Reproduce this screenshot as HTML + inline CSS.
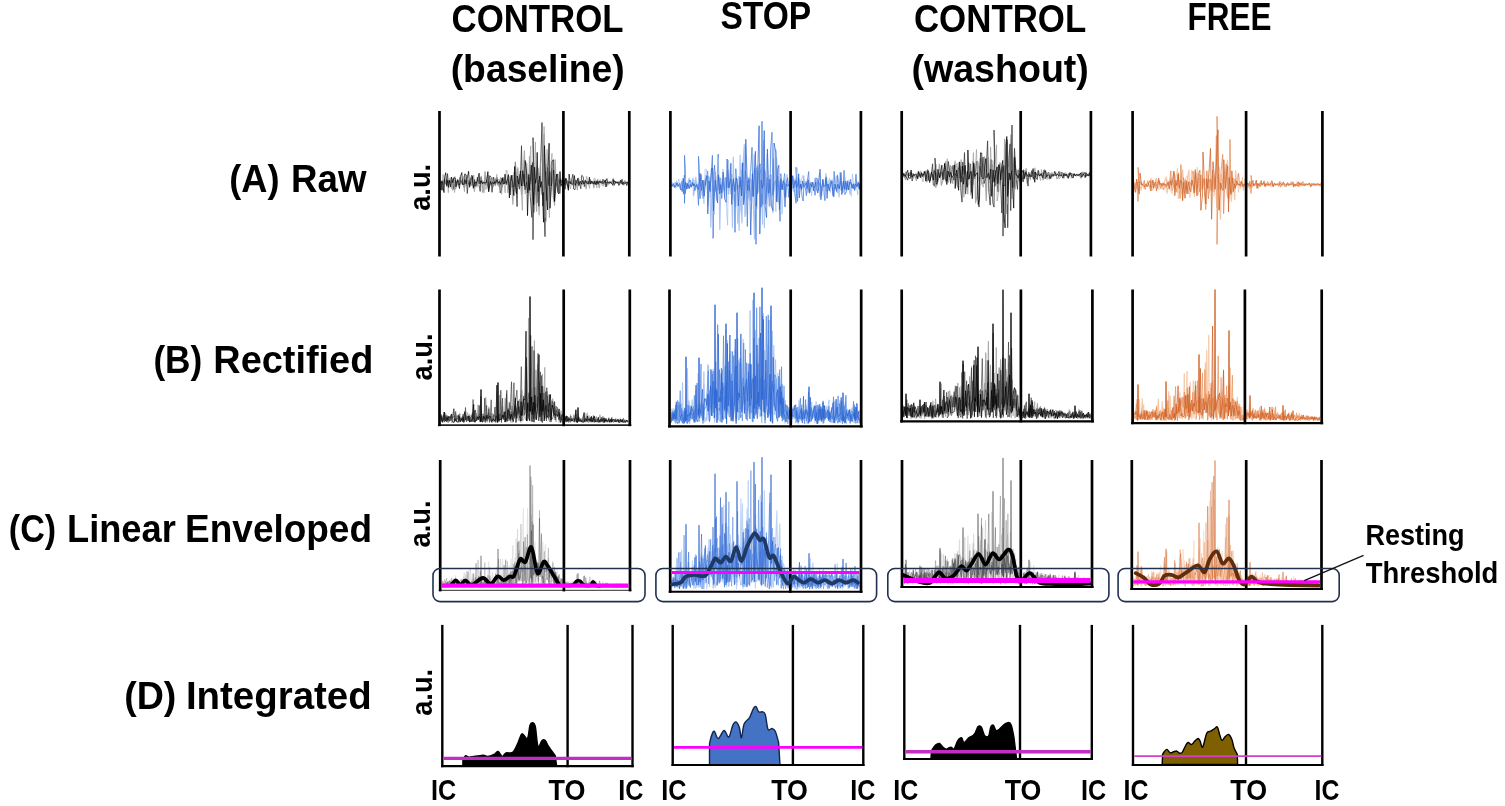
<!DOCTYPE html>
<html><head><meta charset="utf-8"><title>EMG processing figure</title>
<style>html,body{margin:0;padding:0;background:#fff;width:1505px;height:806px;overflow:hidden}svg{display:block}</style>
</head><body>
<svg width="1505" height="806" viewBox="0 0 1505 806">
<rect width="1505" height="806" fill="#fff"/>
<polyline points="440,180.5 440.8,185.4 442.3,180.6 443.2,184.2 444.5,179 445.8,182.7 447.2,180 448.7,184.4 450.2,178 451.4,182.7 452.7,190.1 453.3,179.4 454.9,176.7 455.6,188.8 457.4,182.4 458.9,182.9 459.7,177.7 461,183 462.3,179.6 463.2,185.1 464.3,188.3 465.1,173.8 466,185.8 467,180.3 468.4,184.4 469.7,180.9 471.2,185.3 472.4,181.2 473.6,175.4 474.4,191.3 475.4,182.2 477,186.9 478.4,179.3 479.6,182.7 480.6,182.1 481.7,181.7 482.4,186.6 483.9,192.6 485,171.5 486.6,182.8 488.1,181.7 489.6,186.5 490.9,179.2 492.5,177.9 493.4,186.4 494.2,181.8 495.4,185.6 496.9,180.6 498.4,186.1 499.7,180.6 500.7,177.6 501.6,193.9 502.4,178.6 503.9,184.1 505.5,180.9 507.1,183.7 508.6,180 509.6,191.8 510.4,177.8 511.9,188.2 512.9,204.3 514,172.3 515.2,187.1 516.6,176.5 517.8,167.8 518.8,186.5 520.3,174.5 521.7,194.3 523,180.7 524.4,150.9 525.2,193.6 526.7,163.1 527.6,189.9 528.8,187.7 529.5,156.6 531,183.7 532,173 533,184.7 534.3,170.9 535.2,184.7 536.6,211.3 537.4,166.5 538.3,187.8 539.1,214.7 540,173.1 541.6,194.4 542.8,177 544.1,134.3 545,219.7 546.1,221.1 547.1,149.7 547.9,183.8 548.9,181 550.4,197 552,168.6 553.4,189.6 554.6,205.1 555.2,159.9 556.1,186.2 557.4,184.8 558.4,179.2 559.9,183 561.3,180.9 562.8,183.2 564.1,184.7 565,180.4 565.8,185.4 566.9,180 568,183.8 569.2,182.5 570.2,182.7 571.6,181.4 572.6,180.7 573.7,186.1 575.1,181.7 576.5,184.9 577.4,189.7 578.3,178.1 580.1,183.2 581,181.4 582.4,184.7 583.9,181.8 584.9,183.2 586.1,189 586.9,181.4 588.5,184.5 589.7,182.2 590.8,182.9 591.7,182.5 592.9,181.9 593.9,187.8 594.7,180.5 596.3,183.4 597.3,180.3 598.3,183.5 599.4,187.6 600.1,179.8 601.5,182.6 603,181.1 604,185.1 605.4,180.6 606.6,182.1 607.5,184.6 609.3,183.6 610.1,181.3 611,181.6 611.9,183.3 613.2,182.5 614.6,184.1 615.8,182.2 616.8,183.2 618.2,182.2 619.3,183.2 620.4,182.4 621.9,181.2 622.9,183 623.8,185.1 624.6,180.9 625.7,181.3 626.7,184.8 628.5,181.7" fill="none" stroke="#9a9a9a" stroke-width="1.2" stroke-opacity="0.85" stroke-linejoin="round"/>
<polyline points="440,183.1 441.2,181.6 442.8,190.3 444.2,179.5 445.2,182.9 446.5,185 447.5,173.6 448.3,182.8 449.7,181.2 451,182.7 452.5,180.3 453.9,189.3 455.3,180.3 456.8,183 458.3,180.4 459.3,185.2 460.9,180.7 462.3,184.4 463.7,183.8 464.6,174.2 466.3,175 467.3,193.5 468.3,182.4 469.3,184.3 470.9,177.7 471.9,175.1 472.8,184.7 473.9,186.9 474.6,179.5 475.7,186.3 476.5,184.4 477.4,177.1 479,184.5 480.2,191.4 480.9,177.3 482.6,182.9 484.1,181.9 485.6,184.8 486.8,179.7 487.7,186.1 488.6,190.4 489.6,175.8 491,176.7 492,192.3 493.6,177.1 495.1,184.4 495.9,178.7 496.9,177.2 497.6,184.1 498.5,182.3 499.5,181.1 500.2,192.9 501.8,187 502.9,177.3 504.5,184.1 505.8,182.5 506.8,184.7 507.8,179.3 509.2,183.6 510.2,195 511.2,175.3 512.3,186.9 513.7,186.6 514.6,180.7 515.4,161.9 516.3,192.3 517.1,206.6 517.8,179.8 519.5,189.2 520.5,177.5 521.5,145.7 522.3,185.8 523.9,174.1 525,189.7 526.4,182.1 527.8,192.9 528.8,177.2 530.3,196.4 531.8,217.4 532.5,162.5 533,239.6 533.8,170.5 533,137.6 533.8,212.6 534.6,183.9 535.4,179 536.9,202.7 537.9,180.3 538.8,206.3 540,180.6 542,122.6 542.8,206 543.6,192.4 545,236.6 545.8,171.3 546.6,200.6 547.5,167.6 548.9,185.7 550.1,171.6 551.1,186 552.4,181.4 553.7,170.1 554.6,201 556.4,182.1 557.8,173.9 558.9,192.2 560,193.3 560.7,179.6 561.8,182.6 562.8,179.3 564.3,180.9 565.1,189.2 566.1,178.4 567.4,182.7 568.4,188.9 569.2,181.3 570.7,184 571.5,180.4 572.9,174.3 573.6,189 575,189.8 575.8,179.9 577.5,183.6 578.4,181.6 579.9,184.5 580.8,188.7 581.7,175.3 583.2,176.7 584.3,186.7 585.6,180.4 587.2,182.7 588,181.2 589.2,183.8 590.1,179.6 591.5,183.3 592.8,181.5 594.2,184.2 595.3,181.6 596.5,184.8 597.4,181.3 599,183 600,181.5 601.3,183.4 602.2,183.2 602.9,179.2 604.6,182.9 605.5,182.3 606.9,178.5 608,183.4 609.5,181.7 610.8,182.8 612.2,182 613.2,178.7 614,185.5 615.7,181.1 617.2,183.1 618.5,182.2 619.6,182.7 621,182.6 622.1,179.2 622.8,185 624,182.5 625.6,182.1 626.7,185.5 628.3,181.9" fill="none" stroke="#3a3a3a" stroke-width="1.0" stroke-opacity="0.8" stroke-linejoin="round"/>
<polyline points="440,182.6 440.9,183.5 442,185.5 443,174.4 444.8,183 445.7,183.7 446.5,178.7 447.5,183.3 448.3,192.7 449.2,180.9 450.1,183.7 451.4,188.8 452.4,179.6 453.8,179.3 454.5,192.5 455.9,180.7 457.1,185.3 458,182 458.9,184.3 459.8,178.2 460.9,184.6 462.5,180 463.6,176.3 464.4,191.7 465.2,180.1 466.8,183.2 468.2,180 469.6,186 471,181 472.2,186 473.5,181.8 474.7,183.8 476.1,182.5 477.3,183 478.3,181.9 479.4,182.9 480.3,176.8 481.5,176 482.3,192.6 484,182.4 485.2,176.9 485.9,189.6 487.1,179.5 488.2,175 489.1,188.6 490.8,178.5 492,184.2 492.9,182.5 494.3,183 495.7,183.8 496.8,174.3 497.8,185.2 498.9,179.1 500.2,181.6 500.9,191.3 502.6,181.2 504.1,184.5 505.2,192.8 506.1,170.3 507.1,170.5 507.7,192.8 509,181.1 510,176.1 510.8,186.1 511.9,181.3 513.4,191.9 514.7,191.1 515.5,162.1 516.5,179.2 517.5,187.2 519.3,174.5 520.8,184.5 522.4,210.4 523,175.2 524.7,185.6 526,174.6 526.9,173.8 527.9,187.4 529.2,175.1 530.7,145.9 531.5,192.6 533.1,192 534.1,178.9 535.4,142 536.3,203.7 538.1,168.2 539.1,186 540.4,161.4 541.6,188.4 542.9,181.3 544.1,126.5 545.1,217.9 546.8,164.6 547.9,186.5 549.4,217.6 550.4,168.4 552,153.3 553.1,198.6 554,199.2 554.9,174.3 556.5,183.2 557.6,179.4 558.7,185.3 559.7,181.9 561.2,186.9 562,178.3 563.5,175.8 564.1,188.7 565.7,179.2 567.2,183.8 568.2,182.6 569.1,184.5 570.5,188.8 571.3,181.2 572.1,185.3 573.4,181.3 574.6,184.4 575.4,182.2 576.7,185.4 577.8,185.3 578.5,181.2 580,185.1 581.1,181.6 581.9,183.5 582.8,180.9 584.2,180 584.8,183.3 585.9,183.1 586.6,176.2 588.4,183.3 589.5,188.4 590.2,180.2 591.8,182.8 593.3,184.4 594.1,178.3 595.1,178.4 595.9,184.1 596.9,188 597.7,178.9 598.9,183.2 599.7,181 600.7,181.8 601.8,184.8 603,186.3 603.9,180.2 605.4,180.4 606,186.5 607.7,185.9 608.5,181.6 610,182.9 611.3,182.5 612.1,183.1 613.2,186.1 614.1,181.3 615.6,182.9 616.5,182.1 617.4,182.9 618.5,181.9 619.9,181.4 620.6,182.9 621.9,182.9 622.5,181.9 623.3,181.3 624,183.2 624.9,182.4 626.2,183.2 627.4,181.7 628.6,181.1" fill="none" stroke="#9a9a9a" stroke-width="1.0" stroke-opacity="0.65" stroke-linejoin="round"/>
<polyline points="440,185.9 441.2,190.2 442,180.9 442.9,185.8 444,192.6 444.7,176.8 445.7,172.7 446.8,186.3 447.7,180.2 448.6,187.5 449.4,180.3 450.6,186.9 451.5,177 452.9,182.7 453.8,177.8 455.2,178.1 456,186.8 457.4,179.5 458.3,183.5 459.5,188.5 460.4,176.7 461.8,172.6 462.5,184.2 464.2,184.4 464.8,179.5 466.2,183.9 467.5,176.8 468.6,171.3 469.6,187.3 471.3,179.7 472.5,176.5 473.3,188.3 474.9,181.8 476,183.5 477.6,180.2 479.1,173.2 479.9,183.8 481.2,180.7 482.5,184.1 483.5,182.5 484.9,183 486.5,182.4 487.9,171.6 488.7,191.9 490.3,181.4 491.2,184.5 492.6,182.2 493.7,184 494.7,181.9 495.6,183.2 497,179.5 498.2,183.1 499.8,181.5 500.7,184.4 502.2,178 503.2,183.9 504.1,183.6 505,174.2 506,183.3 507.3,179.6 508.4,174.6 509.4,197.9 510.4,181.7 512,175.2 513.1,188.9 513.9,195.6 514.7,166.5 515.6,187.6 516.5,193.7 517.3,175.9 518.9,184.2 520.4,170.9 521.5,186.1 522.8,170.7 524.4,186.2 525.2,160.5 526.8,175.8 527.5,215.6 528.8,174.4 529.8,190.3 531.3,165.1 532.8,193.2 533.6,204.7 534.6,167.2 535.6,183.3 536.4,179.3 537.2,152.4 538.2,191.5 539.7,176.2 540.6,187.2 541.6,181.7 542.7,197.8 543.5,222.2 544.5,145.7 546.1,185.8 547.6,210 548.2,166.7 549.1,143.3 550,208.3 551.3,186.6 552,161.2 553.6,159.8 554.3,201.7 555.6,182.3 556.7,174 557.7,192.1 558.9,194 560,171.5 560.9,185.8 562.1,183.6 563.1,173.8 564.1,182.6 564.9,184.7 565.6,178.4 566.4,181.4 567.4,185 568.4,190.3 569.1,174.1 570.4,183.3 571.3,182.5 572.1,184.5 573.4,183.2 574.4,175.6 575.3,185.3 576.7,182.3 577.9,178.2 578.9,185.6 580.2,181.3 581.6,184.1 582.6,180.4 583.5,183.6 584.4,183.5 585.3,180.5 587,183.7 588.6,183.5 589.4,177.2 590.5,184.1 591.5,180.9 592.7,183.4 593.7,183.7 594.5,181.1 595.8,184.6 597,180.8 598,184.2 599.1,181.1 600.2,182.6 601.1,181.3 602.6,183.7 604.1,182.4 605.3,179.9 605.9,186.9 607.1,182 608.2,182.7 609.6,183 610.4,182 611.9,184.2 613,184.4 613.8,180.1 615.6,183 616.7,182.4 617.9,182 618.8,185.4 619.6,184.8 620.5,180.2 622,184 623.2,182.3 624.5,183.8 626.1,182.6 627.1,182.7 628.3,182.4" fill="none" stroke="#000000" stroke-width="0.9" stroke-opacity="0.8" stroke-linejoin="round"/>
<line x1="439.5" y1="111" x2="439.5" y2="256.5" stroke="#000" stroke-width="2.7"/>
<line x1="563.4" y1="111" x2="563.4" y2="256.5" stroke="#000" stroke-width="2.7"/>
<line x1="629.3" y1="111" x2="629.3" y2="256.5" stroke="#000" stroke-width="2.7"/>
<polyline points="670.9,184.9 672.2,185.6 673.7,184.6 674.6,186.3 675.8,188.1 676.6,180.8 677.8,186.9 679,185 680,186.1 681.3,182.8 682.8,180.6 683.8,192.8 684.9,184.2 686.5,186 687.6,187.4 688.3,180.6 689.2,178.1 690.1,187.1 691.5,184 692.9,178.1 693.5,195.9 695.2,186.3 695.8,177.3 696.8,186.8 698.1,184 699.3,190.8 700.5,183.9 702,195.1 703,181.7 704.2,191.8 705.7,175.6 707.1,176.5 708,205.7 708.8,176.3 709.9,179.8 710.8,227.2 712.2,184.7 713.1,191 714.3,190.5 715.3,172.3 716.5,200.2 717.6,178.6 719,177.2 719.8,229.6 720.9,182.4 722,189.2 722.9,169.4 724.2,189 725,177.5 726.6,194.3 727.6,172.1 728.7,194 730,178.3 731.5,190.1 732.5,227.3 733.3,157.2 734.2,199.3 735.6,206.7 736.4,178.2 738,196.3 739.2,230.4 740.1,155.2 741.1,208.3 742,222.9 742.7,168.9 744.3,144.3 744.9,216.6 745.8,213.3 746.6,175.6 748,198.8 748.9,180.6 750.5,200.3 751.6,179.6 753,193.9 754.5,239.1 755.6,170.7 756.9,208.6 757.7,171.5 758.9,188.9 760.3,169.6 761.3,189.8 762.7,224.3 763.4,142.5 764.6,185.5 765.5,172 766.4,197.6 767.6,184.3 769,196 770,175 771.4,175.4 772.2,196.4 773.1,184.2 774.1,190.8 775,184.6 776,149.9 776.8,200.8 778.5,188.1 779.1,181.5 779.9,192.2 781,184.8 782.6,186.6 783.4,189.1 784.3,179.6 785.2,194.1 786.3,196.9 787.1,174.5 788.3,185.7 789.5,182 790.9,186.2 792,185.1 793.4,191.2 794.6,181.7 795.4,179.1 796.2,199.7 797.6,181.8 798.8,188.7 800.4,181.3 801.5,188 802.7,187.5 803.8,176.1 804.9,186.2 806.3,181.3 807.9,192.7 809.5,183.3 810.4,190.9 811.4,184.7 812.5,187 814,187.4 814.7,178.6 816.3,186.4 817.3,178.6 818.9,182.7 819.9,196.8 821.6,187.8 822.7,184 823.9,186.1 824.9,186.9 825.8,173.6 827.1,181.7 828.2,186.8 829.6,182.2 830.4,186 831.4,180.4 832.7,182.4 833.8,189.2 835.4,188.5 836.1,177.1 837.4,175.1 838,186.8 839.1,196.9 840,172.3 841.6,181.7 842.6,192.8 843.9,185.3 845.4,188.7 846.3,181.6 847.4,187.5 848.9,180.1 850.3,193.6 851.6,182.8 852.9,188.4 854,184.7 855.1,189.8 856.7,181.7 858.2,186.2 859.4,184.2 860.4,187.6" fill="none" stroke="#9dbcee" stroke-width="1.2" stroke-opacity="0.85" stroke-linejoin="round"/>
<polyline points="670.9,186.7 672.4,185.1 673.7,186.7 674.6,187.4 675.7,182.8 676.8,183.8 677.6,186.3 678.5,185.1 679.5,187.1 680.8,190 681.7,181.6 682.6,185.9 683.5,194.2 684.4,175 684.5,203.3 685.3,173.1 684.5,155.3 685.3,193.6 686.1,186.1 686.9,183.1 687.8,187.9 688.7,182.3 690.3,180 691,186.4 692.6,184.6 693.8,183.9 694.9,190.7 696.6,184.3 697.6,190.7 698.5,205.3 699.3,173.9 698.5,156.3 699.3,191.5 700.1,198.8 701.1,174.4 702,186.8 703.2,198.5 703.9,180.3 705,185.8 706.2,181.6 707.6,171 708.7,188.4 710,189.3 710.8,180.8 712.4,155.4 713.3,235.8 713,238.3 713.8,174.2 714.6,165 715.9,191.4 717,183.7 718.2,154.1 719.1,189.4 720.2,177.8 721.7,198.5 723,182.6 724.4,191.7 725.8,177.6 727,187.6 728.1,169.7 729.3,187.7 730.8,179 731.8,190.5 733.2,180.6 734.3,186.3 735,232.3 735.8,168.7 736.6,181.9 737.4,189.9 738.4,185 739.6,188.2 740.9,179.7 741.7,195.4 742.9,162.6 744.1,201 745.4,170.8 746.5,179.5 747.3,226.5 748.3,180.3 749.3,190.6 750.9,167 752,147.4 752.9,196 754.6,168.1 756,244.3 756.8,167.6 757.6,193.7 758.9,166.8 760.2,163.8 761.2,207.1 762,121.3 762.8,204.7 763.6,177.7 764.6,169.9 765.6,203.8 767.2,177.5 768.5,194.2 769.9,205.8 770.6,149.4 772,132.3 772.8,195.1 773.6,187.1 774.5,181.8 775.7,180.6 776.6,201.5 777.6,176 779.1,193.3 780,221.3 780.8,173.7 781.6,182.1 782.6,190 783.7,181 784.6,173.6 785.2,197.4 786.2,182.4 787.6,177.8 788.7,197.4 790.2,180.1 791.4,188.8 792.3,182.7 793.8,178.6 794.6,192.7 796,203.3 796.8,181.4 796,167.3 796.8,190.2 797.6,201.4 798.6,177.9 799.8,187.9 801.1,184.2 802,196.3 803.2,201 803.9,183 805.4,188 806.4,195.7 807.4,180.6 808.7,171.6 809.5,193.3 811.1,186.8 811.8,182.1 813.1,183.8 813.8,187.3 815.1,195.3 815.9,177.7 817.2,179.6 818.1,191.2 819.7,182.5 820.7,185.4 822,191.1 822.7,180.4 824,189.1 824.9,200.6 825.8,179.5 827,185.7 828.1,184.3 829.5,189.4 830.8,180.4 832.4,187.6 833.4,196.4 834.1,171.3 835.1,185.8 836.6,188.7 837.5,175.4 839.3,188.6 840.5,181.6 841.9,190.5 843.3,184.8 844.1,170.3 844.9,194.5 846.6,191.3 847.4,180.7 849,190.1 850.6,179.4 851.8,187.6 852.7,184.3 853.6,188.6 855.1,184.7 856,174.2 856.9,187.2 858.4,181.8 859.6,189.6" fill="none" stroke="#4a82e0" stroke-width="1.0" stroke-opacity="0.8" stroke-linejoin="round"/>
<polyline points="670.9,184.6 672.1,182.4 673,186 673.9,184.7 675,182.1 675.8,185.7 677.4,185.1 678.9,178.9 679.6,187 681.3,189.1 682.3,178.4 683.5,178.7 684.1,187.5 685.3,178.1 686.2,185.6 687.6,189.1 688.4,182.9 689.7,188.4 690.9,182.1 692,185.9 693.2,182.4 694.1,179.7 695,186.9 696.5,184.5 697.5,185.5 698.7,180.1 700.1,189.5 701.6,184.9 702.5,192.1 704,203.8 705.1,169.2 706.6,169.4 707.7,194.2 709.3,177.9 710.4,197.6 711.4,171.3 712.9,188.5 714.3,214.8 715.1,181.7 716.5,185.7 717.5,191.1 718.2,157.9 719,189.5 720,193 720.8,178.1 722.5,191.3 723.4,179.1 724.6,196.8 725.7,179.1 726.8,212 727.6,225.2 728.5,160.1 729.7,180.1 730.5,194.2 731.6,174 733.2,179.2 734.2,194.3 735.4,174.4 736.3,190.4 737.8,223.7 738.8,176 740.2,196.6 741.2,212.4 741.9,169.8 743.4,186.2 744.5,201.6 745.6,146.1 746.8,190.6 748,183 749.3,185.4 750.3,169.9 751.9,196.1 753.1,190 754.1,154.4 755,202.1 756.1,191.7 757.1,165.1 758.8,192.2 760.1,173 761.3,193.7 762.7,179.7 763.7,140 764.4,228.2 765.7,179.2 767.2,153.8 768.2,204 769.6,207.1 770.6,179.9 771.9,197.7 773,212.9 773.6,158.7 774.9,185.9 775.9,211.7 776.6,157.2 777.5,168.7 778.3,202.9 780.1,183.4 781,175.9 782,214.2 783.7,184.8 784.9,175.3 785.7,188.5 787,182.8 788,187.4 789.1,184.7 790.1,183.3 791.1,190.7 792.2,189.3 793,176.2 794.6,189.9 795.7,179.6 797.1,167.6 798.2,193.6 799.9,179.7 800.8,186.5 801.6,178.5 802.9,175.3 804,186.9 805.7,181.1 806.9,187.3 808.3,182.3 809.2,188.9 810.1,181.5 811.5,195.8 813,184.6 814.2,186.5 815.6,189.5 816.4,183.3 817.9,187 819.1,184.6 820,173.1 821,190.1 821.9,196.2 822.9,180.5 824,195.5 825.3,183.5 826.5,182.9 827.1,191.8 828.3,182.6 829.6,178 830.5,192.5 832,182.8 833.2,178.6 834.1,188 835.7,181.7 836.6,180.3 837.3,193.2 838.9,180.4 839.9,181.3 840.7,190.4 841.5,183 842.8,187 844,192.4 845,177.1 846.6,189.9 847.5,185.2 849.1,183.7 849.7,194 851.5,196.3 852.4,173.9 853.8,185.8 855.3,183.8 856.7,188 857.7,194.7 858.6,182.7 859.6,188.8" fill="none" stroke="#9dbcee" stroke-width="1.0" stroke-opacity="0.65" stroke-linejoin="round"/>
<polyline points="670.9,184.8 672.3,186.2 673.3,183.5 674.5,186.6 676,185.9 677.1,182.9 678.2,185.5 679.7,183.4 680.7,188 682.2,191.5 683.3,178.5 684.4,187.8 685.5,182.2 686.7,189.2 687.7,183.6 689.1,188.7 690.2,184.4 691.3,187.2 692.5,182.4 693.3,186 694.2,183.6 695.2,186.8 696.7,184.6 698.1,189.4 699.1,186.9 700,173.3 701.4,190.2 702.8,180.1 704.2,196.3 705.6,180.2 707.1,175.6 707.8,213.9 709.1,181 710.1,191.7 711.5,168.5 712.7,168 713.5,210.9 715.2,180.2 716.1,189.2 717.5,203 718.3,174.9 719.8,194 720.7,184.5 721.8,192.7 723.2,172.2 724.7,199 726.1,202.3 727.1,159 728.7,187.8 730.1,180.9 730.9,163.2 731.7,204.4 733.3,178.8 734.9,191.6 736.1,177.9 737.2,179 738.3,205.9 740,176.8 741.5,196 742.3,163.3 743.6,204.6 745,191.2 745.8,139.2 747.5,190.5 748.5,177.8 749.7,179.2 750.7,235 752.4,173.6 753.2,196.8 754.1,178.8 755.4,151.3 756.2,206.1 757.6,175.4 759.1,125.8 759.8,234 761.2,180.2 762.5,188.3 763.3,183.6 764.2,130.6 765.1,206.3 766.6,217.6 767.4,149.1 768.9,193.2 770,179.2 771.5,206.8 773,210.7 774,143 775.8,152.1 776.8,201.9 777.7,169.1 778.8,165.3 779.4,209.6 780.8,178.8 781.9,189.5 783.1,180.8 784,182.6 785,206.9 786,183.7 787.5,186.2 789,184.2 790.6,185.4 791.8,185.2 792.7,175.6 793.5,188.2 795.3,180.7 796.5,187.3 797.8,184.9 798.7,173.8 799.3,197.9 800.6,184 801.7,189.4 802.6,181 804,187.1 805.3,185.2 806.4,182.5 807.1,188.6 808.2,179.8 809.3,192.4 810.3,183.3 811.8,186.6 812.8,182.1 813.6,190.9 814.9,184.7 815.8,182.2 816.4,188.9 817.8,193 818.6,181.1 820.1,169.2 820.9,199.8 822,187.6 822.9,179.1 823.9,186.8 825.3,185.2 826.1,177.3 827.1,198.4 827.9,184.1 829.2,191.1 830.6,184.5 832.1,181.4 832.8,195.1 833.9,196.7 834.9,184 836.5,191.5 837.8,184.2 839.2,188.6 840.1,184.9 841,172.5 841.8,194.6 843.3,181.4 844.4,189.2 845.3,181.2 846.3,190.1 847.2,182.7 848.2,190 849.8,182 851.3,184 852.1,188.2 853.6,183.8 854.5,190.4 855.6,183.9 857,186.6 858.4,183 859.2,189 860,183.2" fill="none" stroke="#2b62d0" stroke-width="0.9" stroke-opacity="0.8" stroke-linejoin="round"/>
<line x1="670.4" y1="111" x2="670.4" y2="256.5" stroke="#000" stroke-width="2.7"/>
<line x1="790.6" y1="111" x2="790.6" y2="256.5" stroke="#000" stroke-width="2.7"/>
<line x1="860.9" y1="111" x2="860.9" y2="256.5" stroke="#000" stroke-width="2.7"/>
<polyline points="902.2,176.3 903.2,174 904.8,177.5 905.7,179.8 906.6,173.5 908.3,175.7 909.3,173.3 910.8,172.1 911.8,175.8 913.1,178.4 914,174.3 915.3,177.2 916.4,180.6 917.1,173.6 918,175.6 919,176.8 919.8,174.1 921.1,176.8 922.4,174.3 923.7,177 924.8,172.9 926.3,170.7 927,176 928.4,180.1 929.1,173.4 930.3,178.7 931.1,174 932.4,175.5 933.7,179.8 934.7,170.2 936.1,164.6 936.7,185.8 938.4,179.6 939.3,164 940.3,170.5 941.3,185.3 942.9,180.6 943.6,169.7 944.7,176.7 945.7,181.7 946.4,168 947.2,159 948.1,182.4 949.3,177.8 950.4,165.7 951.6,178.2 952.7,183.4 953.7,171.8 955.1,161 956,185.5 957.2,174.6 958.2,162.9 958.9,177.6 960.2,178.4 961.1,159.9 962.4,168.6 963.1,184.8 963.9,197 964.7,166.5 966.3,179.6 967.8,193.8 968.6,162.7 970.1,172.2 970.9,195 971.8,174.4 972.8,184.7 974,163.2 974.9,170.5 975.6,202.8 976.9,196.7 977.8,172.2 979,181 980.2,158.6 981.1,159.1 982,183.9 983.4,183.1 984.4,157.1 985.2,177.5 986.3,200.6 987.1,169.2 988.4,158.2 989.3,182.7 990.8,163.2 992.3,177 993.2,180.6 994.2,160.9 995.9,184.9 997.1,167.7 998,179.4 998.8,172.4 1000.1,184.2 1001,163.2 1002.2,176.1 1003.6,221.9 1004.6,139.2 1005.4,176 1006.7,213.6 1007.4,142.7 1008.4,193.6 1009.5,165.8 1010.9,134.8 1011.8,198.5 1012.7,172.9 1014.2,156.9 1015.3,189 1017,170 1018.2,173.1 1019.3,180.9 1020.9,172.5 1022.3,173.1 1023.3,181.7 1025,173.9 1026.2,168.5 1027.2,183.2 1028.2,174.3 1029.1,176.6 1030.4,179.6 1031,172.8 1032.4,176.2 1034,179.4 1034.8,168.1 1035.8,176 1036.8,177.4 1037.8,171.9 1038.8,171.4 1039.6,175.6 1041.3,174 1042.2,172.9 1042.9,179.8 1044.5,178.4 1045.5,171.6 1047,173.3 1047.7,176.9 1049.4,179.1 1050.3,173.9 1052,172.7 1053,176.6 1054.7,174.8 1056.1,173 1056.8,178.7 1058.2,177.8 1059,173.6 1060.8,172.2 1061.5,175.4 1063.2,174.9 1064.4,175.5 1065.5,174.5 1066.6,175.6 1067.9,174.5 1069.5,175.2 1070.8,174.6 1071.7,175.3 1072.8,176.1 1073.6,174.7 1074.7,174.4 1075.5,175.4 1076.9,174.3 1078,175.2 1078.9,174.7 1080.1,175.3 1081,178.2 1082,174.8 1083,172.2 1084,175.4 1085.2,177.1 1086,172.4 1087,175.2 1088.3,174.6 1089.9,175.5" fill="none" stroke="#9a9a9a" stroke-width="1.2" stroke-opacity="0.85" stroke-linejoin="round"/>
<polyline points="902.2,174.1 903.7,176.3 904.8,174.9 906.2,176.8 907.7,180.2 908.6,173 909.4,175.9 910.6,173.1 911.5,173.2 912.2,181 913.1,173.5 914,175.3 915.3,174.2 916.7,174.2 917.5,178.1 918.5,172.6 920,176.1 921.2,172.4 922.7,176.9 923.6,172.7 925,172.3 925.8,176.2 926.9,181.2 927.7,169.6 928.9,172.8 929.6,182.7 931.3,174.8 932.6,163.8 933.3,185 934.5,186.1 935.4,167.8 935,158.1 935.8,180.1 936.6,172.5 937.4,181.5 939,172.9 939.9,177.1 941.3,171.9 942.6,176.6 943.6,172.9 944.6,163.7 945.6,180.2 947.3,180.7 948.3,161.5 949.5,170.1 950.6,183.4 951.7,172.6 953.1,165.3 953.7,180.1 954.9,173.4 956.2,175.5 957.4,176.2 958.2,169.1 959.9,166.5 960.9,191.1 962,202.1 962.8,162.1 963.6,173.7 964.5,152.6 965.6,194.1 967.3,171.1 968.3,179.8 969.7,173.6 970.6,164 971.4,192.5 973.2,161.4 974.7,178.8 976.1,165.3 977,161 978,196.9 979,207.1 979.8,166.4 980.6,170.1 981.6,177 983.1,157.1 984.1,183.5 985.6,178.7 986.3,167 987.6,140.9 988.6,188.6 990.2,205.1 990.9,159.8 991.8,160 992.8,202.9 994,207.1 994.8,155.6 994,130.1 994.8,186.5 995.6,170.4 996.8,180.2 998.1,191.9 998.8,165.2 1000.4,175.9 1001.8,213 1002.9,166.8 1003,236.1 1003.8,165.4 1004.6,185.9 1006,173.7 1007,139.5 1007.7,227.7 1008.9,158.6 1010.1,143.8 1010.7,210.6 1012,125.1 1012.8,187.8 1013.6,180.4 1014.5,148.3 1016.1,177.5 1017.5,189.4 1018.3,170 1019.4,174.1 1020,181.6 1021.2,171.1 1022.3,176.9 1023.1,181.7 1023.7,169.7 1024.9,176.6 1026.2,171.1 1028,186.1 1028.8,172.3 1029.6,176.7 1030.8,176.9 1031.7,170.6 1033.1,178.3 1033.9,179.2 1034.9,172 1035.7,177.5 1037.3,179.7 1038.2,170.2 1039.2,176 1040.7,175 1042.3,176.2 1043.7,174.3 1044.7,171 1045.6,178.7 1047.4,174 1048.8,172.2 1049.6,178.2 1050.7,174.5 1051.8,175.3 1053.4,174.5 1054.2,174.7 1054.9,175.4 1056.6,175.5 1057.6,174.7 1059,171.4 1059.7,175.4 1061.1,175.6 1061.9,172.2 1063.3,174.3 1064.3,176.3 1065.6,174.2 1066.7,174.1 1067.4,177.4 1068.2,178.5 1069,173.2 1069.9,175.1 1071.2,173.4 1072.6,174 1073.2,175.5 1074.3,173.6 1075.5,175.5 1076.8,174.7 1077.8,175.6 1079.3,175.6 1080,173.9 1081.3,172.5 1082.1,175.8 1082.9,174.1 1084.3,175.1 1085.4,177.4 1086.3,173.1 1087.5,175.3 1088.3,173.7 1089.5,176.2" fill="none" stroke="#3a3a3a" stroke-width="1.0" stroke-opacity="0.8" stroke-linejoin="round"/>
<polyline points="902.2,173.8 903.1,176 904.8,178.1 905.6,171.6 907,175.5 908,174.9 909.3,172.9 909.9,175.8 911.2,174.5 912,173.7 912.7,179.2 914.2,174.9 915.3,176.6 916.8,177.3 917.9,171.6 918.9,175.9 919.8,174.9 920.8,170.7 921.8,178 923,181.8 924,171.1 925.6,175.1 926.9,182.2 927.7,170.9 929.4,175.3 930.7,173.8 932.1,175.9 933,181.2 933.7,173.6 934.8,176.6 935.8,188 936.4,169 938,178.3 939.6,169.3 940.9,176.4 942,171.7 943.6,178.5 944.6,178.8 945.4,161.4 946.8,176.6 948,172.4 949.2,177.8 950.5,177.2 951.6,166.3 953.3,175.5 954.4,179.2 955.1,169.9 956.5,163.7 957.4,187.6 958.7,180.4 959.7,165.8 961.2,166.7 961.9,178.1 963.5,170.9 965,178.3 966,172.2 967.2,183.2 968.7,184.7 969.8,163.2 971.2,181.3 972.6,166.3 973.4,152.6 974.2,178.5 975.2,171.4 976.5,149.5 977.5,191.1 978.7,162.5 979.7,176.6 980.7,173.2 981.9,184.3 983.3,187.2 984.1,156.7 985.5,175.3 987.1,173.7 988.1,157.5 988.8,186.4 989.7,191.5 990.6,146.9 991.8,177.9 992.7,164.6 994.1,177.4 995.1,167 996.5,144.8 997.1,200.9 998.8,192.2 999.8,162.1 1001.5,172.4 1002.1,183.1 1003.1,172.2 1004.3,184.9 1005.5,174 1006.4,169.9 1007.4,204.2 1008.4,167.1 1009.5,179.5 1010.7,170.9 1012.2,171.6 1013.3,178.2 1014.7,187.3 1015.5,163.2 1016.5,180.3 1017.9,174.3 1019.2,168.4 1019.9,183.2 1021.2,181.9 1022.2,170.2 1023.7,176.6 1025,178.5 1026,171.2 1026.9,175.1 1028.4,178.1 1029.4,173.2 1030.6,176.7 1031.7,174.3 1032.5,173.5 1033.3,176.9 1034.6,174.3 1035.9,176.4 1036.7,176.6 1037.6,173.6 1039.1,175.9 1040.6,180.6 1041.4,169.4 1042.5,174.6 1043.1,175.6 1044,177.5 1045,173.7 1046.2,175.2 1047.2,179.4 1047.9,172.3 1049.3,173.5 1050.3,175.5 1051.2,174.7 1052.3,176.9 1053.5,174.8 1055,174.2 1056,175.7 1056.8,175.1 1058.2,173 1059,178.8 1060.3,177.6 1061.1,172.4 1062.6,175.6 1064.2,178.4 1065.2,172.2 1066.4,174.3 1067.3,176.8 1068.8,174.8 1070.4,172.4 1071.4,178.3 1072.6,175.5 1073.6,173.2 1075.1,175.2 1076.2,176.5 1077.3,174.6 1078.8,173.9 1079.8,176.8 1081.5,176.5 1082.6,172 1083.6,172.4 1084.6,178 1085.5,174.6 1086.8,175.5 1088.4,174.1 1089.7,173.6" fill="none" stroke="#9a9a9a" stroke-width="1.0" stroke-opacity="0.65" stroke-linejoin="round"/>
<polyline points="902.2,175.3 903.2,175.7 903.8,173.2 905.3,176.6 906.3,173.3 907.7,170.3 908.7,177.9 910.3,178.4 911.1,170 912,177.3 913.2,174.9 914.7,175.3 915.5,174.8 916.4,175.5 917.7,178.9 918.6,171.3 919.5,174.4 920.5,177.7 921.6,172.9 922.7,175.6 923.6,175.1 924.8,171.4 925.8,181.2 926.6,174.5 928.1,171 928.8,180.2 930.3,180.7 931.4,172.1 932.5,175.3 933.3,180.2 934.1,170.6 935.4,172.2 936.1,183.6 937.1,184.2 937.9,169.3 939.6,178 940.4,174.7 941.8,165.1 942.8,179.8 943.6,179 944.7,163.4 946.1,171.8 946.8,184.5 948,171 949.4,177 950.5,172.3 952,177.7 953.5,175.1 954.6,164.9 955.2,188.5 956.6,170 957.6,178.4 958.6,190.3 959.6,161.9 961.1,182.2 962.4,166 963.5,184.2 965.1,165.3 966.2,180.4 967.3,187.2 967.9,150 969,179 970.5,171.9 971.3,171.4 972.3,198.6 973.7,163.2 974.7,176.5 976,174.1 977.4,172.8 978.2,204.5 979.5,199.5 980.5,152.8 981.7,153 982.3,178.7 984,177.9 984.7,166.3 985.8,158.5 986.9,177.8 988.3,173.3 989.5,179.3 990.8,169.2 991.7,196.3 993.1,169.9 994,182.2 995.6,173.8 997,166.8 997.8,183.7 999,164.4 1000.2,171.5 1000.8,179.8 1001.6,168.9 1002.8,160.4 1003.9,212.5 1005.1,227.9 1005.9,145.1 1006.8,136.5 1007.7,196.4 1009.1,173 1010.2,179.8 1011.7,170.7 1012.9,191.1 1013.7,208.1 1014.7,157.4 1016.1,175.3 1016.9,174.7 1018.1,178.2 1019.3,174.3 1020.9,176.7 1022.1,171 1023.4,171.4 1024.1,178.8 1025.8,172.3 1027.2,175.6 1028.8,176.5 1029.5,174.2 1031.1,176.9 1032.1,174.9 1033.1,168.6 1034,177.8 1034.8,182.3 1035.5,172.1 1037.1,175.4 1038.6,174.4 1039.8,175.8 1041.2,173.5 1042.2,176.3 1043,178.2 1044,169.9 1045.5,170.6 1046.6,176.8 1048.2,174.8 1049.8,176 1050.8,178.7 1051.9,174.6 1052.9,175.7 1053.7,175.4 1054.7,171.3 1056.2,175.4 1057.7,174.3 1059.1,176.3 1060.5,174.9 1061.5,175.1 1063,178.2 1063.9,173.3 1065.2,175.8 1066.2,174.2 1067.5,176.6 1068.8,177.5 1069.9,172.7 1071.3,174.8 1072.2,177.5 1073.2,177.9 1074.1,174 1075,175.9 1076.4,174.6 1077.4,175.1 1079,175 1080.6,173.2 1081.3,177 1082.2,176.8 1083.2,174.7 1084.9,172.4 1085.7,176.8 1087.4,174.6 1088.2,175.9 1089.1,175.4 1089.7,172.2" fill="none" stroke="#000000" stroke-width="0.9" stroke-opacity="0.8" stroke-linejoin="round"/>
<line x1="901.7" y1="111" x2="901.7" y2="256.5" stroke="#000" stroke-width="2.7"/>
<line x1="1020.7" y1="111" x2="1020.7" y2="256.5" stroke="#000" stroke-width="2.7"/>
<line x1="1090.9" y1="111" x2="1090.9" y2="256.5" stroke="#000" stroke-width="2.7"/>
<polyline points="1133.1,182.9 1134.1,191.1 1135,183 1136.4,189 1137.8,181.7 1138.8,181 1139.9,185.9 1141.3,190.2 1142.1,183.8 1143.1,185.1 1144,188.5 1144.8,183.9 1145.8,184.5 1146.8,186.3 1147.8,180.5 1149.1,186.1 1150,189.2 1150.9,178.2 1152.1,183.9 1152.9,190.2 1154.7,185.7 1155.8,178.9 1156.8,181.5 1157.4,188.1 1159,181.1 1159.9,185 1161.2,183.9 1162.5,186.2 1163.5,185.1 1164.5,181.1 1166.3,177.1 1167,193.1 1168.7,184.2 1169.7,187 1171.2,178 1172.5,184.7 1173.6,181.2 1174.5,190 1175.7,183.1 1176.6,185.6 1177.7,192.4 1178.6,172.7 1180,192.1 1181.3,183.8 1182.7,169.8 1183.7,189.7 1184.9,179.6 1186.4,191.1 1187.4,179.6 1188.9,170 1189.9,197.5 1190.8,182.8 1192.3,185.1 1193.3,177.1 1194.4,196.7 1195.2,173.1 1196.5,187.5 1197.6,184.3 1198.7,187.5 1199.8,175.2 1200.9,190.5 1202.3,180.7 1203.7,184.8 1204.7,178.6 1206,184.4 1207.2,187.4 1207.9,170.7 1209.3,192.8 1210.7,179 1212.2,189.8 1213.1,175.2 1214.2,191.7 1215.3,172.5 1216.8,207.4 1217.8,177.9 1219.1,197.6 1220.5,219.2 1221.3,174.7 1223.1,185.8 1223.9,174 1224.8,185.2 1226.3,177.3 1227.5,160.4 1228.6,201.6 1229.7,176.7 1231.3,201.2 1232.9,178.4 1233.9,186.6 1234.8,199.7 1235.6,170.6 1236.5,184.9 1237.4,182.4 1238.3,185.2 1239.3,183.3 1240.6,188 1241.5,184.2 1242.5,177.7 1243.2,190.3 1245,183.6 1246.1,186.6 1247.5,183 1248.6,184.5 1249.5,188.7 1250.1,181.6 1251.5,186.2 1252.8,184.3 1254,186 1255.6,183.8 1257,183.5 1258.1,188 1259.1,183.8 1260.4,185.8 1261.3,183.7 1262.6,184.9 1263.7,183.5 1265.1,184.9 1266.3,183.9 1267.6,185.5 1268.5,183.1 1270.1,184.7 1271.2,184.1 1272.2,183.4 1272.8,185.8 1274.3,184.3 1275.6,185.1 1276.5,184.2 1277.7,183.8 1278.8,186.5 1279.9,183.2 1281.1,183.1 1281.9,186.1 1283.1,183.6 1284.4,186.3 1285.3,184.3 1286.8,184.5 1288.2,183.8 1289.2,185.2 1290,184.1 1291.4,181.7 1292.1,185.3 1293,184.9 1293.8,183.5 1295,185.9 1296.3,185.1 1297.1,181.8 1298.6,184.6 1300.1,185.8 1300.8,182.7 1302.1,183 1303,186 1304.2,183.2 1305.3,185.2 1306.9,184.2 1307.8,184.4 1308.8,183.4 1309.8,185 1310.9,187 1311.5,183.3 1312.5,184.7 1313.8,183.8 1315,185.7 1315.9,183.9 1316.9,184.7 1317.7,184.3 1319.2,184.7 1320,186.3 1320.7,182.7" fill="none" stroke="#f3bd98" stroke-width="1.2" stroke-opacity="0.85" stroke-linejoin="round"/>
<polyline points="1133.1,184.8 1134.1,183.2 1135,186.5 1136.3,182 1137.4,184.5 1138,201.4 1138.8,174.5 1138,167.4 1138.8,191 1139.6,184.3 1140.9,181.5 1141.9,185.2 1143,184.3 1144.4,180.4 1145.1,189.4 1146.6,183.9 1147.9,182 1148.9,185.9 1150.3,186.4 1151,183.3 1152.7,179.9 1153.3,184.9 1155,184.2 1156.3,185.7 1157.6,182.9 1158.9,180.9 1159.8,185.3 1160.8,188.5 1161.4,183.2 1162.2,187.5 1163.7,189.7 1164.5,183.5 1165.9,187.4 1167.2,183.1 1168.1,184.7 1169.6,183.4 1170.8,170.9 1171.9,190.9 1173.4,186.9 1174.1,173.2 1175.1,176 1176,192.2 1177.2,187.9 1178.2,173.4 1179.2,189.3 1180.1,198.5 1180.9,164.6 1182.5,197.3 1183.5,177.6 1184.9,187.4 1185.9,189.1 1186.7,182.5 1188.3,193.9 1189.6,181.8 1191.1,185.1 1192.6,171.4 1193.5,171.6 1194.4,189.7 1195.9,172.8 1197.3,186.8 1198.2,177.8 1199.5,192 1201.1,174.8 1202.4,188.5 1203.4,178.8 1204.2,189.4 1205.7,209.6 1206.6,171.1 1208.4,198.9 1209.8,179.1 1211.4,191.1 1212.6,170 1214.2,191.9 1215.4,182 1216.4,135.5 1217.2,215.3 1217,244.4 1217.8,166 1217,116.4 1217.8,209.3 1218.6,174.3 1220.1,189.7 1221.2,170.5 1222.7,154.3 1223.6,213.7 1224.9,180 1226.2,163.8 1227.2,195.4 1228.7,199 1229.6,179.1 1230,139.4 1230.8,190.5 1231.6,192.8 1232.7,178 1233.8,184.5 1235.2,178.7 1236.4,185.7 1237.3,183.5 1238.6,173.3 1239.6,185.6 1241,181.3 1242.4,186.4 1243.9,183.8 1245.1,185.2 1246.5,184 1247.8,183.3 1248.9,186.7 1249.7,181.2 1251,193.4 1251.8,180.4 1251,175.4 1251.8,188.1 1252.6,182.6 1253.5,185.3 1255.2,184.4 1256.3,185.3 1257.4,183.6 1259,184.8 1260.3,186.9 1261,182.9 1261.8,185 1263.2,184.3 1264.1,180.6 1265.1,186.4 1266.8,184.8 1267.8,181.6 1268.7,185.8 1270.3,185.3 1271.2,183.4 1272,184.8 1273.3,186.8 1274.3,183.2 1275.2,185.4 1276.4,183.9 1277.3,185.1 1278.6,183.9 1279.5,181.5 1280.5,187.2 1281.9,184.3 1282.9,184.7 1284.4,183.7 1285.5,184.6 1286.8,184.8 1287.6,182.4 1289.1,184.6 1290.5,183.7 1291.7,184.5 1292.6,184.4 1293.9,184.9 1294.9,184 1295.7,186.3 1296.9,183.7 1297.8,182.9 1298.8,186.9 1300,183.6 1300.9,185.1 1301.8,183.2 1302.9,181.5 1304,185.4 1305.2,185.7 1306.1,183.7 1307.5,185.1 1308.9,184 1310.4,185.1 1311.5,183.8 1312.5,185.4 1314,183.4 1315.2,185.2 1316.8,184.3 1318,183.1 1318.7,184.7 1319.8,185 1320.4,183.5" fill="none" stroke="#e68c55" stroke-width="1.0" stroke-opacity="0.8" stroke-linejoin="round"/>
<polyline points="1133.1,185.1 1134,180.5 1135.6,188.1 1136.6,182.4 1138,183 1138.8,192.8 1139.9,182.8 1141,184.8 1142.1,183.9 1143.5,184.9 1145,184.2 1146.4,186 1147.5,184.3 1148.9,186.1 1150.4,183.9 1151.8,185.7 1152.8,183.5 1153.9,182 1154.7,186.2 1155.6,187.3 1156.5,178.4 1157.9,185.1 1159,189.8 1159.9,181.6 1161.4,183 1162.2,189.5 1163.5,183.2 1164.8,188.6 1166.1,186.7 1166.8,179 1167.7,185.5 1168.6,181.8 1169.9,180.4 1170.9,192.5 1172.3,193.7 1173.3,171.1 1174.7,188.8 1176,177.9 1177.4,168.4 1178.2,199 1180,183.3 1181.3,192.2 1182.6,195.9 1183.4,181.3 1184.3,193.2 1185.8,177.3 1187.1,175.7 1187.8,194.1 1189.1,183.1 1190.3,188.8 1191.6,170.1 1192.6,178.4 1193.4,193.6 1194.3,175.4 1195.6,189.6 1196.4,192.6 1197.1,167.2 1198.3,194.6 1199.2,173.5 1200.5,196.7 1201.8,175.5 1202.7,186.7 1204.2,180.6 1205.1,189.2 1206.1,206.5 1207.1,176 1208.6,187.8 1210,182.2 1211.4,191.1 1212.7,177.4 1214.1,196.3 1215.5,173.4 1216.9,179.6 1217.9,209.9 1219.4,167.1 1221,185.7 1221.9,183.2 1222.9,190.1 1224.1,178.3 1224.9,189.7 1225.8,181.2 1227.2,184.9 1228.1,177.4 1229.2,191.4 1230.4,183.8 1231.3,188.2 1232.3,184.4 1233.2,192.5 1234.2,179.4 1235.4,187.5 1236.3,183.7 1237.4,174.4 1238.4,192.4 1239.8,183.1 1240.6,186.5 1241.7,183.9 1242.7,186 1244.1,185.7 1244.8,178.5 1246.2,181 1246.9,187.6 1248.2,183.2 1249.4,184.4 1250.5,191.5 1251.3,182.9 1252.6,185.6 1254.1,183.5 1255.2,184.5 1256.1,183.8 1257.5,184.8 1258.7,188.4 1259.4,182.9 1260.4,183.7 1261,185.1 1262.5,184.2 1263.3,185.3 1264.5,183.2 1265.9,182.9 1266.8,186.3 1268,183.5 1269.2,182.5 1270.1,186.2 1271.6,186.6 1272.3,181.6 1273.1,183.3 1273.8,185.7 1275.5,183.4 1277,184.6 1278.1,184.3 1279,185 1279.9,185.5 1280.5,181.1 1282.2,185.1 1283,184 1284.4,185.3 1286,183.6 1287.1,184 1287.7,185.9 1289.2,183.8 1290.7,184.6 1291.5,184.1 1292.7,184.7 1293.6,184.1 1295,184.5 1296,184.2 1296.9,184.9 1298.5,184 1299.4,184.6 1300.8,184.4 1302.4,185.1 1303.9,183.2 1304.7,184.8 1305.6,183.4 1306.9,185.1 1308.3,185.3 1309.3,183.3 1310.7,184.8 1311.6,185.1 1312.4,183.9 1313.5,186 1314.5,183.6 1316,184.7 1316.8,186 1317.7,183.5 1319.4,184.7 1320.5,186.5 1321.2,182.7" fill="none" stroke="#f3bd98" stroke-width="1.0" stroke-opacity="0.65" stroke-linejoin="round"/>
<polyline points="1133.1,183.6 1133.9,185.3 1135.6,192.4 1136.7,179 1137.7,185.1 1139.3,194.2 1140,173 1141.6,184.9 1143.1,184.4 1144.5,186.7 1145.8,184.4 1147.4,186.8 1148.7,182.9 1150.2,180.4 1150.9,191 1152.2,183.3 1153,180.6 1153.6,187.9 1154.5,183.4 1155.6,182 1156.4,190.9 1157.9,185.1 1158.6,178.1 1159.9,184.5 1160.7,183.4 1161.9,186.1 1163,182.8 1163.9,185.1 1165.4,184.2 1166.7,186.2 1168.2,181.7 1169.3,189.1 1170.3,180.6 1171.5,185.5 1172.7,180 1174,171.2 1174.8,195.6 1175.9,180.3 1176.8,185.6 1178.2,174.3 1179.3,188.4 1180.4,180.2 1181.7,181.9 1182.7,200.7 1183.6,181.9 1185,198.3 1186.1,180.5 1186.9,193.8 1188.4,181.7 1189.8,190 1190.9,191.7 1192,180 1193.2,185.5 1194.3,192.8 1195.2,169.6 1197,196 1198.3,173.6 1199.9,170.3 1200.9,210.3 1202.4,195.9 1203,152.1 1204.6,186.2 1205.8,203.9 1206.7,178.6 1207.9,188.5 1208.9,174.6 1210.5,148.5 1211.6,219.3 1213,161.7 1214.5,179 1215.1,189.3 1216.6,158.7 1218,129.8 1219.1,210.3 1220.7,183 1222.1,189.4 1223.2,190.5 1223.8,159.7 1225.4,188.6 1226.3,176.4 1227.7,165.8 1228.5,211.9 1229.3,177.9 1230.9,194.5 1231.9,170.8 1233.3,191.6 1234.4,183.8 1235.2,188.5 1236.6,181.1 1237.9,184.8 1239.1,184 1240.2,186.1 1241.5,181.7 1243,186.7 1244,184 1245.5,184.9 1247,183.2 1247.8,184.4 1248.9,183.7 1250.5,186.5 1251.7,182.3 1253,180.4 1253.6,186 1255.2,184 1256.3,180 1257,188.4 1258,183.6 1258.9,185.6 1259.7,184.2 1261.3,180.5 1261.9,184.9 1263.2,182.7 1264.1,182.8 1265,186.6 1265.9,183.6 1267.1,184.6 1268.3,184.2 1269.4,185 1270.6,183.4 1271.9,180.8 1273,186.3 1274.4,183.4 1275.9,184.8 1277.4,184 1278.9,185.4 1280.1,183.2 1281.2,184.6 1282.2,184.4 1283.4,181.8 1284.5,185.2 1286.1,186.7 1286.8,184 1287.8,183.8 1288.7,185.6 1289.9,184 1290.7,184.5 1291.7,183.8 1292.9,181.8 1293.7,187.1 1294.6,184.4 1296.1,184.8 1297.6,186 1298.6,181.9 1300.1,184.8 1301,183.4 1302.1,185.6 1303.3,184.4 1304.9,185 1306.3,184 1307.2,184.6 1308.6,184.2 1309.7,183 1310.7,186.6 1312.4,183.9 1313.2,184.5 1314,184 1314.9,184.7 1316.3,184 1317.6,185.1 1319,184 1320.3,185.3 1321.5,183.9" fill="none" stroke="#cc5e24" stroke-width="0.9" stroke-opacity="0.8" stroke-linejoin="round"/>
<line x1="1132.6" y1="111" x2="1132.6" y2="256.5" stroke="#000" stroke-width="2.7"/>
<line x1="1246.1" y1="111" x2="1246.1" y2="256.5" stroke="#000" stroke-width="2.7"/>
<line x1="1322.4" y1="111" x2="1322.4" y2="256.5" stroke="#000" stroke-width="2.7"/>
<polyline points="441,418.3 441.7,416.7 442.4,421.4 443,418.2 443.5,419.6 444.4,417.1 445.1,420 445.7,413.2 446.4,421.7 447.5,415.5 448.1,420.3 449.3,417.6 450.6,420.7 451.9,418.2 452.7,417 453.8,408.9 454.5,419.9 455,416.4 456.4,416.9 457.4,415.7 458.4,415.4 459.2,419.6 459.8,413.4 460.5,420.2 461.3,417.1 461.9,419.7 462.6,416.3 463.5,422.5 464.3,418.5 465.2,416.9 465.9,415.4 466.9,418.3 467.7,416.3 468.9,420.8 470.3,421.2 471.4,420.4 472.1,418.8 473.2,415.7 474.6,416.2 475.8,419 476.8,413.8 477.5,419.1 478.1,415.7 479.3,414.1 479.9,420.7 480.5,421.3 481,389.6 481.6,420 482.4,417.9 483.6,420 485,414.7 485.8,397.6 486.6,421.5 487.5,421.7 488.8,407 489.4,422.5 490.1,420.5 491.3,419.9 492.6,413.8 493.1,419.8 493.7,416.1 494.8,421.2 496.1,422.1 497,404.8 497.9,419 497.5,421 498,382.6 498.6,420.1 499.4,395.3 500,420.7 500.7,401.3 501.3,419.2 502.5,406.2 503.3,419.1 503.9,415.2 504.7,419.4 505.5,420.8 506.9,416.7 507.8,420.8 508.7,411.2 509.9,415.4 510.7,422.1 511.5,408.9 512.2,422.5 513.1,413.4 514.1,409.3 514.8,406.2 515.5,415.2 516.7,408.3 517.6,415.8 518.3,420.5 519.4,399.5 520.4,407.9 521,422.1 521.8,390.2 522.5,415.1 523.2,415.3 524.3,415.3 525.1,394.1 525.9,411.3 527.2,420.2 528.5,400.3 529.5,415.8 530,296.6 530.6,413.5 531.4,388.7 532.2,419 533.5,402.1 534.4,340.9 535.2,412.9 536.5,399.8 537.5,364.1 538.4,415.2 539.3,382.2 540.2,410.5 540.9,407.9 541.7,422 542.4,374.4 543.1,410 544.1,386.9 545,415 545.9,399.4 547.1,403.4 547.9,406.7 548.4,420.1 549.3,395.3 550.2,418.3 551,410.6 551.5,415.1 552.5,400.1 553.3,415.9 554.1,415.9 555.2,406.3 556,416.1 556.9,407.4 557.6,414.9 558.4,412.7 559.2,422.1 560.3,414.6 561.4,419.8 562.7,418.7 564.1,418.3 565.2,417.3 566.1,416.3 567,420.2 568,418.8 568.6,422.5 569.6,419.3 570.4,422.3 571.3,419.4 572.1,420.8 573.2,417.7 574,416.2 574.6,421.4 575.5,418.1 576.6,410.4 577.2,421.5 577.5,421.9 578,407.6 578.6,420.5 579.4,417.4 580.2,421.4 581.1,419.2 582.4,419.1 583.3,421.5 584.3,416.1 585.2,421.3 586,418.5 587.2,413.1 587.9,420.9 589,415.5 589.7,421.8 590.2,421.9 591.1,420 592.2,418.1 593,420.9 593.6,421.6 594.7,419.4 595.4,421.6 596.3,416.6 597,420.7 597.6,418.8 598.6,419.2 600,414.9 600.8,421.1 601.6,421 602.5,422 603.2,419.4 604.1,419.7 604.9,420.9 605.7,419.2 606.7,420.8 608.1,422 608.9,417.7 609.6,422.6 610.9,421.2 611.6,418.9 612.5,421 613.5,420 614.4,421.6 615,420.5 615.9,418.4 616.8,421.3 617.5,419.4 618.3,421.9 619.1,420.2 620.2,418.8 621,422.2 622.2,421.8 623.5,421.9 624.3,422.1 625.7,422.1 626.6,421.3 627.9,420.7" fill="none" stroke="#9a9a9a" stroke-width="1.1" stroke-opacity="0.85" stroke-linejoin="round"/>
<polyline points="441,415.5 441.8,420 442.7,417.3 443.6,421.1 444.6,418.8 445.9,418 446.6,421.4 447.5,421.4 448.4,418.1 448.9,421.6 449.6,420.6 451,414.8 451.6,422.5 452.8,422.2 453.6,418.7 454.6,419.7 455.9,414.2 456.7,421.8 457.6,417.7 458.5,416.1 459.4,419.6 460.5,417.3 461.3,417.7 462.7,417.1 463.9,421.5 464.9,412.5 465.5,419.7 466.4,416.8 467.7,412.6 468.6,420.5 469.4,414.3 470.2,422 470.7,415.3 472.1,417.2 473.3,411.9 473.9,419.4 474.9,421.5 476.3,413.4 476.8,420.8 478,404.7 478.7,418.9 479.7,413.8 480.3,422 481.5,410.1 482.3,422.2 483.5,420.3 484.6,420.8 485.7,418.4 486.5,419.4 487.5,415.2 488.8,414.6 489.7,420.5 490.8,413 491.5,420.2 492.5,419.3 493.6,422 494.5,416.4 495.5,421.7 496.5,417.1 497.3,390.9 497.8,421.2 498.8,419.4 500.2,414 501.5,419.7 502.4,414.1 503.2,418.9 504.2,418.1 505.2,398.1 506,422.3 506.6,416.9 507.9,410.2 508.6,418.7 509.9,411.6 510.6,405.1 511.3,415.7 512,406.1 512.7,419.2 513.8,415.4 515.1,407.2 516,416.2 516.5,411.4 517.6,412.1 518.9,411.4 519.9,412.7 521.1,394.8 521.8,413.2 522.9,420.8 524.2,402.7 524.8,417.3 525.5,419.9 526.7,408.9 527.5,419.2 528.5,318.1 529.1,419.2 529.6,403.2 530.4,410.8 531.1,420.9 532.5,396.7 533.9,415.1 534.6,369.9 535.1,410.5 536,369.9 536.9,413.6 538.2,386.6 538.7,421 539.4,401.3 540.2,397.7 541,394.3 541.6,409 542.7,416.2 543.6,407.8 544.8,367.3 545.3,417.6 545.8,390.9 546.7,411.1 547.3,391.6 548,412.9 548.9,394.4 549.5,421.9 550.1,403.3 550.8,422.2 551.6,401 552.9,398.5 553.5,412.7 554.7,401.7 555.4,418.3 556.1,421.9 557.1,410 557.7,416.4 558.4,412.2 559.1,420 559.7,418.4 561.1,410.5 561.9,418.9 562.6,413.5 563.3,421.2 564.3,415.3 565.2,422.1 565.9,416 566.7,420.9 567.9,420.2 568.9,417.3 569.5,420.4 570.6,414.5 571.3,421.4 572.2,417.9 572.9,421.4 573.8,414.6 574.7,422.1 575.4,421.5 576.5,419.4 577.2,418.9 578.1,415.8 578.8,421.6 579.4,420.5 580.5,418 581.2,420.2 581.8,418.8 583.1,422.5 583.9,418.9 584.8,422.4 585.6,418.7 587,421.1 588.3,421.1 589.3,419.3 590.3,419.8 591.6,421.2 592.7,419.3 593.5,415 594.2,422.2 594.8,420.2 595.6,417.3 596.3,422.4 597.1,419.4 598.2,419.7 599.1,420.7 600,421.1 601,422 601.8,420 603,418 603.5,422.5 604.1,420.2 605,421.9 605.7,418.2 606.4,421.4 606.9,419.4 607.6,422.3 608.5,420.2 609.6,421.5 610.7,421.2 611.4,419.3 611.9,422.4 612.5,421.2 613.5,422.2 614.8,421.3 616,420.7 617.3,420 618.2,422.5 619,420.3 620.4,421.1 621.2,421.2 622.3,421.1 623.2,422.3 624.1,420.6 624.8,421 625.6,422.3 626.6,420.7 627.5,421.8 628.3,421.6" fill="none" stroke="#9a9a9a" stroke-width="1.0" stroke-opacity="0.7" stroke-linejoin="round"/>
<polyline points="441,416.8 442.3,420.8 443.1,417.8 444.3,412.1 444.9,421.3 445.9,414.9 446.5,422 447.7,416.2 448.9,420.9 450.1,419.9 451.3,416.4 452.5,418.2 453.9,408.8 454.5,421.3 455.7,411.5 456.4,420.7 457.1,417.4 458.4,415.3 459.1,422.3 460.1,418.5 460.9,418.6 462.1,420.7 463.1,413.9 463.7,422.2 465,418.4 466.1,419.9 467.1,416.4 467.9,419.9 468.6,420.8 469.6,416.3 470.5,421.3 471.6,415.9 472.4,413.4 472.9,421.9 473.4,416.8 474.2,422 475.6,410 476.1,421.1 477.3,419.7 478.4,419.4 479.3,405.4 479.9,421.9 481,421.3 482.3,414.7 483.2,413.8 484,419.2 484.7,398.1 485.3,422.6 485.9,420 486.6,405.4 487.4,420.4 487.9,420.4 488.9,408.7 489.6,421.7 490.5,419.7 491.7,420.1 492.8,420.5 494,416.9 495,407 495.6,422.3 496.4,415.8 497.8,421.5 498.8,414.5 499.4,421.4 500,414 500.8,390.3 501.5,422.5 502.5,398.2 503.1,419.1 504.1,412 504.7,422.1 505.7,414.7 506.5,393.6 507.4,420.4 508,408.4 508.5,418.2 509.3,409.2 510.3,409.5 511.5,381.8 512.4,417.8 513.2,412.2 514.1,416.4 515.4,405.3 516.3,415.9 516.9,418 518.2,406.8 519.6,410.8 520.8,414.4 521.7,421 522.5,407.2 523.7,398.7 524.7,409.8 525.6,400.7 526.4,366.6 527.1,421.1 528.1,402.4 529.1,411.1 529.9,396.4 530.9,402.6 532,346.3 532.6,421.8 533.1,418.3 534,350.5 534.5,411.8 535,403.7 535.7,419.5 536.9,411.1 538,396.6 539,403 539.6,414.6 540.3,406.5 541.4,375.6 542.1,415.1 542.7,409.9 543.8,404.6 544.8,419.1 545.9,405.6 546.8,387.7 547.6,411.5 548.9,403 549.4,416.8 550.2,408.8 551.4,419.5 552.6,419 553.7,413.6 554.5,401.6 555.2,420 556.2,406.4 557.5,407.9 558.6,419.5 559.7,412.5 560.2,419.5 560.9,418.7 562.3,419.2 563.2,421.5 564,418.2 565.2,418.6 566,422.2 566.9,421.3 568.1,416.9 568.6,421.1 569.6,418.6 570.9,416.2 571.5,420.8 572.6,419.6 573.8,418.4 574.5,421.7 575,421.4 575.9,414.2 576.5,421.2 577.3,418 578.4,420.4 579.6,418.9 580.2,421.7 581,419.6 581.6,422 582.7,419.9 583.9,412.5 584.8,421.3 585.9,421.2 586.8,422 587.8,418.9 589.1,420.2 589.9,421.1 590.9,417 591.7,422.2 592.3,420.3 593,417.8 593.8,421.2 594.6,421.2 595.5,420.5 596.8,420.9 597.8,422.2 598.7,421.4 599.4,419.6 600.4,422.3 601.4,417.4 602.1,420.8 603.1,419.4 603.6,422.6 604.1,417.7 604.7,421.2 605.3,418.7 605.9,421.1 606.4,418.5 607.1,421.6 608,421.3 608.8,421.3 610.1,420.9 611.3,418.7 611.9,422 613,420.1 613.8,420.3 614.9,421.8 615.7,420.7 616.8,421.5 617.9,419.8 618.9,422.5 619.8,422.4 620.6,420.1 621.8,420.8 622.5,420.9 623.5,420.6 624.5,420 625.4,422.5 626.6,420 627.3,422 628,422.2" fill="none" stroke="#3a3a3a" stroke-width="0.9" stroke-opacity="0.75" stroke-linejoin="round"/>
<polyline points="441,419.2 442,415.5 442.6,421.4 443.5,418.1 444.1,422.2 445,420.2 445.8,416 447.1,419.6 448.2,422.5 449.1,421.3 450,416.8 450.9,420.7 451.5,419.1 452.3,417.7 453.7,416.8 454.7,416.1 455.5,421.1 456.8,419.8 457.9,417.7 459.1,414.3 459.6,420.2 460.3,421.5 461.4,418.3 462.4,421.9 463.2,416.6 464.2,422.2 465.5,407.5 466.4,420.4 467.4,416.6 468.6,415.7 469.4,422.2 470.2,417.7 471.1,418.5 472,421.4 473.1,399.5 473.6,419.2 474.5,410.4 475.2,422.3 476,418.7 477,416.4 477.7,416.8 478.5,418.9 479,417.8 480.1,415.8 480.9,396.5 481.5,420.5 482,420.7 482.9,416 483.4,419.1 484,421.9 485.3,415.3 486,421 486.8,415.2 487.7,416.1 488.5,412.9 489.1,418.7 490.1,419.1 491.2,399.8 491.9,422.5 492.7,418.3 493.8,414.5 495.2,416.2 496.6,417.8 497.2,421.7 498.3,421.9 499.1,415.5 500.3,413.5 500.8,419.5 502.1,417.5 503.1,415.1 503.8,419.7 504.4,415.9 505.2,421.6 505.9,419 506.8,390.2 507.5,421.3 508.1,421.1 509.3,402.3 510.2,419.1 511.1,411.6 512.1,419.5 513.2,412.3 513.9,382.7 514.8,418.4 515.6,401.1 516.9,390.1 517.8,414.4 519,406.6 520,414.7 521.3,366.6 522.1,415.8 522.6,414.2 523.6,396 524.2,414.9 525.3,412.7 526.5,357.6 527.4,410.4 528,400.9 529,392.6 529.6,411.2 530.7,335.4 531.3,421.6 531.9,415.5 532.6,407.9 533.2,418.1 534,418.8 534.7,387.1 535.4,408.8 536.6,406.1 538,353.3 538.8,420.7 539.5,409.2 540.4,371.9 541,409.7 541.8,405.9 542.5,422.6 543.2,412.6 543.9,393.1 544.9,410.3 545.8,392 546.4,421 547.3,395.8 548.6,418.4 549.6,394.5 550.2,414.3 551,421.9 552.2,401.3 553.1,404.5 553.7,415.3 554.2,402.5 555,418.2 556.2,409.8 557.4,416.8 558.6,415.3 559.5,413.7 560.6,418.5 561.6,420.8 562.6,422.5 563.9,420.5 564.8,418.5 565.4,420.4 566.1,417.5 566.8,421.9 567.4,416 568,421.9 569.2,419.5 570.2,421.9 571.4,418.5 572,420.5 573.2,418.5 574.4,420.1 575.7,418.5 576.7,419.6 577.8,417.8 578.3,421.3 578.8,417.3 579.5,421.1 580.4,421.5 581.7,421.8 582.7,420.8 583.5,414.5 584.2,421.9 584.7,412.7 585.2,421.2 585.9,420.7 586.8,419.2 588.1,422.4 589.2,421.7 589.9,418.4 590.8,419.2 591.8,421.2 592.8,422 593.8,415.9 594.3,422.5 595.2,419.3 596.5,419.6 597.2,419.8 598.6,420 599.3,421 600.6,421.1 601.5,418.4 602.2,421.2 602.9,416.5 603.5,421 604.6,422.3 605.6,419.5 606.5,422.1 607.7,420.7 608.9,419.9 609.9,422 610.6,421.9 611.8,417.3 612.6,421 613.6,421.9 614.5,421.7 615.2,418.9 615.9,422 617,421.4 618.3,420.3 619.1,420.7 619.8,422.4 620.3,420.9 620.9,421.4 622.2,421.7 623.3,418.2 624.2,421.4 625.1,420.1 626.1,420.2 627.3,421.2 628.4,421.1" fill="none" stroke="#3a3a3a" stroke-width="0.9" stroke-opacity="0.7" stroke-linejoin="round"/>
<polyline points="441,414.2 441.6,421 442.4,422.4 443.4,417.9 444.3,412 444.8,420.2 445.8,420.5 447.1,417.5 447.8,420.3 448.8,416.1 449.5,417.5 450.4,417.5 451.5,414 452.3,420.3 452.9,422.2 454.2,422.3 455.2,418.7 456,421.2 457,421.6 458.1,422.4 459.1,416.3 460.5,421.8 461.6,418.9 462.6,418.3 463.1,421.4 463.8,416.9 465,411.5 465.7,419.5 466.6,421.5 467.8,419.7 468.7,416.2 469.5,421.6 470.5,421.3 471.5,421.5 472.5,418.8 473.7,404.4 474.3,421.9 475.4,421.3 476.6,419.1 477.6,417 478.3,419.7 479.4,416.2 480.2,417.6 480.5,422 481,389.6 481.6,421.6 482.4,422.1 483.6,416.3 484.5,417.4 485.2,419.7 486,419.1 486.7,415.5 487.9,418.6 489,416.6 490.4,416.5 491.5,421.8 492.5,420.9 493.7,419 494.7,421.2 496,417.2 496.9,385.2 497.4,420 497.5,422.5 498,382.6 498.6,420.4 499.4,419 500.5,419.5 501.5,419.4 502.6,415.2 503.7,417.2 505.1,411.5 505.7,421.8 507,417.4 507.9,410.1 509.1,411.2 510,420.5 511.1,414.2 512.4,418.9 513.4,421.7 514.4,410.2 515.4,397.8 516,422.5 517.1,405.7 518.2,400.9 519,413.7 520.3,421.2 521.1,401.6 521.6,415.5 522.4,411.6 523.6,399.3 524.9,400 526,331.2 526.5,421 527.7,403 528.5,416.3 529.5,420.7 530,296.6 530.6,411.5 531.4,397.1 532.1,414.5 533.3,402.2 534,422.2 534.9,395.3 535.6,411.4 536.6,419.6 537.8,402.3 539,354.7 539.9,417 540.4,393.1 541.1,421.2 542,385.9 542.7,411.3 543.4,399.8 544.2,421 545.2,408 546.1,405.3 546.8,417.7 547.4,417.3 548.8,408.4 549.7,401.2 550.5,394.6 551,420.1 552.2,405 553.5,409.5 554.2,414.5 555.4,415.2 556.5,414.6 557.8,416 559.1,408.9 559.7,418.4 560.7,422.5 561.8,414.9 562.8,415.1 564,415.2 564.7,421.5 565.3,419.9 566.2,415.8 567,420 567.5,421.1 568.5,418.6 569.2,420 570.2,418.6 571.3,420.6 572.3,420.1 573.1,421.1 574,421.3 574.7,420.7 575.8,409.8 576.4,422.4 577.3,420.9 577.5,422.6 578,407.6 578.6,421.1 579.4,420.7 580.7,419.9 581.7,421.8 582.7,422 583.9,422.1 584.7,419.8 585.9,418.5 586.5,420.9 587.4,416 588.2,420.4 589.4,418.7 590.5,421.3 591.4,416.3 592.2,421.7 593.3,419.3 594.3,416.3 595.1,421.7 596.4,421 597.3,421.7 598.3,417.3 599,422.6 600,420.2 600.7,419.3 601.8,421.6 602.6,420.1 604,418.3 604.7,422.3 605.3,420.1 606.5,420.4 607.3,420.9 608.1,420.4 608.8,418.5 609.6,421.7 610.2,421.3 611,419.1 611.5,422.2 612.4,419.8 613.3,419.5 614.2,419.5 615.5,421.6 616.7,420.8 618,419.3 618.5,421.9 619.5,421 620.7,419.3 621.4,421.9 622.2,419.5 622.9,422.3 623.8,421.9 624.8,421.7 625.7,421.3 626.8,420.4 627.9,421.1" fill="none" stroke="#000000" stroke-width="0.9" stroke-opacity="0.8" stroke-linejoin="round"/>
<line x1="438" y1="425.2" x2="631.3" y2="425.2" stroke="#222" stroke-width="1.7"/>
<line x1="439.5" y1="289.5" x2="439.5" y2="426.2" stroke="#000" stroke-width="2.7"/>
<line x1="563.7" y1="289.5" x2="563.7" y2="426.2" stroke="#000" stroke-width="2.7"/>
<line x1="629.8" y1="289.5" x2="629.8" y2="426.2" stroke="#000" stroke-width="2.7"/>
<polyline points="671,417.2 672,415.1 673.1,408.5 674,420.5 674.9,408.9 675.5,423.2 676.2,408.2 676.7,422.5 677.6,405 678.4,419.9 678.9,423.4 679.8,416.3 680.8,420.6 681.9,403.3 682.5,418.9 683.6,423.3 684.5,420.1 685.5,421.7 686,356.8 686.6,420.4 687.4,368.6 688.3,421.7 689.1,400.9 689.7,423.5 690.5,410.8 691,419.5 692.1,399.8 692.7,416 693.8,422.5 695.2,418.5 696.1,390.2 697,416.7 697.6,416.3 698.5,416.7 699,357.8 699.6,421.5 700.4,405.8 701,413 701.6,402.8 702.2,418.8 703.1,421.1 703.9,383.8 704.5,417.9 705.7,418.2 706.8,420.4 707.6,400.3 708.5,366 709,410.4 709.8,400.6 711.2,394.3 712.1,397.5 712.9,386 714.2,401.1 714.5,422.2 715,304.8 715.6,414.9 716.4,422.3 717.4,391.5 718.2,410.9 719.2,400 720.2,414.5 721.4,371.1 722.1,405 723.2,420.1 724.6,416 725.4,391.5 725.5,414.5 726,323.8 726.6,415.8 727.4,364 727.9,412.7 729.2,369.5 729.8,416.1 730.6,378.2 731.4,400.5 732.5,405.5 733.7,413.7 734.7,370.7 735.4,418 736,374.5 736.5,408.4 736.5,418 737,312.8 737.6,403.5 738.4,360.5 739,403 739.8,393.8 740.4,417.1 740.9,363.8 741.5,413.5 742,409.1 743.1,339.2 743.9,404.6 744.9,387.3 745.5,411.3 746.5,364.5 747.4,410.3 747.9,416.6 748.9,378 749.6,402 750.8,411.1 752.1,413.3 752.9,374.1 753.5,421.2 754,292.8 754.6,405.6 755.4,330.4 756.1,412 757.1,417.9 758.1,413.2 759.2,389.3 760.5,398.2 761.4,372.5 762.1,398.2 761.5,421 762,287.8 762.6,404 763.4,313.4 764,415.9 764.6,350.5 765.4,400.3 766.1,372.9 767,392.1 768.3,343.7 769.1,413.8 770.4,316 771,401.9 770.5,411.1 771,305.8 771.6,414.2 772.4,331.2 772.9,423.3 773.8,345.4 774.5,414.5 775.7,383.2 776.4,379.1 777.1,420 777.9,373.3 778.6,413.1 779.6,378.3 780.4,410.6 781.2,386.5 781.7,408.1 782.7,395.5 783.4,410.6 784.2,417.2 785,423.1 786.4,415.9 787.4,406.4 788.2,417.8 789.1,412.6 790.1,410.7 791.2,407.9 792.5,410.9 793.3,414.1 794,416.7 794.8,408.5 796.1,414.4 796.8,418.2 797.5,411.8 798.2,423.8 799,400.3 799.7,418.7 800.8,418.4 802.1,413 802.8,417.5 803.6,411.6 804.6,410 805.6,413.9 806.5,407.2 807.3,423.5 807.9,409.8 808.5,417.3 809,386.8 809.6,422.3 810.4,412.3 811.6,417 813,410.6 813.6,417 814.3,406.8 814.9,422.7 816.1,401.6 816.8,418.5 817.5,409.4 818.5,407.4 819.1,419.1 819.7,411.2 820.7,407.4 821.6,420.4 822.7,412.4 824.1,420.3 825.1,414.7 826.3,406.4 827,417.9 828.2,408.8 829.1,416.5 829.9,412.1 830.7,422.3 831.4,409.1 832,422.8 833.2,421.2 833.9,401 834.5,418.4 835.1,401.2 835.8,420.3 836.6,419 837.4,413.9 838.6,413 839.4,416.6 840.4,422.1 841.2,421.2 842.1,416.8 842.5,419.7 843,392.8 843.6,417.3 844.4,416.3 845.1,420.6 845.7,397.3 846.3,423.7 847.5,410.7 848.3,419.3 849.6,413.4 850.1,422.8 851.1,418.7 852.4,412.8 853,417.1 853.5,409 854.2,422.6 855,408.6 855.7,418.7 856.8,416 857.6,410.6 858.4,415.1 859.7,416" fill="none" stroke="#9dbcee" stroke-width="1.1" stroke-opacity="0.85" stroke-linejoin="round"/>
<polyline points="671,422.8 672.3,415.1 672.9,417.5 673.6,412 674.7,418.2 675.7,410.7 676.6,411.9 677.3,419.4 677.9,417.7 679.2,405.3 680,420.7 680.6,409.7 681.4,420.7 682.6,382.5 683.3,420.5 683.8,421 684.7,409.7 685.5,406.7 686.6,415 687.5,413.2 688.9,415.9 689.9,417.7 690.8,405.4 692.1,410.9 693,416.8 693.5,406.2 694.3,420.3 695.3,401.6 695.9,418.1 696.6,410.3 697.4,417.7 698.2,373.5 698.8,421.2 700.1,402.4 701.5,417.6 702.9,414.7 703.9,371.5 704.7,422.3 706,418.5 706.9,417.7 707.9,364.4 708.5,414.7 709.5,390.7 710.2,407.3 711.4,388 712,404.1 713.1,368.9 713.9,418.3 714.4,370.9 715,412.6 715.8,388.8 717.2,413.6 718.2,393.5 719.2,397.4 720.6,400.8 721.9,383.5 722.7,418.9 723.6,396.5 724.6,413.3 725.6,329 726.1,419.2 727.3,340.2 727.9,414.2 728.8,406.8 729.6,353.9 730.1,411.8 731.1,351.1 731.9,413.4 733,398.1 734,409.1 735.1,349.3 735.6,410.9 736.7,408.8 737.7,388.7 738.6,413.1 739.5,362.5 740.1,405.8 741.3,399.2 742.5,402.9 743.5,376.1 744.3,410.4 745.2,399.1 746.4,415 747.5,420.9 748.4,386.6 749,413 750.1,310.6 750.7,413.5 751.5,364.6 752.1,421.3 752.9,299.9 753.4,399.5 754.2,378.6 755,376.8 755.5,403.1 756.5,360.4 757.2,419.1 757.9,376.6 758.8,406.9 759.4,368.8 760,416.9 760.6,406.3 761.8,423.2 762.9,393.2 763.8,403.3 764.6,409.3 765.8,408.1 766.8,383.5 767.3,414.9 768,374.9 768.7,410.8 769.5,395.7 770.8,317.4 771.7,404.2 772.7,420.8 773.5,373.7 774.7,385.3 775.6,359.6 776.4,397.7 777.4,391.2 778.1,413 779.3,390.8 780,384 780.8,406.1 782,415.9 783.3,411.6 784.4,420.8 785.4,400.4 786.1,421.9 787.4,411.7 788.1,408.8 789.3,417.4 790.4,413.9 791.2,409.6 792.5,410 793.3,406.2 794,418.8 794.9,407.9 795.5,423.2 796.7,413.5 797.8,410.2 798.6,418.6 799.6,412.6 800.2,417.3 801,410.2 801.6,418.4 802.6,415.8 803.4,420.3 804.8,412.8 806,404.7 806.9,423.3 808,420.6 809,400 809.7,416.6 810.6,415.8 811.7,402.1 812.5,419.8 813.3,412.7 814.2,411 814.9,413.6 815.5,419.7 816.2,404.8 816.8,421.5 818,418.9 819.3,421.2 820,403.9 820.8,418 821.9,415 822.7,419.6 823.9,412.5 824.8,411.9 826.2,411.1 826.7,417.7 827.6,408.9 829,399.8 829.5,422 830.6,413.5 831.2,421.6 832.1,416.2 832.7,417.7 833.6,422.5 834.5,407.6 835,419.6 835.7,420.8 837,403.4 837.6,421.9 838.8,416.4 840.1,400.2 840.8,418.2 841.6,411.5 842.8,413.8 844,422.5 845.1,402.2 845.9,420 846.5,419.1 847.3,408.9 848,417.9 848.7,410.1 849.5,417.5 850.3,409.3 850.9,421.2 851.9,407.5 852.8,422.2 853.8,409.4 854.9,422.2 856.2,415.2 857.1,418.2 858.1,411.3 858.7,419.4 859.9,409.5" fill="none" stroke="#9dbcee" stroke-width="1.0" stroke-opacity="0.7" stroke-linejoin="round"/>
<polyline points="671,422.4 671.9,412.5 672.8,411.2 673.5,419.7 674.4,410.4 675.1,422.2 675.6,404.9 676.3,419.9 677,411.4 678.1,410.6 679,402 679.5,417.2 680.3,403.9 681.2,419.7 682.1,422.2 683.1,410.6 684.3,417.5 685.3,420.3 686.4,409.6 687.3,423.1 687.9,404.7 688.6,421.5 689.7,412.7 690.5,418.2 691.4,409.5 692,418.9 692.9,413.5 693.5,420.7 694.5,410.9 695.4,408.7 695.9,421.7 697.1,383.1 697.6,415 698.7,412.2 699.8,412.3 701,364.1 701.5,413.6 702.2,411.8 703.5,413.1 704.7,407.9 705.9,408 707.2,390.2 708.3,370.8 708.9,420.1 709.7,421.1 710.8,369 711.6,409.8 712.3,374 713.2,412.9 714.1,388.5 714.8,403.7 715.7,361.8 716.4,410.1 717.7,324.6 718.5,402.1 719.4,369.6 720.2,421.8 721.4,368 722.3,418.6 723.5,335.7 724.4,408 725.1,385.3 725.8,418.9 726.6,382.2 727.4,411.3 728.3,361.6 729,416.4 730,416.8 731.3,396.2 732.5,418.8 733.7,355.6 734.5,405.4 735.2,396.7 736.6,365.5 737.2,400.1 738.3,419.8 739.3,419.6 740.2,358.1 740.9,409.1 742,387.6 743.3,378 744.6,403.6 745.4,349.4 746.1,419.1 746.8,362.7 747.5,410.9 748.5,406 749.5,398.7 750.2,353.2 750.8,405.9 751.5,395.4 752.2,412.6 752.8,404.6 753.6,406 754.4,418.9 755.2,395.9 756,401 757.2,410 758.2,363.4 758.9,408.8 759.9,306.8 760.4,409.8 761.2,383.7 762.6,315.8 763.4,411.7 764,390 765.2,419.8 766.3,316.2 767.1,406.3 768.2,314.9 768.7,416.4 769.5,386.8 770.3,420.9 771.3,395.8 772.2,384.3 773.5,389.8 774.1,406.3 774.8,374.6 776,377.5 776.5,414.5 777.7,421.5 778.7,376.2 779.4,417 780.2,387.2 780.8,416.1 781.5,366.7 782.3,421.1 783.3,401.2 784.2,413.4 785.2,403.9 786,414.1 787,405.5 787.8,423.6 789.1,410.5 789.8,415.8 790.7,406.5 791.6,423.7 792.1,414.4 793.4,417 794.7,405.1 795.4,418.4 796.3,407.7 797.1,422.7 797.9,406.9 798.5,419.2 799.5,411.7 800.4,398.1 801.1,420.4 801.7,404.8 802.5,417.8 803.1,412.9 803.9,413.4 804.7,423.7 805.6,399.6 806.4,421.1 807.6,414.6 808.5,411.7 809.9,416 810.9,408.7 811.6,407.4 812.1,418.7 812.9,417.8 814.2,405.5 814.9,417.6 816,405.6 816.9,423.7 817.7,405 818.6,417.1 819.3,409.6 820.4,411.5 821,418.8 821.6,408.7 822.4,419.5 823.1,400.8 823.8,422.6 824.6,405.9 825.3,418.1 826.4,416.9 827.5,414.6 828.7,413.8 830,416.4 830.8,418.5 831.7,407.3 832.4,419.3 833.5,396.8 834,420.5 835,423.2 836.1,399 837,419.3 838.1,395.9 838.9,422 839.6,403.5 840.4,419.3 841.6,401 842.4,423.8 842.9,415.8 843.9,418.9 844.7,423.3 845.9,413.1 847.2,415.4 848.1,418.8 848.8,412.4 850.1,412.1 850.9,420.7 852,416.9 852.8,415.2 853.5,401.2 854.1,417 855.1,410.7 855.9,423.5 856.5,403.2 857.4,423 858.6,416.6 859.5,420.7" fill="none" stroke="#4a82e0" stroke-width="0.9" stroke-opacity="0.75" stroke-linejoin="round"/>
<polyline points="671,408.6 671.6,422.4 672.2,412.8 672.7,418.9 673.4,420.6 674.3,411.6 674.9,419 675.9,409 676.7,419.5 677.7,400.4 678.3,420.7 679,420.6 680.2,390.6 681.1,419.8 681.7,408.3 682.4,423.4 683.2,417.6 684.3,423.4 685,411.2 685.6,417.1 686.6,423.1 687.7,423.7 689,405.7 689.7,421.3 690.8,409.5 691.5,406.5 692.3,418.6 693.4,415.3 694.4,395.3 695,418.4 696.2,403.9 697.6,410.9 698.5,416 699.2,404.1 700.3,410.6 701.3,416.2 702.2,404.2 703,423.6 704.1,409.2 704.9,399.4 706,400.2 706.9,406.3 707.5,411.1 708.4,393.2 709.5,421.8 710.4,412.2 711.3,370.4 712.1,416 713.1,371.1 713.8,404.6 714.8,402.1 715.9,388.8 716.8,399.9 718,420.3 719.1,407.9 719.9,410.7 720.6,390.6 721.4,394.7 722.2,369.5 722.9,419.7 724.2,394.2 725.3,365.8 726,412.5 726.5,395.8 727.6,369.7 728.2,401.4 729.5,370.5 730,407.3 730.6,386.9 731.3,373.8 731.9,419.6 732.6,351.5 733.1,421.7 734,387.3 735.4,366.4 736,420.7 736.6,382.4 737.1,401.5 737.6,337.9 738.5,400.1 739.6,393.3 740.2,403.3 740.7,417.8 741.7,414.6 742.4,421.1 743.7,343 744.5,402.3 745.3,398.1 746.1,416.3 747.1,419.9 748.4,371.7 749.1,405.2 750.3,375.8 751.4,382.9 752.7,422.1 753.9,338.1 754.7,414 755.5,415.3 756.7,307.7 757.5,418.4 758,384.3 759.2,337.8 760.1,402.3 760.9,378.6 761.6,399.3 762.5,375.1 763.4,399.1 764.2,379.7 765,423.2 765.7,386.2 766.6,398.5 767.6,381.7 768.9,320.1 769.4,413.3 770.5,394 771.3,399.2 772.3,381 773.5,391.2 774.7,384.3 775.5,406.4 776.5,418.3 777.7,389.2 778.5,404.6 779.7,369.6 780.4,413.2 781.1,414 782.1,384.4 782.9,415 784,385.8 784.9,412.1 785.7,406.4 786.9,404.9 787.6,419 788.8,407.2 790,415.2 790.7,411.9 791.6,422.1 792.2,408.6 793,410.3 794.4,411.6 795.3,418.3 796.3,410.3 796.9,421.2 797.6,412.3 798.3,419.2 799.5,415.6 800.4,417 801,418.9 801.9,410.2 802.5,419.6 803.4,411.3 804.4,412 805.1,418.7 806.1,409.7 806.9,414.7 807.6,413.4 808.5,391.8 809.4,417.3 810.5,415.4 811.5,408.4 812.3,418.4 813.4,410.7 814.6,416.7 815.3,420.5 816.7,410.7 817.4,423.2 818.1,409.3 818.9,420.6 819.8,408.9 821.2,421.7 822.5,408.6 823.1,423.5 823.7,410.1 824.7,412.2 825.6,410.5 826.3,417.6 827.2,413 828.1,419.3 828.8,406.1 829.5,417.3 830.1,422 831.3,415.6 832.6,418.9 833.6,410 834.2,421.9 835.3,415.6 836.2,399.7 836.8,419.8 837.9,423.4 839.1,417.6 839.8,422.4 840.7,412.7 841.3,419.6 842.2,420.4 842.9,413.4 843.6,420.5 844.3,405.6 844.9,417.4 845.9,395.1 846.7,418.5 847.6,414 848.3,420.8 849.3,410.1 850.2,423.4 851.1,411.6 852.1,411.1 853.4,416 854.3,404.6 854.9,420.4 855.9,416 856.6,419.8 857.3,403.8 857.8,419.4 858.6,417.2 859.8,422.3" fill="none" stroke="#4a82e0" stroke-width="0.9" stroke-opacity="0.7" stroke-linejoin="round"/>
<polyline points="671,417.5 672.2,420.5 673.1,412.8 673.8,419 674.5,413.9 675.6,418.7 676.3,401.7 677.2,423.5 678.2,422.6 679.4,422.4 680.8,416.3 682.1,414.2 682.9,414.5 684,423.2 684.9,407.9 685.5,421.2 686,356.8 686.6,420.5 687.4,415.2 688.7,416 689.8,413.5 690.5,414.8 691.2,406.5 692.1,408.6 693,410.9 693.6,414.6 694.8,422.5 696,385.2 696.5,419.2 697.7,421.8 698.5,408.9 698.5,414.4 699,357.8 699.6,418.2 700.4,412.5 701.4,403.7 702.5,389.3 703.1,420.2 703.8,404.1 704.7,398.6 705.8,399.1 706.9,405.6 707.9,394.3 708.6,411.2 709.4,401.6 710.6,385.7 711.6,415.7 712.9,381.8 713.9,381.7 714.5,418 715,304.8 715.6,408 716.4,389.8 717.1,422.7 718.3,334.2 719.1,401.8 719.9,397.4 720.6,401.5 721.3,373.2 721.9,422.5 722.7,382.6 723.7,391.6 724.6,410.4 725.5,405.4 726,323.8 726.6,423.7 727.4,343.5 728.1,406 729.1,399.3 729.9,335 730.5,413.7 731.2,421.1 732.1,380.8 732.9,420.6 734.2,407.7 735.3,339.1 736.1,423.6 736.5,413.2 737,312.8 737.6,411.9 738.4,392.8 739.7,397.4 740.9,333.9 741.8,412.3 742.5,406.1 743.5,386.4 744.4,413.6 745.3,387.7 746.6,379.3 747.7,401.1 749,363.7 749.9,418.9 750.8,364.1 751.6,398.7 752.3,382.7 753.3,377.9 753.5,418 754,292.8 754.6,408.5 755.4,375.8 756.2,413.7 757,344.9 757.8,404.5 758.4,392.1 759.2,406.6 760.5,333 761.2,416.2 761.5,410.1 762,287.8 762.6,399.6 763.4,319.5 764.1,403.4 764.7,413 765.9,360 766.7,406.8 767.9,417.8 768.7,402.3 770,374 770.5,399.8 770.5,421.5 771,305.8 771.6,419.1 772.4,423.2 773.2,357.3 774,398.7 774.5,405.6 775.6,410.5 776.5,393.4 777.9,390.1 778.8,417.7 780.1,386.5 780.6,404.7 781.3,391.7 781.9,417.8 783,398.1 783.8,419.7 784.9,413.6 786,421.9 786.9,411.2 788,416.5 789.4,419.5 790.1,409.4 790.9,423.3 792,417.7 792.8,410.9 793.6,408.8 794.5,409.2 795.7,404.7 796.6,417.2 797.7,419.9 798.7,422.2 800,414 801.3,408.3 801.9,421.3 802.6,423.1 803.5,396.3 804,418.7 804.8,416.1 806.1,409.7 807.4,413 808.2,419.4 808.5,423.3 809,386.8 809.6,421.6 810.4,397.4 811,421.5 812.3,415.7 813.5,410.2 814.9,406.2 815.5,420.5 816.7,412.9 817.5,423.6 818,423.5 819.2,404.5 820,419.7 820.9,406.5 821.7,421.2 823,402.4 823.6,418.2 824.3,405.5 824.9,419.6 825.6,413.2 826.9,413.2 827.9,409.8 828.5,420.7 829.1,411.6 829.9,419.5 831.1,411.1 832,410.7 833.1,402.7 834,423 834.8,418.1 835.9,414.4 837.2,406.9 837.8,416.8 839.1,416 840.2,414.2 841.2,397.4 842,420.6 842.5,416.4 843,392.8 843.6,421.4 844.4,416.8 845.3,422.8 846.1,410.6 846.8,412.2 847.6,416.1 848.5,412.8 849.5,409.5 850.2,420.8 851.2,414.2 852,421.6 852.5,419.1 853.8,413.4 854.4,419.2 855.1,406.7 855.7,420.7 856.4,407.4 857.2,417.4 857.7,416.3 858.7,411.3 859.3,423.4" fill="none" stroke="#2b62d0" stroke-width="0.9" stroke-opacity="0.8" stroke-linejoin="round"/>
<line x1="668" y1="426.4" x2="862.7" y2="426.4" stroke="#000" stroke-width="2.2"/>
<line x1="669.5" y1="289.5" x2="669.5" y2="427.4" stroke="#000" stroke-width="2.7"/>
<line x1="790.7" y1="289.5" x2="790.7" y2="427.4" stroke="#000" stroke-width="2.7"/>
<line x1="861.2" y1="289.5" x2="861.2" y2="427.4" stroke="#000" stroke-width="2.7"/>
<polyline points="903.2,405.3 904,417 904.8,408.5 905.5,413.1 906,393.8 906.6,416.8 907.4,412.2 908.3,412.7 909.2,407 910.3,405.7 911,418.6 912,408.7 912.6,412.7 913.9,402.6 914.6,414.3 915.6,410.5 916.1,418.7 917,411.1 917.7,414.6 918.3,416.3 919.4,410.3 919.5,417.5 920,399.8 920.6,417 921.4,407.2 922.2,415.7 923.5,404.7 924.2,414.2 924.9,402.8 925.5,413.9 926.5,412.5 927.7,415.1 928.8,417.1 930,405.6 931,416.2 931.8,418.7 932.9,401 933.6,417.8 934.7,411.1 935.6,399 936.2,417.2 937.4,404.3 938.7,414.9 939.5,412.2 940,381.8 940.6,412.3 941.4,383.7 942,416.6 943.2,407.1 943.9,413.7 944.8,401.5 945.4,416.2 946.3,401.8 947.1,404.4 948.4,414.6 949.8,390.7 950.4,413.6 951.4,395.3 952.1,412 953.1,395.6 954,406.7 955.3,385.7 956.1,406.3 957.2,414.3 958,396.2 958.5,410.8 959.5,387.5 960,409.4 961.2,386.1 962,416.6 962.5,407.1 963,360.8 963.6,408.4 964.4,397.6 965,410.7 966.1,409.2 967.4,410.5 968.7,404.2 969.7,385.2 970.2,404.9 970.8,392.5 971.7,408.2 972.7,391.6 974,401.3 974.6,408.7 975.4,400.9 976.5,365.6 977.3,411.2 977.5,417 978,346.8 978.6,409.7 979.4,415.5 980.7,415.2 982.1,399.6 983.3,404.6 984.6,383.4 985.4,417.5 986,360.3 986.8,411.5 987.6,403.3 988.4,341.3 989.1,407.3 989.8,395.5 990.5,365.2 991.3,406.7 992.1,409.5 992.5,409.3 993,323.8 993.6,406.2 994.4,390.5 995.7,385 996.5,415.7 997.7,406.5 998.5,402.7 999.8,368.3 1000.5,418.6 1001.1,374.9 1001.8,410.7 1002.5,403.8 1003,289.8 1003.6,404.6 1004.4,383.7 1005,403.6 1006.2,405.7 1007.6,377.4 1008.1,412.2 1008.7,373 1009.5,412.7 1010.5,410.1 1011,312.8 1011.6,411.2 1012.4,391.1 1013.1,415.6 1013.7,391.3 1014.5,388.2 1015.2,408.1 1015.7,406.9 1016.8,395.8 1017.7,403 1018.6,414.6 1019.4,408.1 1020,416.3 1021,409.5 1021.6,415.2 1022.9,416.1 1023.9,409.9 1024.6,415.9 1025.5,403.6 1026.2,414.6 1027.1,410.8 1028.1,417.2 1028.5,415.2 1029,393.8 1029.6,416.3 1030.4,417 1031.4,411 1032.2,413.7 1033.2,406.6 1033.9,416.3 1034.5,408.9 1035.9,415.2 1036.6,413.1 1037.4,403.2 1038.3,417.3 1039.4,411.9 1040.2,408.6 1041,416 1042.2,411.5 1042.8,415.9 1043.3,411.2 1044.4,417.6 1045.7,414.7 1046.4,410.2 1047.5,409.3 1048.3,417.4 1049.5,411.3 1050.3,414.2 1051.1,417.6 1051.6,413.6 1052.2,415.3 1053.3,414.5 1054.3,418.6 1055.6,417 1056.8,410.9 1057.5,411.3 1058.5,413.3 1059.4,417.3 1060.5,413.1 1061.7,416.3 1062.9,413.4 1064.1,413.4 1064.9,413.6 1065.8,416.3 1067.1,417.2 1068.1,417.5 1069.3,409.7 1070,418.5 1070.5,414.5 1071,416 1072,413.2 1072.7,417.9 1073.9,417.4 1074.5,416.6 1075,405.8 1075.6,417.1 1076.4,417.5 1077.4,413.6 1077.9,418.3 1079,409.3 1079.7,418 1080.6,414.4 1081.3,417.2 1082.4,415.9 1083.4,416 1084.3,415.4 1085.1,414.6 1086.2,417.5 1087.3,415.4 1087.9,418.4 1088.8,414.1 1089.6,417.2 1090.3,415.9" fill="none" stroke="#9a9a9a" stroke-width="1.1" stroke-opacity="0.85" stroke-linejoin="round"/>
<polyline points="903.2,409.7 904,411.3 904.6,414 905.2,407.9 906,416 907.1,406.2 907.7,415.2 909,408.4 909.7,415.1 910.9,415.4 911.6,410.8 912.4,409.1 912.9,417 913.5,404.9 914.1,413.2 914.8,406.5 915.8,410.7 917.1,417.3 918.1,407.5 918.8,412.5 920,406.1 921.1,418.5 922.3,408.7 923.3,408.7 923.8,413.7 924.5,418.7 925.4,416.2 926.3,405.9 927.1,412.7 928.2,408.3 928.8,416.8 929.3,411 930.4,412.3 931.4,411.6 932.2,405.4 933,418.5 934.2,410.1 934.9,414.4 935.9,417.3 937.1,408.2 938.5,413.2 939.7,407.9 940.5,404.4 941.5,410.3 942.3,412.5 943.5,411.1 944.3,400.2 945.1,414.3 945.9,411.1 946.8,397.2 947.7,413.9 948.3,391.3 948.8,415.7 949.8,400.7 950.7,412.5 951.3,399.8 952.1,409.2 952.8,410.9 953.9,410.7 955,395.2 955.8,400.7 956.9,405.3 957.8,382.9 958.6,417.5 959.4,397 959.9,415.3 960.9,399.7 961.8,407.2 963.1,362.6 963.6,410 964.7,415.6 966,393 966.8,414.7 967.7,385.3 968.4,415.2 969.6,376.4 970.4,412.8 971.6,366.5 972.4,413.2 973,382.7 973.8,412.1 974.6,387.5 975.1,406.2 975.9,411.8 977.1,400.8 977.8,411.9 978.5,403.8 979.8,403 980.8,394.4 981.5,412.4 982.4,390.1 983.3,407.2 984.4,398.3 985.8,352.6 986.4,418.4 987.4,392.6 988,415 989.2,404.5 990.4,405.3 991.3,387.2 991.9,412.8 992.9,388.5 994,373 994.6,406.2 995.5,401.6 996.3,347.5 996.9,416.4 997.8,396.9 999,367.5 999.7,407.9 1000.5,359.3 1001.4,412.1 1002.6,384.9 1003.2,417.8 1003.8,407.9 1004.7,358.1 1005.2,410.7 1006.1,369.4 1007,409 1007.6,409.5 1008.7,363.2 1009.4,414 1010.4,399.2 1011.1,417.9 1012.4,379.7 1013,409.4 1014.2,397.5 1015.1,418 1016,402.7 1016.7,416.6 1017.6,394.7 1018.3,416.9 1019.4,418 1020.1,410.9 1020.9,415.6 1021.6,414.4 1022.2,416.3 1023.5,412.2 1024.3,416.8 1025.3,411.6 1026.1,417.8 1027.2,413 1028.5,414.1 1029.3,410.3 1030.2,403.6 1030.7,413.6 1031.5,416.1 1032.5,413.5 1033.4,415.7 1034.7,401.5 1035.2,416.3 1036.4,414.6 1037.2,409.2 1038,415 1039.1,413 1040.5,406.1 1041.2,414.4 1042.1,410.5 1043.2,417.7 1044.6,408 1045.1,418.8 1046.2,411.3 1047.1,415.3 1047.8,410.8 1048.6,417.3 1049.4,418.2 1050.1,410.3 1051,417.1 1051.9,412.1 1053,410.1 1053.7,418.1 1054.6,411.2 1056,410.1 1056.7,416.5 1057.8,411 1058.5,416.2 1059.3,409.9 1059.9,418 1061,410.3 1061.9,416.9 1062.6,417.4 1063.3,412.5 1063.9,416.3 1064.9,412.7 1065.7,417.6 1066.8,415.6 1067.7,417.3 1069,412.6 1070.3,417.6 1071.3,415.1 1072,416.9 1073,413 1074.1,417.9 1075.2,412.5 1075.9,416.4 1076.4,414 1077.2,418.5 1077.9,418.5 1079,414.1 1079.7,417.5 1080.3,412.6 1081,418.5 1081.9,411.7 1082.7,418.5 1083.7,413.2 1084.5,417.8 1085.3,418.7 1086.6,417 1088,416.5 1089,416 1089.7,418.2 1090.5,416.7" fill="none" stroke="#9a9a9a" stroke-width="1.0" stroke-opacity="0.7" stroke-linejoin="round"/>
<polyline points="903.2,410.4 903.9,416.9 905.2,406.7 906,413.7 906.8,399.7 907.5,418.2 908.2,403.4 909,415.7 910.2,405.1 911,416.4 911.8,405 912.3,417.1 913,407.8 913.8,417.7 914.4,417.3 915.4,411.1 916.3,414.1 917.4,410.1 918.1,405.8 918.8,413.4 919.6,414.5 920.8,407.5 922.1,413.6 923.1,406.3 923.9,412.8 924.9,416.7 926.2,402 926.9,416.9 928,409.1 928.7,415.9 929.6,413.7 930.5,404.3 931.3,415.9 932.3,415.1 933,412.7 934.1,412.4 934.9,410.1 935.8,409.9 936.4,415 937.6,409.5 938.4,417.3 939.3,415.7 940.4,406.5 941.2,412.2 942.3,410.7 943.1,417.9 944.3,403.5 945.6,407 946.9,413.2 947.8,396.9 948.4,410.7 949.7,402.6 950.8,396.1 951.6,401.1 952.1,407.1 953.2,401.2 954.2,391.7 954.8,407.2 955.9,393.6 957.2,386.4 958,410 959.1,397.8 960,415.3 960.9,417.3 962,395.9 962.7,418.4 963.2,364.3 964,408.5 964.7,371.7 965.4,406.2 966.6,380.8 967.1,418.7 968.3,403.6 968.9,404.8 969.8,396.3 970.7,412.6 971.7,417.5 972.9,380.8 973.7,411 974.4,403.1 975.6,411.9 976.5,365.8 977,405.2 978,411.7 979.2,392.8 980.4,389.5 981.1,406.4 982.1,391.1 983.1,410.3 983.9,399.2 984.7,407.6 985.8,416.6 986.6,397.8 987.8,382.4 988.4,410.7 989.5,407.8 990.6,409.9 991.6,407.6 992.8,396.6 993.3,417.8 993.9,407.3 994.9,385.3 995.6,416.1 996.4,400.2 997.8,406.5 998.7,389.5 999.4,394.1 1000.1,417.1 1001.2,400.9 1002.5,357.5 1003.3,416.4 1004.2,407.1 1005.6,394.3 1006.3,381.4 1007.2,414.1 1007.8,417.1 1008.8,415 1009.5,355.4 1010.3,411.1 1011.2,408.4 1012.2,405.3 1013.2,398.9 1014,407.9 1014.8,390.5 1015.8,390.3 1016.6,409.5 1017.8,395.4 1018.6,415.3 1019.4,411.6 1020,415.7 1021.1,409.2 1022,418.5 1022.9,416.8 1023.9,408.9 1024.7,415.8 1025.3,408.4 1025.8,415.1 1027,412.5 1028.2,413.1 1029,408.1 1029.8,415.9 1030.6,405.3 1031.3,414.8 1032.5,402 1033.3,414.1 1034.1,409.3 1035.4,415.6 1036.7,417.3 1038,409.7 1038.8,413.6 1039.9,407.6 1040.7,415.7 1041.6,409.6 1042.4,417.4 1043.2,414 1044.5,407.6 1045.1,414.4 1045.7,410 1046.4,415.4 1047,411.2 1048.3,413.5 1049,414.7 1049.6,414.5 1050.6,412 1051.5,412.8 1052.1,416.1 1053.3,415.4 1054.3,411 1055.5,415 1056.7,414.4 1057.5,418.3 1058.3,413.2 1059.1,417.6 1060,411.9 1060.6,416.1 1061.9,411.9 1062.7,417.9 1063.7,413 1065.1,418.1 1065.9,417.8 1066.9,415.9 1067.8,414.4 1068.6,417.9 1069.7,417.8 1070.9,416.6 1072.2,414.6 1073.2,417.5 1074.5,415.3 1075.5,416 1076.3,411.7 1076.9,417.3 1077.9,415.5 1079.1,411.2 1079.9,416.7 1080.5,412.2 1081,416.5 1081.9,413.9 1082.8,417.4 1083.3,418.6 1084.5,415.5 1085.3,417.4 1086.4,416.3 1087.4,412.7 1088.1,417.4 1089,415.3 1090.1,413.7 1090.7,417.4" fill="none" stroke="#3a3a3a" stroke-width="0.9" stroke-opacity="0.75" stroke-linejoin="round"/>
<polyline points="903.2,408.1 904.6,407.1 905.4,410.7 906.7,414 907.8,407.8 909.2,408.9 910.1,409.4 910.7,416.3 911.4,404.1 912,415.3 912.8,407.1 913.6,409.2 914.3,417.1 915.3,413.1 916.7,417.5 918,413.8 919.4,411.8 920.2,414 921.6,411.5 922.4,407.5 923.7,403.8 924.4,412 925.1,407 925.9,405.2 927.1,407.9 927.8,407.5 928.8,409.5 930,405.7 930.6,411.9 931.1,416.5 932.2,406.3 932.8,417.5 933.5,414.6 934.7,404.9 936.1,409.7 936.7,413.6 937.6,404.9 938.2,411.9 939.1,407.6 940.3,407.2 941.6,409.8 942.6,399.7 943.1,414.4 944.2,396.1 944.9,413.3 945.8,406.4 946.6,392.4 947.3,418 948.5,415.9 949.3,398.6 950.3,406.5 951,415.4 951.8,415.2 953.1,397.1 953.8,407.2 954.9,392.9 956.1,386.1 957,406.2 958.2,418.1 959.4,408.9 960.6,399.9 961.1,411.6 961.9,372.4 962.8,412.2 963.5,393.5 964,412 965.1,403.9 966.1,401.6 966.7,411.2 967.3,406.2 968.1,394.1 969,390.9 969.6,407.9 970.1,411.1 971.5,367.8 972.2,415.4 973.2,390.5 974.2,360.2 975,410.3 975.5,355.8 976.4,405.6 977.1,383 977.6,409 978.7,394.1 979.3,413.5 979.9,410.7 981,399.1 982.3,358.5 983.1,405.7 984.2,404.3 985.3,389.8 986.6,392.6 987.3,409.1 988.4,392.3 989.3,414.9 990.2,413.2 991.2,382.4 992,411.9 993.2,333.1 994.1,410.1 995,402.4 995.9,388.8 996.4,418 997.1,392.9 997.9,408 999.2,380.7 1000.1,408.4 1000.7,370.1 1001.2,404.5 1002.4,397.7 1003.5,409.8 1004.2,397.3 1005.3,358.8 1006.2,403.8 1006.8,383 1007.6,405.4 1008.5,342.1 1009.2,417 1010.4,412.2 1011.6,348 1012.5,411.1 1013.4,401.2 1014,405.8 1014.9,399.1 1016.2,410.4 1017.4,411.5 1018.8,406.6 1020.1,417.1 1021.3,412.4 1021.8,416.2 1022.9,411.1 1023.7,417.7 1024.4,405.4 1025.2,418.7 1026.3,401.7 1027.1,414.6 1028.3,412.1 1028.8,416.7 1030,413.9 1031.2,397.7 1031.8,413.9 1032.3,417.9 1033.3,412.1 1034.1,411.6 1035.4,409.9 1036.1,415.5 1036.9,408.5 1037.5,415.5 1038.7,408.8 1039.5,413.4 1040.3,408.4 1041.1,416.5 1042,412.4 1042.9,416.9 1043.9,411.1 1045,408.8 1045.6,416.5 1046.5,411.6 1047.8,413.8 1048.5,417.8 1049,413.7 1050.2,410.4 1051.4,416.1 1052.5,415.8 1053.7,415.4 1054.6,412.7 1055.6,415.3 1056.7,411.5 1057.5,411.8 1058.5,416.6 1059.9,411.2 1061.2,411.2 1061.9,416.7 1062.9,417.5 1063.9,415.2 1065.1,413.2 1066.3,418.1 1067.4,412.8 1068.1,416 1068.9,412.7 1070,411.4 1070.8,417.7 1071.8,413.6 1072.8,414.5 1073.7,418.3 1074.5,415.5 1075.3,416.9 1076.3,411.8 1076.9,416.1 1078.1,414.7 1079.1,415.1 1080,410.4 1080.6,416.5 1081.9,410.8 1082.8,417 1083.3,418.2 1084.1,417 1085,415.2 1085.8,417.8 1086.4,414 1087.1,416.7 1088.3,415.2 1089.3,414.9 1090.2,414.6 1090.9,417.5" fill="none" stroke="#3a3a3a" stroke-width="0.9" stroke-opacity="0.7" stroke-linejoin="round"/>
<polyline points="903.2,416.8 904.1,406.7 905.5,415.5 906,393.8 906.6,417.9 907.4,407.4 908.4,408.8 909.3,411.6 910.3,407.9 911.1,414.6 912.2,417.5 912.9,406.4 913.7,403.3 914.3,412.5 914.9,406.5 916.1,409.2 916.9,413 918.1,416.4 919.1,413.3 919.5,412.1 920,399.8 920.6,415.7 921.4,406.4 922.7,405.3 923.9,412.4 924.7,402 925.3,416.1 926.4,414.5 927.7,407.6 928.9,416.5 929.7,411.3 930.9,402.3 931.5,413 932.3,417.6 933,405.6 933.8,412 935.1,417.1 935.9,411.5 936.9,412.4 938.1,404.2 938.9,415.7 939.5,412.8 940,381.8 940.6,414.3 941.4,406.2 942.2,414.3 942.7,410.6 943.9,390 944.5,411.1 945.5,403.1 946.7,401.7 947.8,406.5 948.5,411.8 949.4,400.4 950.1,402 950.8,412.3 951.5,413 952.6,412.6 953.7,412.1 954.7,410.6 955.7,396.9 956.4,398.4 957.4,415.8 958.3,411.3 959.1,398.1 960,397.7 960.5,411.5 961.5,409.8 962.5,414.2 963,360.8 963.6,415.7 964.4,414.3 965.6,390.7 966.6,407.6 967.5,393.4 968.5,384 969.4,404.4 970.7,418.3 971.5,404.3 972.9,398.6 973.8,365.1 974.4,416.8 974.9,397.7 975.7,401.5 977.1,357.5 977.8,416.9 977.5,410.6 978,346.8 978.6,405.1 979.4,411.9 980.4,394.1 981.5,417.5 982.8,400 983.8,401.3 984.6,400.3 985.9,405.5 986.6,397.4 987.4,409.5 988.1,360.4 988.9,412.3 989.5,417.1 990.3,415.5 991.6,390.5 992.1,411.8 992.5,410.8 993,323.8 993.6,407.5 994.4,383.5 995,404.6 996,395.5 996.6,409.1 997.7,373.8 998.4,403.7 999.4,411.4 1000.1,412 1001,418 1002.3,409.2 1002.5,414.5 1003,289.8 1003.6,407.5 1004.4,404.4 1005.6,386.5 1006.4,414.7 1007.1,409.8 1008.3,394.6 1009.5,374.9 1010.2,405.8 1010.5,403.3 1011,312.8 1011.6,412.8 1012.4,409.9 1013.2,393.7 1014.5,387.7 1015.7,390.6 1017.1,416.8 1018.2,410.5 1019.2,408.8 1019.9,414.2 1021.2,418.5 1022.2,414.6 1023.5,411.8 1024.3,417.8 1025.2,416.7 1026,413.1 1027,411.7 1028,416.4 1028.5,416.8 1029,393.8 1029.6,417.7 1030.4,405.4 1031.2,417.7 1032,400.3 1032.8,416.4 1033.4,409.7 1034.7,413.9 1035.6,412 1036.5,418.6 1037.7,416.5 1038.8,413.1 1039.7,413.4 1040.7,415.4 1041.7,408.4 1042.3,416.8 1043.4,409.4 1044.6,413 1045.3,418.7 1046.4,416.2 1047.6,411 1048.8,413.2 1049.8,413.8 1050.7,409.6 1051.6,415.6 1052.8,409.6 1053.4,415.4 1054.5,412.9 1055.3,418.2 1056.1,412.8 1057.3,418.8 1058,414.9 1058.8,411.5 1059.4,415.5 1060.6,412.9 1061.4,413.1 1062.1,411.6 1063.1,414.8 1064.4,414.9 1065.2,415.4 1066.4,414.1 1067,417.2 1067.8,418 1069,417.4 1070.3,415.9 1071.3,417.8 1072.3,414.3 1073,411.8 1073.8,418.5 1074.5,415.9 1075,405.8 1075.6,416.1 1076.4,418 1077.5,414.4 1078.5,417.3 1079.2,415.4 1080,417.6 1081.1,418.1 1082.5,415.1 1083.4,413.2 1084,417.3 1084.8,415.1 1085.7,416.1 1086.6,414.5 1087.5,417.2 1088.6,412 1089.5,418 1090.7,418.2" fill="none" stroke="#000000" stroke-width="0.9" stroke-opacity="0.8" stroke-linejoin="round"/>
<line x1="900.2" y1="421.4" x2="1093.9" y2="421.4" stroke="#000" stroke-width="2.2"/>
<line x1="901.7" y1="289.5" x2="901.7" y2="422.4" stroke="#000" stroke-width="2.7"/>
<line x1="1020.9" y1="289.5" x2="1020.9" y2="422.4" stroke="#000" stroke-width="2.7"/>
<line x1="1092.4" y1="289.5" x2="1092.4" y2="422.4" stroke="#000" stroke-width="2.7"/>
<polyline points="1134.1,417.8 1134.9,411.3 1135.6,418.8 1136.7,419 1137.5,413.5 1137.5,416.6 1138,384.6 1138.6,418.6 1139.4,399.5 1140.2,419.8 1141.3,418.2 1142.3,398.5 1143,417.1 1144.2,415.6 1145.4,411.1 1146,416.3 1147.2,410.8 1148.1,416.5 1149.3,414.1 1150.4,420.2 1151.3,412.5 1152.2,412 1152.9,412.8 1153.7,412.4 1154.2,418 1155.4,409.1 1156,416.1 1156.6,412.6 1157.2,418.9 1158.4,399 1159.1,417.9 1160,411.4 1160.8,412.7 1161.4,420.4 1162.2,401.6 1162.8,420.1 1163.6,408 1164.4,416.5 1165.5,415.9 1166,381.6 1166.6,420.6 1167.4,417.8 1168.7,391.6 1169.5,416.5 1170.1,396 1171,415.9 1171.8,411.3 1172.7,417.8 1173.8,416.9 1174.9,413.9 1176.2,411.2 1177.3,420.4 1178,416.9 1178.8,414.3 1179.9,392.4 1180.6,408.9 1181.6,409.7 1182.4,418.5 1183.6,403.2 1184.3,417.9 1184.8,406 1185.5,418.1 1186.1,416.7 1187,387.5 1187.6,415.5 1188.3,400.9 1189.1,415.3 1190.2,382.4 1190.7,409.6 1191.9,419.3 1193.3,398.1 1194.6,391.5 1195.2,408.7 1196,413.8 1196.7,402.4 1197.8,401.7 1198.3,413.2 1198.5,410.7 1199,354.6 1199.6,413.2 1200.4,399.1 1201.6,403 1202.2,411.1 1203.1,419.4 1204,407.9 1205.3,390.8 1205.9,410.8 1206.8,350 1207.5,419.9 1208.1,397.5 1208.7,412.3 1209.9,397.4 1210.9,399.4 1211.6,420 1212.7,380.4 1213.6,419.9 1214.5,409.6 1215,289.6 1215.6,417.3 1216.4,403.5 1217.1,399.1 1218.2,410.4 1219.3,406.1 1220.4,396.1 1221.2,417.3 1222.1,402.5 1222.9,419.7 1223.9,400.2 1224.8,407.2 1225.6,418.3 1226.3,406.3 1227.2,407.1 1227.9,404.8 1228.5,413.8 1229,330.6 1229.6,412 1230.4,368.1 1231.2,419.5 1231.8,416.4 1232.8,398.9 1233.9,404.5 1235.1,419.4 1236,401 1237.3,417.2 1238.7,403.9 1239.8,404.4 1240.6,420.5 1241.8,407 1242.3,420.1 1242.9,415.8 1244.2,416.1 1245.6,416.6 1246.6,413.4 1247.2,417.4 1247.7,409.7 1248.6,417 1249.4,410.6 1250.2,417.3 1249.5,418.5 1250,395.6 1250.6,417.3 1251.4,411.7 1252.3,419.4 1253.3,414.9 1254,418.3 1254.8,414 1255.5,412.8 1256.8,413 1257.3,416.4 1258.2,411.3 1258.9,417.8 1259.5,407.6 1260.1,420 1260.8,411.3 1261.4,420.5 1262,413.6 1262.8,411.8 1263.4,416.6 1264.6,407.7 1265.3,420.3 1266,411.4 1266.8,418.4 1267.6,417.6 1268.4,415.5 1269.3,417.3 1270.1,414.6 1270.9,413.1 1271.8,417.2 1273,415.9 1273.6,418.1 1274.2,419.7 1275.3,409.7 1275.8,419.4 1276.9,417.6 1277.6,412.4 1278.3,417.8 1279.5,419.4 1280.4,414.4 1281.1,419.9 1281.7,415.9 1282.5,419.5 1283,405.6 1283.6,418.8 1284.4,412.9 1285.1,420.4 1285.6,414 1286.2,418.9 1286.9,419.2 1287.9,414.5 1289.1,412.6 1289.9,419.7 1290.8,416 1292.1,420 1292.9,419.4 1293.7,415.6 1294.7,415 1295.5,418.6 1296,419.7 1297.3,416.2 1298,418.1 1299.2,413.1 1299.7,419.3 1300.8,420.3 1301.6,417.3 1302.5,416.9 1303.8,417.1 1304.7,419.3 1305.9,418.4 1306.8,416.4 1307.7,420.2 1308.9,420.1 1310.2,417.3 1311.1,419.5 1312,418.2 1313.2,417.4 1314,420.1 1315.1,420.1 1316,417.6 1316.7,419.8 1317.6,418.2 1318.9,418.6 1319.9,418.2" fill="none" stroke="#f3bd98" stroke-width="1.1" stroke-opacity="0.85" stroke-linejoin="round"/>
<polyline points="1134.1,419.1 1134.8,417.9 1136,419.2 1136.8,416.6 1137.8,417.2 1138.5,412.6 1139.5,419.4 1140.8,415.4 1141.9,408 1142.6,416.6 1143.7,404.5 1144.4,416.7 1145.6,412 1146.8,416.5 1148,411.8 1148.7,416.6 1149.8,417.1 1151,420 1151.8,413.9 1152.6,417.7 1153.7,412.5 1154.5,415.4 1155.8,415.1 1156.6,408.1 1157.3,418.7 1158.4,412.8 1159.8,416.1 1161.1,414.4 1162.4,411.5 1163,418 1163.7,411.6 1165.1,409 1165.9,419 1166.4,407.9 1166.9,416 1167.8,419.4 1168.6,416.9 1169.5,420.2 1170.6,412.3 1171.3,420.4 1172,411.3 1172.7,416.5 1173.5,412.5 1174.8,399.2 1175.7,417.9 1176.5,407.3 1177.4,413.9 1178.2,415 1178.9,409.3 1179.8,414.9 1181,399.2 1182.2,411.3 1183.3,411.4 1184.3,373.5 1185,414 1185.8,399.1 1187.1,371.2 1187.7,415.8 1188.7,394.8 1189.3,408.8 1190.2,405.4 1191.6,402 1192.2,411.3 1193.3,380.4 1193.9,417.6 1194.6,398.5 1195.5,396 1196.2,410 1197.4,409.3 1198.6,415.4 1199.8,394.2 1200.7,413.6 1201.3,413.5 1202.1,398.4 1203,406.8 1204.2,403 1205.3,362.3 1205.9,411.3 1206.8,410.7 1207.9,415.8 1208.8,335.2 1209.6,415.9 1210.2,417.8 1211.2,388.2 1212,417.8 1213.1,402 1213.9,401.5 1214.8,369.5 1215.6,411.1 1216.8,401.6 1217.8,404.1 1219.1,414.4 1220.3,400.6 1221,397.6 1221.9,391.2 1222.5,414.9 1223.6,369.3 1224.3,417.6 1225.3,405 1226.5,398.2 1227.3,411.2 1228.4,405.7 1229.3,403.6 1230.5,383.8 1231.1,414.8 1231.6,404.4 1232.3,413.3 1233.2,400.3 1234.1,416.9 1234.7,415.8 1235.5,404.8 1236.1,410.7 1237.3,397 1238.1,411.3 1239.1,406.1 1239.7,420 1240.5,416.7 1241.7,409.7 1242.9,418.5 1244.2,417.1 1245.4,416.1 1246,418.1 1246.8,410.3 1247.6,419.3 1248.7,414 1249.5,401.9 1250.3,416.5 1251.5,412 1252.3,420.4 1253.1,413.8 1254.2,413.7 1254.9,416.1 1255.7,417.6 1256.6,413.7 1257.3,416 1258.4,410.3 1259.2,416.8 1260,410.2 1260.8,416.5 1262,412.7 1262.9,414.7 1263.8,420.4 1264.3,418.9 1265.3,418.6 1266.2,414.1 1266.7,420.4 1267.6,416.7 1268.4,419.6 1269.4,410.9 1270,420.3 1270.5,413.1 1271.3,417.2 1272.4,413.4 1273.8,407.5 1274.7,420.1 1275.6,415.6 1276.8,416.1 1277.7,414.5 1278.6,417.1 1279.4,414.6 1280.3,415.8 1281.4,413.4 1282,419.5 1283.2,413.7 1283.9,417.4 1284.9,419.8 1285.9,417 1286.5,419.3 1287.5,415.7 1288.8,415.9 1290,415.2 1290.6,419.2 1291.2,413.2 1291.9,419.8 1292.5,418.6 1293.6,418.4 1294.5,418.9 1295.5,418.7 1296.3,417.5 1297.3,414.9 1298.1,420.3 1298.6,416 1299.8,414.5 1300.5,419.7 1301.3,417.3 1302.3,415.5 1303.1,420.2 1304.2,417 1304.7,418.5 1305.3,420.6 1306,418.8 1307.2,416.2 1307.8,420.3 1309,415.8 1309.9,419.1 1310.5,420.1 1311.7,416.9 1312.6,418.9 1313.5,419.5 1314.9,416.1 1315.6,419.9 1316.7,418.5 1318.1,417.1 1318.8,419 1319.9,418.6" fill="none" stroke="#f3bd98" stroke-width="1.0" stroke-opacity="0.7" stroke-linejoin="round"/>
<polyline points="1134.1,414.4 1135.1,413.8 1136,412.4 1137.1,399.3 1137.9,418.4 1138.5,419.8 1139.7,416.2 1140.5,418 1141.5,411.1 1142.4,417.7 1143.2,418.7 1143.9,416.7 1144.7,419.3 1146,410 1146.9,416.1 1147.6,412.1 1148.2,419.9 1149.4,419.7 1150.2,412.5 1151.2,413.6 1152.2,419.5 1153,409.3 1153.7,416.3 1154.3,416.8 1155.2,410.9 1156,420.1 1156.8,416.1 1157.7,420.2 1159.1,414.4 1159.8,412.5 1160.8,414.7 1161.5,420 1162.6,411.7 1163.4,410.7 1164.2,420.6 1165.4,412.5 1166.7,416.2 1167.9,400.5 1168.7,418.6 1169.8,416.6 1170.6,418.9 1171.4,410.2 1172.2,416.6 1173.1,418 1174.1,395.8 1174.8,420.6 1175.6,418 1176.4,411.7 1177.2,413.2 1178.4,408.4 1179.1,411.1 1179.9,399.7 1181,405.4 1182.1,396.9 1183.2,407.5 1184.4,392 1185.3,417.9 1186.5,395.3 1187.1,416.3 1188.1,403.3 1188.8,419.4 1189.8,408.5 1190.8,403.3 1191.7,410.8 1193,403.6 1194.1,414.2 1195.4,381.2 1196.1,419.4 1196.6,415.1 1197.4,380.6 1197.9,412.4 1198.5,397.2 1199.6,419.8 1200.5,407.6 1201,415.5 1202.1,418.5 1203.4,411 1204.6,399.3 1205.5,402.5 1206.3,393.9 1207.1,408.8 1207.7,420.1 1209.1,410.5 1210.3,400 1211.1,383.1 1211.9,415.4 1213,415.4 1214.3,406.4 1215.4,395.3 1216,410.1 1217.1,420.2 1218.2,355.8 1219,412.3 1220,415.1 1221.1,396.9 1221.7,418.3 1222.6,400.4 1223.2,419.9 1224.1,406.4 1225,394.9 1225.7,413 1226.8,408.5 1227.4,419.3 1228,398 1228.9,384.9 1229.7,411 1230.8,411.4 1231.8,403.9 1232.7,398.1 1233.6,414.2 1234.4,407.9 1235.3,415.5 1236.2,410.7 1237.2,401 1238,418.6 1238.9,406.1 1239.5,412.5 1240.1,406.9 1240.8,419 1241.5,416.2 1242.6,415.1 1243.9,419.6 1245.2,417.4 1246,411.8 1246.7,419.1 1247.9,412.5 1248.7,416.7 1249.6,411 1250.3,416.1 1251.1,418.9 1251.8,419.6 1252.5,420.4 1253.4,415.9 1254.1,416.9 1255.2,411.6 1256.2,418.9 1257.2,410.9 1258,416.7 1258.6,417.1 1259.4,414.9 1260.7,412.8 1261.5,416.6 1262.2,415.8 1263.4,413.4 1264.7,415.5 1265.7,420 1266.8,413.1 1267.9,414.5 1268.9,412.4 1269.7,419.7 1270.9,413.4 1272.1,406.9 1272.7,420 1273.6,414.3 1274.3,417.4 1275.3,416.8 1276,413.7 1277.1,417.9 1278.4,415 1279.7,418 1280.8,419.9 1281.7,416.2 1283,416.2 1283.5,419.1 1284,410.6 1284.6,419.8 1285.4,409.5 1286,420.1 1286.9,417.8 1288,414.3 1288.9,419.1 1289.8,415.7 1290.6,419.2 1291.8,419.5 1293.1,418.7 1294.4,415.2 1295.8,419.6 1296.8,416.7 1298,416.3 1298.7,419.8 1299.4,417.5 1300.4,417.2 1301.3,418.9 1302.1,418.3 1303.2,417.9 1304.3,417.9 1305.4,418.8 1306.5,416.4 1307.7,416.3 1308.4,416.4 1309.8,418.5 1311.2,416.2 1311.8,419.1 1312.7,417.2 1314.1,419.4 1315,418.1 1316.2,417.1 1317.3,420.4 1318.2,420.4 1318.9,420.4 1320,416.5" fill="none" stroke="#e68c55" stroke-width="0.9" stroke-opacity="0.75" stroke-linejoin="round"/>
<polyline points="1134.1,416.2 1135.2,418 1136.4,403.8 1137.1,420 1137.8,417.4 1139.1,413.6 1140.4,416.8 1141.4,413.2 1142.3,413.2 1143,417.9 1143.9,419.3 1144.8,412.3 1145.5,418 1146.4,419.9 1147.8,411.5 1148.5,418.9 1149.5,411.6 1150.4,414.4 1151.2,419 1152.4,415 1153.7,412.6 1154.6,417.5 1155.2,410.2 1155.8,418.8 1156.6,405.9 1157.2,416.1 1158.2,418.9 1159.5,411.6 1160.6,410.4 1161.1,416.2 1161.8,413.9 1162.9,412.6 1163.7,414.4 1164.6,413.5 1165.4,420.2 1166.1,415 1167.2,417.6 1168.5,407.6 1169.1,415.8 1170.1,419.9 1171.4,418.5 1172.5,420.2 1173.2,414.2 1174.4,417.1 1175.6,386.4 1176.4,416.2 1177,406.8 1177.5,420.5 1178.6,405.7 1179.8,418.2 1181.2,417.8 1181.9,407 1183.2,397.4 1184.4,402.9 1185.5,396.1 1186.3,412.7 1187.5,388 1188.2,412.7 1188.8,420.1 1190,416 1191.3,404.7 1192,409.7 1192.8,392.3 1193.4,411.8 1194.2,411 1195,410.2 1196.4,403.9 1197.3,400.3 1198.4,402.1 1199.2,397 1199.7,412.5 1200.7,398.5 1201.3,409.2 1202.5,372.9 1203,413.6 1204.1,407.2 1204.9,369.6 1205.6,413 1206.9,397.6 1207.7,410.3 1208.5,391.2 1209.3,415.4 1209.9,399.8 1211,408.8 1212.3,398.6 1213.3,417.4 1214.1,397.6 1215,396.4 1215.6,412.3 1216.2,417.6 1217.4,396.7 1218.4,394.2 1218.9,410.3 1220,418.9 1221.1,377.3 1221.8,409.7 1222.5,398.3 1223.8,408.5 1225,397.8 1225.8,413.1 1226.7,385.9 1227.3,411.8 1228.4,415.7 1229.6,405.1 1230.7,418.7 1231.7,402.1 1232.4,375.2 1233,420.4 1233.6,399.7 1234.8,400.4 1236,418.9 1237.3,406 1238,418.2 1239.1,405.6 1240.1,411.3 1241.3,418.1 1242.6,417.6 1243.6,415.8 1244.2,418 1244.9,416.9 1246.1,419.3 1247.1,415.1 1248.1,413.3 1249.3,418.2 1250.5,411.8 1251.7,415.6 1253.1,408.3 1253.7,419 1254.4,412.6 1255.5,409.7 1256.1,418.8 1257.2,412.4 1258.1,410.9 1258.8,418 1259.3,414.7 1260.1,416.1 1260.8,419 1261.8,416.7 1262.9,409.5 1263.7,418 1264.5,409.1 1265,419.4 1265.9,416.3 1266.9,414.3 1267.5,419.7 1268.5,416.7 1269.3,415.7 1270,420.3 1271.3,416.5 1272.3,414.7 1273.1,413.6 1274.3,418.2 1275.6,406.8 1276.1,419.9 1276.7,416.3 1277.5,414.2 1278.6,414.9 1279.3,418.4 1280.4,417.1 1281.8,412.6 1282.4,417.6 1283.5,413 1284.2,417.4 1284.8,420.4 1285.6,415.8 1287,417 1287.6,418.2 1288.8,415.1 1289.6,420.1 1290.7,416.2 1291.8,412.2 1292.5,419.9 1293.7,417.1 1294.2,420.1 1295.5,420.5 1296.5,412.9 1297,418.6 1297.8,415.5 1299.1,417.9 1300.4,416 1301,420.2 1301.6,414.8 1302.4,418.3 1303.1,416.7 1303.7,418.3 1304.3,417.1 1304.9,419.1 1306.1,415.5 1306.7,420 1307.3,415.8 1307.9,419.7 1308.4,416.4 1309.1,420.4 1310.4,419.6 1311.1,417.8 1312.5,418.2 1313.3,420 1314.4,416.7 1315.1,419.1 1315.8,417.3 1316.5,418.4 1317.4,419.9 1318.5,419.6 1319.6,418.6" fill="none" stroke="#e68c55" stroke-width="0.9" stroke-opacity="0.7" stroke-linejoin="round"/>
<polyline points="1134.1,414 1135,414.3 1136.2,411.3 1137,417.2 1137.5,420.6 1138,384.6 1138.6,416.7 1139.4,415.5 1140.3,419 1141.3,414.1 1142.1,419.7 1143.3,417.2 1144.1,410.4 1144.9,419.7 1145.5,417 1146.8,411.1 1147.6,419.8 1148.1,417.5 1148.8,415.3 1149.7,418.2 1150.8,414.4 1152.1,411.2 1153.2,417.1 1154.5,414.2 1155.4,412.3 1156.2,419.8 1156.8,415.2 1157.9,418.1 1158.8,415.7 1159.5,414.2 1160.3,420.1 1161.1,418 1161.9,412.6 1162.8,412.2 1163.7,419.4 1165.1,408.9 1165.6,417.1 1165.5,416.9 1166,381.6 1166.6,416.7 1167.4,417.6 1168.6,419.4 1169.7,414.5 1170.6,416.8 1171.7,419.5 1172.9,407.4 1173.5,418.3 1174.6,413.5 1175.2,419.7 1176.1,403.8 1176.8,413.9 1178.1,385.8 1178.8,412.5 1179.9,397.9 1181,416.2 1181.7,413.2 1183,417.1 1184.2,415.7 1185.3,395.4 1185.8,408.6 1186.8,408 1187.8,394.2 1188.6,412.6 1189.3,386.7 1189.8,417.4 1191,403.1 1191.8,400 1192.5,411.1 1193.7,403.5 1194.5,406.3 1195.7,385.7 1196.3,411.2 1197.6,411.6 1198.5,413.2 1199,354.6 1199.6,412.1 1200.4,368.4 1201,412.7 1202.2,415.6 1203.3,398.4 1204.2,410 1205.1,402.2 1206.2,402.5 1207,412.9 1208.3,399.4 1209.7,394.3 1210.4,417.6 1211.5,416.6 1212.6,326 1213.3,418.8 1213.9,412.6 1214.5,411.5 1215,289.6 1215.6,409.9 1216.4,405.1 1217.5,399.8 1218.4,399.2 1219.6,392.9 1220.5,416.9 1221.8,407.9 1222.7,400.9 1223.5,370.4 1224.2,419 1225.4,403.8 1226.5,406.7 1227.2,400.4 1228,398.2 1228.5,416.1 1229,330.6 1229.6,409.5 1230.4,402 1231.2,416.1 1231.9,408.9 1232.7,405.4 1234,415.9 1235.1,401.9 1235.9,403.3 1236.7,409.4 1238,415.4 1239.4,410.8 1240,419.8 1241.1,419.8 1242.1,420.1 1243.2,418.1 1244.4,420.2 1245.5,419.9 1246.5,415.8 1247.4,413.2 1248.7,413.8 1249.5,418.2 1250,395.6 1250.6,416.7 1251.4,415.6 1252.4,410.6 1252.9,418.1 1254.1,414.1 1254.8,418 1255.9,416.4 1257,418 1258.3,414.4 1259,418.1 1260.2,420.2 1261.3,405.9 1261.9,418.9 1262.8,412.5 1263.4,416.6 1264.1,418.7 1265.5,412.8 1266.3,416.7 1267.5,412.9 1268.8,418.9 1269.8,407 1270.6,420.2 1271.7,418 1272.4,409.6 1273.3,420 1274.6,416.8 1275.9,420.1 1276.9,418.2 1278,416.8 1278.9,418.3 1280,415.3 1280.6,418.3 1281.4,419.4 1282.1,419.1 1282.5,419.5 1283,405.6 1283.6,420.5 1284.4,416.2 1285.8,416.4 1286.5,419.5 1287.3,416.5 1288.5,413.6 1289.2,419.9 1290.3,420.3 1291.6,414.1 1292.1,418.1 1293,410.6 1293.7,419.2 1294.5,420.4 1295.7,419.2 1296.5,419.9 1297.6,420.4 1298.9,419.5 1300,419.1 1300.9,417.3 1301.8,417.3 1302.5,419.2 1303.3,414.9 1304.2,419.3 1305.3,418.6 1306.3,419.4 1307.5,417.9 1308.8,418.5 1309.9,418.8 1311.1,417.3 1311.8,419.1 1312.6,416.7 1313.4,420.5 1314.3,417 1314.9,419.6 1315.4,418.5 1316.6,417.4 1317.2,419.7 1318,419.2 1319,417.6 1319.7,420.4" fill="none" stroke="#cc5e24" stroke-width="0.9" stroke-opacity="0.8" stroke-linejoin="round"/>
<line x1="1131.1" y1="423.2" x2="1323.2" y2="423.2" stroke="#000" stroke-width="2.2"/>
<line x1="1132.6" y1="289.5" x2="1132.6" y2="424.2" stroke="#000" stroke-width="2.7"/>
<line x1="1244.9" y1="289.5" x2="1244.9" y2="424.2" stroke="#000" stroke-width="2.7"/>
<line x1="1321.7" y1="289.5" x2="1321.7" y2="424.2" stroke="#000" stroke-width="2.7"/>
<polyline points="441.7,584.3 442.7,580.5 443.4,585.6 444.3,585.9 445.3,581.9 446.2,584.5 447,580.7 447.8,585 448.4,585.7 449.3,582 450.6,581.3 452,577.3 452.5,587.5 453.4,584.3 453.9,586.3 455.1,581.6 455.8,585.5 456.4,587.8 457.2,583.5 457.8,586.5 458.5,583.2 459.2,586.4 459.8,584.8 460.6,582.5 461.9,578.7 462.5,585.9 463.5,576.9 464.2,587.1 464.8,587.6 466.1,582.1 466.9,579.8 467.5,585 468.8,579.1 469.5,584.5 470.7,585.6 471.5,581.1 472.3,577.9 473.1,585.6 473.8,584 474.7,585.9 476.1,582.1 477,584 478.1,585.7 478.8,581.7 479.5,586.5 480.3,582.8 480.5,585.1 481,555.8 481.6,585.6 482.4,582.3 483.6,586.9 484.8,578 485.7,584.3 486.4,583.3 487.6,580.8 488.6,561.7 489.2,587.6 490.1,581.5 491.4,586.8 492.5,577.5 493,585.7 494.1,581.9 495.3,581.3 496.5,567 497.3,584.3 497.5,584.4 498,549 498.6,587.5 499.4,582.2 500.7,585.7 501.8,584 502.5,558.9 503.1,583.8 503.6,583.5 504.7,579.3 505.5,583.2 506.8,586.3 507.6,570.7 508.4,581.9 509.2,565.5 509.8,582 511.1,558.9 511.7,587.4 512.6,577.2 513.8,583 515.1,557.2 515.9,584.5 517.2,577.9 518.3,569.9 519.1,578.2 520.3,575.9 521.2,581.5 522.3,577.4 523.3,508.4 523.9,584.5 525,547 525.9,586.7 526.4,581 527.6,508.4 528.3,580 528.8,577.7 529.5,580.3 530,465.6 530.6,586.3 531.4,480.5 531.9,580.6 532.5,505 533,587.7 534,570.3 535,541.7 535.8,579.1 537.1,566 537.8,580.4 538.4,569.1 539.4,562.7 540.1,573 541.4,535.9 542.1,584.9 542.8,542 543.7,583 544.4,571.7 545.3,544.8 546,574.1 547,579 548.2,560.7 548.9,576.8 549.6,566.7 550.3,576.7 551.4,569.1 552.1,581.6 552.7,575.2 553.5,584.7 554.2,586.6 555.1,570.5 556,572.9 556.6,587.3 557.2,569.3 557.8,585.5 558.9,574.2 559.4,582.3 560.2,584.1 561.5,579.6 562,587.6 562.8,578.4 563.7,587.5 564.9,583.1 565.4,585.5 566.5,587.6 567.7,581.9 568.6,587.8 569.7,584.7 570.8,584.9 572.2,581.1 572.8,585.5 573.7,586.1 574.5,582.7 575.4,585.8 576,586.4 576.9,584.3 577.6,587 577.5,587 578,573.2 578.6,587.8 579.4,579.5 580.2,586.8 581.2,585.5 582.2,584.6 583.3,587.5 584.1,583.6 585.4,584.2 586.5,587.5 587.6,584.9 588.8,583.5 589.4,587 590.5,587 591.7,583.1 592.6,587.4 593.8,584.8 594.6,587.5 595.4,581 595.9,586.6 596.6,584.4 597.2,587.6 598.1,584.3 599,585.8 600.2,583.5 600.9,587 601.6,584.9 602.1,587.6 602.6,584.2 603.3,586.4 604.2,585 605.1,583.9 605.6,587.6 606.4,585.2 607.6,586.8 608.9,585.6 609.6,587.1 610.4,586 611.4,586.4 612.3,584.2 612.9,586.6 613.4,584.8 614.1,587.5 615.3,584.1 616.2,586.3 616.9,583.1 617.5,587.5 618,584.9 618.6,587.4 619.7,587.6 621.1,586.9 622.1,585.7 623.1,583.9 623.6,586.5 624.7,586.1 625.6,587.6 626.1,587.1 627.4,587.4 628.7,585" fill="none" stroke="#9a9a9a" stroke-width="1.1" stroke-opacity="0.272" stroke-linejoin="round"/>
<polyline points="441.7,587.4 442.5,584 443.8,581.5 444.4,586.4 445.4,581 446,585 446.9,583.4 447.7,582.1 448.5,585.2 449.7,582.2 450.5,582.3 451.3,586.8 452.2,582 453,586 454,582.4 454.9,585.5 455.7,575.5 456.3,584.9 457.2,585 458.1,579.2 458.8,584.6 459.9,587.3 460.6,584.3 461.7,584.2 462.5,586.7 463.3,582.6 464.2,572.4 464.9,584.6 465.8,574.1 466.4,585.6 467.6,586.6 468.9,569.9 469.7,585.6 470.6,568.8 471.2,587.4 471.8,582.6 472.5,573.3 473.4,586 473.9,584.6 475,580.5 475.6,586.7 476.5,579.3 477,586 477.8,581.9 478.8,581.4 479.9,570.9 480.7,584.7 481.3,580.8 482.4,586.1 483.4,584 484.5,582 485.8,581.5 486.6,586.1 487.8,580.6 489.2,584.8 490,578.1 490.7,586 491.3,580 492.6,572.2 493.3,584.3 494,578.6 494.6,585.6 495.6,585 496.9,587.5 497.9,578.4 498.7,584.4 499.2,580 500.5,559.2 501.2,585.5 502.3,577.6 503.2,584.6 504.2,581.8 505,584.3 506.2,580.6 507.6,580.7 508.7,576.9 509.6,572.9 510.1,584.4 511.2,572.4 511.9,579.7 512.9,545.2 513.5,584.7 514.7,563.4 515.2,583.4 516.1,538.6 516.7,581.7 517.6,529.1 518.3,581.1 519.5,550.1 520.4,578 521,573.4 521.9,570.2 522.8,579.9 523.9,567.4 524.7,562.2 525.5,587.8 526.4,572.4 527.3,567.9 528.2,569.8 529.3,587 530.2,557.6 530.9,584.4 531.5,514.8 532.4,579.5 533,553.6 533.8,583.3 534.4,579.5 535.3,572.4 535.8,575.5 536.8,587 537.9,568.2 538.5,584 539.6,586.8 541,578.9 542.4,577.9 543.4,585.9 544.5,570.3 545.7,563.1 546.4,576.8 547.5,563.1 548.6,557.9 549.4,578.6 550.6,575 551.7,578.6 552.6,561.1 553.4,580.3 554,577.3 554.8,586.9 555.4,581.1 556.4,575.1 557.6,579.2 558.4,575.3 558.9,581.6 560,581.3 560.7,584.5 561.9,582.1 562.9,587.5 564.1,586 565.2,583.8 566.3,582 567.2,585.6 568.4,583.1 569.3,583.4 570.5,581.9 571.3,586.6 572.2,583.2 573.1,585.7 574,584.8 574.9,583.3 576.1,582.9 577.3,583.9 578,585.6 579.2,585.6 580,583.8 580.6,586.8 581.9,587.3 582.9,586.9 583.8,584.6 585,584.4 585.6,586.9 586.7,581.3 587.5,587.6 588.1,581.7 588.9,587.3 590,586.2 590.7,587.1 591.6,585.5 592.9,579.2 593.5,586.1 594.6,582.9 595.2,587 596.3,581.6 596.9,586.2 598,584.9 599,585.2 599.8,586.2 600.6,586.2 601.8,586.8 603,581.9 603.8,587.3 604.6,585 605.2,586.4 606.2,585.1 606.8,587.3 607.9,585.5 608.8,587.3 609.6,586.5 610.7,584.7 611.5,586.8 612.1,585.9 612.9,585.1 613.6,585.2 614.9,585.9 616.1,584.5 616.8,587.8 617.8,586.7 619,586.1 620.3,584 620.9,587 621.7,587.6 622.6,586.8 623.7,587.4 625,587.7 626,585.8 627.1,585.6 627.8,585.6 628.5,587.6" fill="none" stroke="#9a9a9a" stroke-width="1.0" stroke-opacity="0.22399999999999998" stroke-linejoin="round"/>
<polyline points="441.7,583.9 442.7,581.4 443.4,587.4 444.6,585.9 445.7,583.5 446.7,578 447.6,587.4 448.2,583.7 449.3,580.1 450,586.4 450.7,581.3 451.7,587 453,586.8 454.1,584.6 455.2,585.9 456.5,586.6 457.4,580.5 458.1,587.3 458.9,586.8 459.9,581.7 460.7,585.5 461.9,580.9 462.6,587.8 463.8,582 464.9,586.7 466.1,580.8 466.9,582.7 468.1,572.2 468.8,586.6 469.7,582.4 470.7,587.3 471.9,581.2 472.6,586.7 473.8,582.4 474.6,585.9 475.5,577.1 476.2,584.8 477.2,581.5 478.3,580.6 479.6,579.9 480.3,586.9 481.1,581.7 481.8,581.9 482.9,582.7 484,587.4 484.8,562.6 485.4,584.4 486.3,580.7 487.1,580.9 488,575 488.7,584.5 489.9,575.8 490.6,585 491.3,586.8 492.5,585.5 493.6,587.5 494.5,577.6 495.1,585.4 496.3,586.5 497.5,580.3 498.6,558.9 499.1,586.6 500.1,585.8 500.9,574.6 501.4,583.7 502.6,582.4 503.5,582 504.3,585.7 505.2,586.8 506.1,580.9 507.3,575 508,582.3 509,585.4 509.7,575 510.8,581 512,574.6 512.6,584.5 513.3,564 514,586.5 514.9,580.4 516.1,565.7 516.9,586.7 517.5,581.8 518.5,553.1 519,581.6 520.1,577.1 521.3,566.9 522.4,571.8 523.5,564.7 524.9,566.4 525.7,578.9 526.5,582.7 527.4,534.4 528,577.9 528.8,582.1 530,574.3 530.9,476.5 531.5,579.8 532.7,485.1 533.2,574.7 533.8,573.4 534.6,569.9 535.4,574.5 536.5,577 537.7,561.8 538.5,581.4 539.5,510.4 540,575 541.2,569.6 542,587 542.5,570.8 543.3,561.9 544.5,586.6 545.5,578.7 546.5,579.2 547.2,577.2 548.6,582.2 549.9,565 550.8,571.8 551.6,576.1 552.4,571.9 553.3,581.6 554.5,580.6 555.3,583.1 556.6,575.6 557.8,578.4 558.4,581.1 559,582.9 560.1,584.1 560.9,578.2 561.6,583.6 562.5,585.3 563.3,582.6 564,584.4 564.6,586.2 565.5,583.9 566.4,585.6 567.2,584.3 568,585 568.9,587.5 570.1,585.2 571.2,585.5 572.3,583.9 573.5,581.7 574.2,585.6 574.7,585.3 575.8,587 576.9,574.4 577.6,585.7 578.2,578.5 579,585.6 579.7,583.7 581,580.3 581.5,586.8 582.8,584 583.9,576.2 584.7,586.1 585.7,584.7 586.6,582.8 587.3,586.5 588,586.2 589.3,582 589.9,587.2 591.1,584.6 591.9,583.9 592.7,586.7 593.4,580.2 594.1,586.5 594.6,585 595.4,586.1 596.2,584.4 596.9,587.4 598,587.7 599,586.4 599.8,585.5 600.8,585.3 601.9,586.4 603.2,584.4 604.1,586.8 605,586.5 605.9,587.3 607.1,582.8 607.8,587.6 608.9,587.3 610.2,586.4 611.3,584.1 612.2,587.8 612.9,587.3 614.3,587.6 615,587.4 616.2,585.8 617.1,587.8 618.4,587.2 619.8,585.3 620.8,586.3 621.7,587.4 623.1,587.7 624.4,584.2 625,586.8 626,584.4 626.6,587.1 627.4,586.6 628.5,587.7" fill="none" stroke="#3a3a3a" stroke-width="0.9" stroke-opacity="0.24" stroke-linejoin="round"/>
<polyline points="441.7,584.6 442.6,586.7 443.9,584.5 444.8,579.1 445.6,586.1 446.7,582.8 447.5,582.6 448.5,581.4 449.3,587.1 450.5,582.8 451.4,578.3 451.9,586.3 452.5,586.2 453.9,582.9 455.1,584.1 455.9,583.7 456.8,581.2 457.6,583 458.3,581.4 459.1,581 460.4,582.1 461.5,586.5 462.5,584.1 463.2,585.2 464.2,583.8 464.8,586.7 466,586.3 467,571 467.7,586.7 468.4,583.4 469.2,585.8 469.8,585.6 471.2,581.6 472.4,587.5 473.8,578.7 474.4,585.3 475.1,581.1 475.8,584.6 477.1,584.9 478.1,559.8 478.9,585.9 479.9,587.5 480.6,571.3 481.4,586.5 482.6,577.1 483.2,586.7 483.9,583.6 485.1,577 485.8,586.1 486.6,580.5 487.3,586.6 487.9,580.7 488.7,586.1 489.6,567.5 490.5,585.8 491.4,581.3 492.7,580.2 493.5,587.5 494.5,582.8 495.9,585.9 496.8,580.2 498.1,582.7 499.1,581.8 499.7,585.3 500.4,581.2 501.3,580 502.2,581.3 503.3,580 504.2,582 505.2,580.5 506.2,584.7 507.3,561.2 508,582.4 508.7,586 509.5,576.1 510,587.2 510.9,578.1 512,577.3 513.4,573.2 514.8,561.8 515.5,579.7 516.3,583.4 517.5,571.4 518.7,576.8 519.9,579.4 521,524.1 521.5,580.5 522.8,580.6 523.5,587.7 524.5,571.5 525.2,570 526.6,547.1 527.3,580.8 528.2,562.9 529.5,563.4 530.9,556.2 531.7,587.3 532.2,521.5 532.8,582.2 534,561.2 535.3,582.5 536.5,572.7 537.8,562.9 538.5,584.7 539.4,572.8 540.6,565.7 541.6,573.2 542.4,578.9 543.2,587 544.3,551.2 544.8,587.1 545.5,581.4 546.5,566.1 547.2,580.1 548.4,548 549,584.6 549.7,571.4 550.9,569.9 551.9,573.2 553.1,563.1 553.9,581.3 554.8,586.7 555.6,572.3 556.4,579.8 557.6,577.3 558.2,585.6 559.4,574.3 560.1,585.3 561.3,582.5 562.5,579 563.3,584.8 564.3,585.1 565.5,583.2 566.3,585.1 567.4,585.6 568.1,581.9 568.7,587.2 569.5,583.1 570,586.6 570.9,587.6 571.7,586.4 572.9,586.4 573.8,586.6 574.9,585 576,586.3 577,584.6 578.2,586.8 579.1,585.8 580,586.1 581.2,580.8 582,586 583,586.6 584.1,585.3 585.4,583 586,586.3 586.6,586.3 587.5,585.9 588.2,587 588.9,585 589.9,576.8 590.5,586.3 591.1,587.6 592.4,584.5 593.8,587.4 595.1,583.9 595.7,587.7 596.8,585.4 597.9,586.5 599.2,586.7 600.1,583.5 601,587.2 602.3,586.3 603.5,586.5 604.3,584.4 605.6,582.7 606.1,586.1 606.9,583 607.7,586.4 608.8,586.2 610.1,586.4 611.4,586.1 612.6,586.6 613.5,586.9 614.4,586 615.7,585 617,585.2 618.3,585.4 619.3,586.8 620.6,586 621.4,586.8 622.3,586.4 623.5,585.9 624.4,584.3 624.9,587.6 626.2,586 627.2,585.9 628.2,585.5" fill="none" stroke="#3a3a3a" stroke-width="0.9" stroke-opacity="0.22399999999999998" stroke-linejoin="round"/>
<polyline points="441.7,586.6 443.1,587.4 444,583.8 444.5,586.4 445.7,587.7 446.5,583 447.1,584.9 447.6,582.1 448.6,586.4 449.4,581.6 450.2,581.8 451.5,586.7 452.3,584.1 453.7,581.3 454.5,583 455.5,585.9 456.8,582.7 457.8,584.4 459,586.4 459.7,581.1 461,579.2 461.6,585.2 462.2,580.1 462.9,586.6 463.5,585.2 464.9,585.4 465.9,586.7 466.9,583.6 467.7,586.3 468.7,586.4 469.6,583.8 470.6,585 471.5,585.1 472.7,582.6 473.7,573.7 474.3,585.4 475.3,585.9 476.1,563.3 476.7,586.4 477.9,582.7 478.9,576 479.8,587.3 480.5,587.4 481,555.8 481.6,587 482.4,587.7 483.5,582.4 484.4,581.3 485.2,585.8 486.4,581.2 486.9,586.2 487.9,580.7 488.7,584.2 489.7,587.2 490.7,581.5 491.9,586.5 492.8,584.4 493.9,584.4 495.1,581.4 495.8,573.8 496.4,587.6 497.5,585 498,549 498.6,586.5 499.4,586.8 500.2,583 501.2,583.9 502.3,577.1 503.2,586.8 504.1,565.1 504.8,586.4 505.7,559.6 506.4,585.2 507.7,583.8 508.8,574.6 510,587.8 510.8,571.4 511.4,586.3 512.3,570.7 513.7,578.6 514.9,565.9 515.8,584.5 516.9,578.8 517.8,542.3 518.4,579.8 519,540.8 519.8,580.9 520.5,570.4 521.8,561.2 522.6,587.1 523.6,541.5 524.1,581.2 525.1,537 525.7,583.2 526.9,581.3 528,582.5 529.4,584.9 529.5,585.5 530,465.6 530.6,578 531.4,530.7 532.1,586.1 533.3,524.6 533.9,575.3 534.5,569.9 535.7,569.4 537,576.1 538,563.3 538.7,571.1 539.5,518.3 540.2,577 541.4,533.5 542.2,578.4 542.9,576.3 543.7,582.9 545,560.1 545.9,572 547.2,568.3 548.2,567.6 549.1,584.7 549.6,567.2 550.5,583.7 551.3,583.9 552.2,569.1 553,571 553.9,583.3 554.5,567.3 555.1,585.6 555.8,571.9 556.9,586.7 558.3,576.3 559,584.5 560,585.7 561.3,578.7 562.4,581 563.3,587.6 564.5,587 565.2,587.4 565.9,581.5 566.5,586.8 567.5,585.8 568.3,584.7 569.1,584.6 569.7,586.1 570.5,585.4 571.3,583.2 572.4,584.4 573.6,582.8 574.7,582.1 575.3,587.2 576.2,585.2 577.1,579 577.8,586.3 577.5,587.4 578,573.2 578.6,586.6 579.4,584.4 580.4,582.1 581.1,585.9 582.4,583.8 583.2,584.7 584.3,575.6 585.1,587.6 585.8,577.5 586.5,586.1 587.3,583.5 588.7,586.3 589.7,587 590.5,583.5 591.3,586.1 592.2,584.7 593,586.7 594.3,587.1 595.2,585.1 596.4,585.7 597.4,584.6 598.4,585.6 599.6,580.8 600.4,586.1 601.5,584.6 602.8,583.9 603.6,587.6 604.3,584.9 605.3,585.1 606.5,584.2 607.4,586.5 608.4,583.8 608.9,587.2 609.5,585.1 610.3,584.7 610.8,586.7 611.9,585.1 613.2,586.4 614.5,586.5 615.9,587.7 616.7,587.5 617.6,585.4 618.8,585.3 619.9,583.5 620.6,587.3 621.3,585.3 621.9,587.6 622.5,586.9 623.4,587.6 624.1,585.6 625,584.5 625.5,586.7 626.1,583.9 626.7,587.2 627.8,586.8 628.6,586.5" fill="none" stroke="#000000" stroke-width="0.9" stroke-opacity="0.256" stroke-linejoin="round"/>
<line x1="438.7" y1="590.4" x2="631.5" y2="590.4" stroke="#555" stroke-width="1.2"/>
<line x1="440.2" y1="460" x2="440.2" y2="591.4" stroke="#000" stroke-width="2.7"/>
<line x1="563.9" y1="460" x2="563.9" y2="591.4" stroke="#000" stroke-width="2.7"/>
<line x1="630" y1="460" x2="630" y2="591.4" stroke="#000" stroke-width="2.7"/>
<path d="M567,585.5 C568,585.4 571.4,585.7 573,585 C574.6,584.3 575.3,581.9 576.5,581.2 C577.7,580.5 578.8,580.4 580,581 C581.2,581.6 582.3,584.2 584,585 C585.7,585.8 588.5,586 590,585.5 C591.5,585 591.9,581.8 593,581.8 C594.1,581.8 595.3,584.8 596.5,585.5 C597.7,586.2 599.4,585.9 600,586" fill="none" stroke="#000" stroke-width="3.4" stroke-linejoin="round" stroke-linecap="round"/>
<path d="M451.5,585 C452.2,584.2 454.3,580.3 455.8,580.3 C457.3,580.3 458.9,585 460.5,585 C462.1,585 463.5,580.3 465.3,580.3 C467.1,580.3 468.6,585.4 471.5,585 C474.4,584.6 479.7,578.2 482.9,578 C486.1,577.8 488.1,584.3 490.6,584 C493.1,583.7 495.6,577 497.8,576.4 C500,575.8 501.6,580.1 503.6,580.1 C505.6,580.1 507.9,577.3 509.7,576.6 C511.4,575.9 512.4,578.7 514.1,575.8 C515.8,572.9 518.2,561.6 520.1,559.3 C522,557 523.5,563.9 525.4,561.9 C527.3,559.9 529.4,545.2 531.4,547.1 C533.4,549 535.5,570.7 537.5,573.2 C539.5,575.7 541.9,563.1 543.6,561.9 C545.3,560.7 545.4,562.6 547.9,566.2 C550.4,569.8 556.6,580.7 558.4,583.6" fill="none" stroke="#000000" stroke-width="3.8" stroke-linejoin="round" stroke-linecap="round"/>
<line x1="441.7" y1="585.6" x2="628.5" y2="585.6" stroke="#ff00ff" stroke-width="4.2"/>
<rect x="433" y="568.5" width="212" height="33.1" rx="7" fill="none" stroke="#22304f" stroke-width="1.6"/>
<polyline points="671.7,586.8 672.6,578.1 673.9,582.6 674.6,587.3 675.5,580.3 676.7,558.1 677.3,588 678.2,571.4 679,587.4 679.5,580.3 680.7,575.2 681.7,550.2 682.3,587.6 683.5,576.5 684.3,571.2 684.9,587 685.5,575.3 685.5,588.7 686,524.2 686.6,581.8 687.4,577.6 688.5,578.1 689.8,586.1 690.7,585.2 691.7,573.9 692.5,560.7 693.2,585 693.9,588.2 694.6,583.4 695.4,554.2 696.1,584.2 696.8,579.2 697.8,570.9 698.5,587.1 699,525.2 699.6,579.8 700.4,574.7 701.5,553.3 702.2,588.4 703.2,555.4 704,584 705,550.8 705.7,576.5 706.2,570.3 707.2,558.4 708.2,547.9 708.8,583.8 709.8,569.3 710.8,539.4 711.5,574.3 712.3,575.4 713.1,544.7 713.7,588.1 714.5,542.4 715.4,584.1 714.5,585.3 715,473.8 715.6,575.6 716.4,561.5 717.3,585.1 718.7,570 719.7,557.8 720.6,575.2 721.7,558 722.6,556.8 723.8,505.1 724.5,578.6 725.4,547.9 726.1,584.5 725.5,578.1 726,492.2 726.6,586.8 727.4,545 728.3,586.6 729.2,581.4 730.3,534.9 730.9,574.5 732,573.9 732.8,547.1 733.8,554.4 734.5,581.6 735.2,550.1 736.1,562.8 736.8,572.1 736.5,588.6 737,481.5 737.6,582.3 738.4,535.1 739.2,576 740,578.5 740.9,499 741.4,565.8 742.5,503.8 743,588.8 744.2,582 744.9,564.9 746,577.7 747.1,508.8 748,570.8 749.2,555.7 750.1,564.4 751,582.9 751.8,541.3 752.4,569.9 753.2,582.2 753.5,576.1 754,462.1 754.6,566.1 755.4,514.4 756.2,567.4 757.4,560.8 758.2,570.2 759,578.2 760.3,495.9 761.1,578.8 761.5,586.3 762,457.3 762.6,577.4 763.4,558.2 764.4,490.6 765,566.3 765.8,550.3 767,554.1 768.3,556.9 769,576.8 770.1,581 770.5,586.9 771,474.7 771.6,587.9 772.4,584.1 773.5,557.2 774.3,560 775.6,544 776.9,510.8 777.6,574.4 778.6,549 779.8,523.7 780.5,572 781.6,560.6 782.6,566.8 783.3,563.4 784.1,566 784.8,574.4 785.6,581.3 786.8,586.8 787.7,574.5 788.5,583.7 789.8,575.4 790.3,588.9 791.1,580.9 792.4,577.5 792.9,584 793.8,579.9 794.4,584 795.4,570.3 796,584.4 796.7,580.2 797.7,588.9 798.6,577.6 799.5,576.2 800.7,579.4 801.4,585.8 802.4,578.8 803.7,582.8 804.8,575.8 806,574.3 807.3,579.7 808,582.7 808.5,586.1 809,553.3 809.6,583.2 810.4,558.4 811.1,588.3 812,570.5 812.6,588.6 813.7,574.4 814.5,586.4 815.4,587.1 816.3,583.4 817.6,585.8 818.4,579.7 819.3,587.9 820,587.7 821.2,588.1 821.9,575.8 823.2,580.8 824.6,574.5 825.5,576.7 826.6,571.8 827.3,588.2 828.3,581 829.2,583.7 829.7,577.8 830.3,585.7 831.2,581.3 832,586.4 832.8,583.4 833.7,585.4 834.4,584.3 835.4,574.7 836.3,586.6 837.3,563.6 838,586 839.3,586.8 840.4,576.6 841.1,582.3 842.1,583.9 842.5,588.8 843,559.1 843.6,586.9 844.4,576.4 845.8,576.2 846.6,584.7 847.4,579.6 848.2,579.6 849.3,587.3 850,579.8 851.2,585.8 852.3,583.1 853.1,576.1 853.9,583 854.9,581.6 855.7,585.2 856.9,582.1 857.5,588.8 858.8,573 859.3,582.8" fill="none" stroke="#9dbcee" stroke-width="1.1" stroke-opacity="0.6375" stroke-linejoin="round"/>
<polyline points="671.7,589.2 672.6,583.4 673.6,582 674.2,582.9 675.4,582.6 676.4,581.8 677.3,558.7 678,585.1 679,587.4 680.4,586.7 681.3,575.4 682.2,573.4 683.1,582.6 684,572.1 684.8,586.8 685.5,573.4 686.1,585.1 687.2,571.6 687.9,582.2 689.2,583.1 690.6,574 691.3,574.6 692.3,572.8 693.5,585.8 694.5,573.3 695.3,588.7 696,585.2 696.8,587.7 698,575.9 698.7,580 699.8,578.1 700.5,585.2 701.1,569.6 701.8,579.2 703,563.1 703.9,566.8 705.3,574.1 706.7,588.6 707.9,582.9 709,539 709.5,587 710.3,570.5 711,551.3 712.3,567.7 713.1,588.1 713.7,560.6 714.6,583.8 715.5,587.6 716.4,582.9 717.8,584 718.5,562.3 719.8,550.4 720.7,581.3 721.6,546.2 722.3,582.1 723.5,566.4 724.8,558.5 725.5,572.2 726.7,582.5 727.4,552.2 728.2,526.5 729,586.1 729.6,554 730.8,578.7 732.1,543.3 733,567.6 734.3,549.8 734.9,566.9 736,544.1 736.8,585.3 737.7,544.7 738.9,557.2 740.2,565.5 740.9,574.1 742.1,546.1 743,555.5 743.9,529.4 744.6,580.4 745.1,584.2 745.9,584.8 747.2,587.2 748.2,480.5 748.8,573.3 750,564.7 751.1,573.1 752.1,572.2 753.5,544.7 754.1,567.3 755.4,588.5 756.2,554.6 757.3,563.6 758.5,569.9 759.6,574.9 760.4,549.8 761.4,585.6 762.4,578.6 763.2,540 764.3,562.3 765.1,571.6 765.8,559.1 767.1,556.9 767.7,568.7 768.5,540.9 769.3,548.5 770.4,569.6 771.7,575.5 772.5,539 773.3,587.5 774.3,552.7 775.1,537.1 776.2,554.4 777.5,583.4 778.8,567.2 779.8,556.2 781.1,581.6 782.2,556 783.1,581.2 784.3,578.1 785.1,570 785.9,573.2 787.2,575 787.8,584.7 789.1,571.2 789.6,588 790.5,574.3 791.5,589.1 792.5,574.6 793.2,583.7 794.3,579.7 794.8,588.9 796,584.1 797.2,582.3 798,584.2 799.3,563.3 800,587.8 801.2,574.5 802.3,580.9 802.9,585.2 804,575.8 804.9,588.4 806.1,577.7 807.1,573.7 807.9,585.3 808.6,581.8 809.7,563.9 810.5,587.1 811.6,578.6 812.2,588.9 812.9,562.6 813.8,587.5 814.7,587.2 816.1,579.6 816.6,586.5 817.7,578.6 818.7,589.1 819.4,569 820.1,585.6 820.6,576.3 822,580.1 823.4,568.6 824.2,585.4 825.2,584.1 826.5,586.6 827.8,583.6 828.6,578.7 829.5,573.5 830.2,585.5 831.4,582.1 832.6,582.5 833.7,575.9 834.4,586.4 835,575.9 835.7,580.6 836.7,573 837.6,588.9 838.2,587.9 839.3,580.3 840.1,588.6 841,573.7 841.8,583.9 842.6,572 843.2,585.3 844.4,577.1 845.1,586.4 846.4,576.3 847.3,579.8 848.1,588.9 848.8,575.1 849.5,584.7 850.4,585 851.2,573 851.8,586.5 852.4,567.5 853.1,586.7 853.9,581.8 854.7,566.2 855.3,587.3 855.8,582.8 856.6,585.2 857.8,581.4 859,580.3" fill="none" stroke="#9dbcee" stroke-width="1.0" stroke-opacity="0.5249999999999999" stroke-linejoin="round"/>
<polyline points="671.7,581.1 672.5,584.7 673.2,576.7 673.9,585.2 675,573.9 675.8,583.1 676.8,584 677.6,580.5 679,582 679.8,579.5 680.7,562.3 681.5,586 682.5,576.7 683.3,588.5 684.1,535.2 684.7,582 685.7,586.3 686.8,583.6 688.1,577.1 689,585.7 689.9,572.9 691.3,577.5 692.5,575 693.2,580.2 694.2,585.2 695.5,580.9 696.7,577.1 697.8,577.3 698.7,584.4 699.2,570.3 700.1,564.3 700.8,582 701.4,556.3 702,589 702.5,576.7 703.6,565.6 705,548 705.7,577.9 706.5,561.8 707.5,554.7 708.6,583.8 709.9,560.8 711.2,562.5 711.9,575.6 712.9,579.7 714,551.1 715.3,549.2 716,551.7 717.1,538.2 717.9,582.6 718.9,547.6 720.1,553.2 720.8,579.3 721.7,564.4 723,544.1 723.7,579.7 724.6,586.8 725.9,523.1 726.7,580.6 727.5,579.4 728.5,563.7 729.4,543.6 730.7,555.6 731.8,568.3 732.8,517.1 733.4,574.1 734.7,584.4 736,581.1 737.4,545.4 738.6,545 739.6,547.3 740.5,547.5 741.8,553.3 742.9,586.7 743.9,538 744.4,583.4 745,551.7 746.1,528.9 746.8,587.2 747.8,524 748.6,573 749.2,518.2 749.7,586 750.9,470.6 751.6,581.9 752.6,553.9 754,570.1 754.8,546.4 756,552.3 756.9,565.1 757.8,572.8 758.5,499.8 759.2,579.5 759.9,535.5 760.8,567.7 761.5,501.8 762,585.3 762.7,527.1 763.5,584.2 764.6,545.1 765.4,557.6 766.5,532.5 767.3,587.6 768.5,576.7 769.7,502.9 770.4,563.5 771.7,560.9 772.4,541.8 773.1,566.7 773.7,567.7 774.5,550.4 775.6,544 776.3,576.4 777,548 778.3,550.7 779.6,568.9 780.6,548.4 781.2,578 782.4,572.9 783.4,589.1 784.4,569.4 785.5,589 786.5,574.3 787.2,583 788.4,571.6 789.1,582.6 789.8,569.9 790.6,585.1 791.8,583.1 793,584.5 794.3,581 795.5,587.4 796.8,589.2 797.8,582 799,574.1 799.9,583.1 800.7,581.4 801.4,573 802,586.9 802.5,581.6 803.7,586.2 804.8,575.4 806,571.6 806.6,584.4 807.9,577.6 808.9,584.9 809.7,577 811,577.3 811.8,571.9 812.6,584.7 813.8,583.6 814.5,582.7 815.2,574.1 816.1,589 816.7,570.8 817.6,584.6 818.2,582.9 819.2,576.2 820,586.4 821.1,578.5 821.8,585.1 823,583.7 823.8,581.3 824.6,584.7 825.4,585.1 826.1,578.9 827.2,574.9 828,589 829.2,574.9 830,575 831.1,586.7 832.2,573.7 833,583.5 834.2,583.7 835.1,564.2 835.9,583 836.6,577.8 837.7,578.6 838.6,583.6 839.5,575.4 840.9,585.7 842.2,566.6 842.8,585.9 843.9,582.9 844.9,574.4 845.8,584.3 846.9,581.8 848,578.9 848.9,571.9 849.5,587.5 850.7,569.1 851.2,587 851.9,575.4 852.7,586.4 853.5,572 854.1,583.9 855.1,566.2 856,584 857,584.8 857.8,586.7 859,572.3" fill="none" stroke="#4a82e0" stroke-width="0.9" stroke-opacity="0.5625" stroke-linejoin="round"/>
<polyline points="671.7,580.4 673.1,581.9 674,577.6 674.9,585.6 675.9,578.5 676.8,582.4 677.5,587 678.5,552.6 679.4,588.9 680,552 680.8,586.5 681.5,571.1 682.1,583.3 682.9,576 683.9,582.6 685.1,585.6 685.9,588.6 686.9,579.1 687.5,580.8 688.4,561.9 689.3,585.3 690.2,574.1 690.9,576.3 692,581.3 692.9,567.4 693.5,579.7 694.2,565.2 694.9,582.2 695.6,569.9 696.7,585.4 697.8,567.9 698.6,585.1 699.5,561.6 700.1,587.3 700.7,575.4 701.6,570.9 702.2,579.8 703,558.2 703.8,589.1 704.5,571.5 705.9,565.6 707,559.9 708.1,561.5 709,570.9 710.4,539.5 711.1,570.6 711.8,577 712.8,545.5 713.3,584.9 714.2,569.8 715.5,519 716.2,568.3 717.5,548.3 718.2,576.6 719.3,583.5 720,535.6 720.6,575 721.4,570.3 722.6,524.4 723.1,579.3 723.8,553.6 724.5,587.5 725.7,535.2 726.3,584.8 726.9,575.3 727.7,558.4 728.9,501.7 729.7,580.6 730.9,564.7 731.6,586.2 732.3,575.2 733.2,550.8 734,548.8 734.8,576.8 736,551.7 736.9,577.4 737.6,511.3 738.1,568.3 739.4,574.1 740.7,585.1 741.8,584.3 742.9,543.1 744.2,541.7 744.9,586.7 745.8,528.1 746.3,585.2 746.9,520.7 747.4,586.2 748,560.7 748.7,565.3 749.4,544.5 750.5,553 751.1,572 752.2,544.3 753.5,531.2 754.2,581.3 755.4,525.1 756.1,581.6 757.4,580.1 758.7,538 759.2,581.2 760.1,551.5 761.4,584.9 762.7,577.6 763.5,549.2 764.7,555.3 765.6,581.7 766.6,536.8 767.4,570.5 768.5,542.4 769.8,492.6 770.6,585.9 771.4,541.9 772.4,528.2 773.3,573.4 773.8,537 774.5,580.9 775.5,554.7 776.4,559.5 777.3,548.6 778.2,585.5 778.8,573.8 780.1,577.8 781,560.6 782.2,577.3 783.6,568.8 784.3,578.5 785,585.6 786.3,572.5 787.2,581.6 788.3,572.5 789,582.1 789.8,588.4 790.8,575.1 791.4,585.8 792,570.8 792.8,587.7 793.8,569.9 794.3,586.7 795.4,571.9 795.9,583.9 796.7,572.6 797.3,587 798.1,578.7 799,587.3 799.5,572.3 800.2,584.9 801.1,565.6 801.7,585.6 802.6,574.3 803.8,585 805.1,565.9 805.7,585.1 806.5,572.5 807.1,585.1 808.4,574.8 809.6,578 810.8,576.1 811.3,586.1 812,575.4 813.2,585.6 814.2,576.8 815,573.4 815.5,581.7 816.2,576.2 817.2,585.1 818.5,586.5 819.3,576.6 820.2,574.8 821.1,583.3 821.7,586.8 823,573.5 823.5,589 824.2,583.7 825.4,582.1 826.3,581.6 827.4,584 828.5,574.6 829.8,577.1 831.1,575.5 832.3,576.9 833.7,580.8 835,581.7 836.1,579.9 837.5,587.3 838.5,585 839.7,577.4 840.7,576.3 841.5,569.4 842.1,586.8 843.1,580.8 844.3,577.6 845.5,579.3 846.4,583.9 847.2,583.5 848.4,576.4 849.4,584.3 850.5,579.2 851.4,585.8 852.6,576 853.1,587.4 853.8,579.8 854.4,582.4 855.5,585.6 856.7,582.9 857.8,576.2 859,587.5" fill="none" stroke="#4a82e0" stroke-width="0.9" stroke-opacity="0.5249999999999999" stroke-linejoin="round"/>
<polyline points="671.7,580.6 672.7,581 673.6,578.8 674.9,587.9 675.9,572.3 676.5,586.8 677.7,579.9 679,581.6 679.5,588.7 680.4,583.4 681.7,577.6 682.4,574.2 683.7,588.7 684.9,582 685.5,583.4 686,524.2 686.6,588.3 687.4,584.5 688.6,552.1 689.4,581.3 690.4,587.7 691.7,573.2 692.5,585.1 693.9,579.8 694.9,557.3 695.4,581.5 696.2,555.5 696.9,585.1 697.9,584.5 698.5,582.7 699,525.2 699.6,581.2 700.4,582.7 701.5,534 702.4,578.6 703.1,580.1 704.2,566.6 705.4,545.5 706.1,583.1 706.6,564.9 707.2,575.9 708.1,565.6 709.5,551.4 710.2,575.1 710.9,565.1 712.2,569.3 713,527.1 713.9,583.7 714.5,569.5 715,473.8 715.6,568.7 716.4,516.6 717,585.4 717.9,575.4 719.2,556.3 719.9,582.3 720.5,497.6 721,568.1 722,507.2 722.6,578.3 723.6,557 724.5,533.3 725.1,585.1 725.5,577 726,492.2 726.6,582.9 727.4,565.1 728,582.2 728.9,552.2 729.9,581.9 730.8,569.3 731.7,554.4 732.6,570.5 733.7,541.5 734.4,584.9 735,579.3 735.9,555.1 736.5,573.6 737,481.5 737.6,573.6 738.4,563 739.4,576.2 740.8,563.2 742.2,564.3 743.2,532.3 744,584.1 745.1,547.7 745.9,555.3 746.9,570.7 748.2,529.1 748.9,584.6 750.2,549.7 751.2,563.2 752.3,580.1 753.2,577 753.5,570 754,462.1 754.6,582 755.4,484.2 755.9,570.9 756.7,528.8 757.4,564.5 758.2,570.1 758.9,579.6 760.2,531.3 761.1,584.5 761.5,572.7 762,457.3 762.6,573.2 763.4,560.9 764.4,537.8 765.2,586.5 765.8,552 766.5,578.2 767.3,570.8 768.1,569.9 769.3,589 770.5,565.4 771,474.7 771.6,563.6 772.4,541.3 773.8,562.1 774.5,570.5 775.8,568.5 776.5,584.7 777.8,549.7 778.5,547.4 779.6,578.4 780.5,554.5 781.2,588.4 781.9,565.5 782.5,585.7 783.7,571.9 784.8,570 785.6,575.4 786.4,580.2 787.3,570.1 788.1,588.2 788.6,584.6 789.5,584 790.7,587 791.6,586.9 792.5,579.5 793.5,577.4 794.1,584.3 795,573.8 795.8,579.9 797.2,576.4 797.8,585.4 798.8,577.6 799.5,562.1 800,583 800.6,581.8 802,571.8 802.7,586.7 803.2,588.6 804,586.3 804.9,577.6 805.8,588.6 806.7,569.2 807.3,588 808,578.2 808.5,586.9 809,553.3 809.6,589.1 810.4,578.8 811,586.9 811.9,580.7 812.4,588.6 813.2,578.1 814.1,571.6 814.8,586.1 816.1,584.3 817,578.1 817.7,588 818.5,585.1 819.8,571.5 820.5,587.6 821.1,577.2 821.9,582.4 822.6,570.8 823.3,582 824.1,575.2 824.8,581.3 825.8,571.9 826.3,583.7 827.2,583 828,583 829.3,588.2 830.2,578 831.6,573.8 832.4,586.9 833.6,579.7 834.6,584.9 835.6,588.2 836.7,573.4 837.6,588.7 838.1,579 839.3,582.5 840.5,588 841.6,585.1 842.5,586.5 843,559.1 843.6,584 844.4,582.4 845.2,585.1 846.1,562.9 846.8,583.2 847.6,582.5 848.7,587.8 850,586.6 851.4,571.8 852.1,584.5 852.7,580.6 853.8,580.2 854.8,588.6 855.6,578.5 856.4,588.8 857,571.5 857.6,588.6 858.2,581.7 859.4,586.4" fill="none" stroke="#2b62d0" stroke-width="0.9" stroke-opacity="0.6000000000000001" stroke-linejoin="round"/>
<line x1="668.7" y1="591.8" x2="862.5" y2="591.8" stroke="#000" stroke-width="2.0"/>
<line x1="670.2" y1="460" x2="670.2" y2="592.8" stroke="#000" stroke-width="2.7"/>
<line x1="790.3" y1="460" x2="790.3" y2="592.8" stroke="#000" stroke-width="2.7"/>
<line x1="861" y1="460" x2="861" y2="592.8" stroke="#000" stroke-width="2.7"/>
<path d="M672,584.4 C673.4,584.1 678.3,584 680.6,582.7 C682.9,581.4 683.6,577.9 685.9,576.6 C688.2,575.3 691.3,575 694.5,574.9 C697.7,574.8 702.2,577.2 705,575.8 C707.8,574.3 709.3,569.1 711,566.2 C712.7,563.3 713.8,559 715.4,558.4 C717,557.8 718.9,563 720.6,562.7 C722.3,562.4 724.1,556.9 725.8,556.6 C727.5,556.3 729.3,562.6 731,561 C732.7,559.4 734.5,547.1 736.2,547.1 C738,547.1 739.6,561.3 741.5,561 C743.4,560.7 745.3,550 747.5,545.4 C749.7,540.8 752.5,534.1 754.5,533.2 C756.5,532.3 758.1,539.1 759.7,540.1 C761.3,541.1 762.4,536.4 764,539.3 C765.6,542.2 767.7,554.8 769.3,557.5 C770.9,560.2 771.9,553.8 773.6,555.8 C775.3,557.8 777.4,565.1 779.7,569.7 C782,574.3 785.2,582.5 787.5,583.6 C789.8,584.8 791.7,577.2 793.6,576.6 C795.5,576 797.1,579.1 798.8,580.1 C800.5,581.1 802,582.9 804,582.7 C806,582.6 808.7,579.2 811,579.2 C813.3,579.2 815.7,582.6 818,582.7 C820.3,582.9 822.7,580 825,580.1 C827.3,580.2 829.7,583.6 832,583.6 C834.3,583.6 836.7,580.2 839,580.1 C841.3,580 843.7,582.7 846,582.7 C848.3,582.7 851,580.1 853,580.1 C855,580.1 857.2,582.3 858,582.7" fill="none" stroke="#1f3864" stroke-width="3.8" stroke-linejoin="round" stroke-linecap="round"/>
<line x1="671.7" y1="572.5" x2="859.5" y2="572.5" stroke="#ff00ff" stroke-width="2.8"/>
<rect x="655.9" y="568.5" width="220.7" height="33.1" rx="7" fill="none" stroke="#22304f" stroke-width="1.6"/>
<polyline points="903.5,576 904.9,582.1 905.5,580.1 906,559.9 906.6,580.1 907.4,572.3 908.2,580.6 909,580.5 909.9,572.9 911.1,576.2 912,571.8 912.8,584.1 913.6,581.1 914.3,575.4 915.5,574.5 916.3,572.9 917,572.7 917.8,575.1 918.6,582.1 919.4,571.6 919.5,579.7 920,565.8 920.6,578.9 921.4,579.5 922.6,568.7 923.4,583.9 924.5,569.6 925.1,577.9 926.2,577.8 927.5,573.5 928.9,576.2 929.9,570.2 930.7,571.3 931.4,583.3 932.1,575.7 932.9,582.7 933.7,578.5 934.5,569.9 935.3,579.7 935.9,568.1 936.4,577.6 937.1,571.4 937.9,566.2 938.5,579.2 939.5,580.2 940,548.1 940.6,583.8 941.4,553.6 942.2,579.2 943.5,576.6 944.2,579.7 945.1,574.3 946.3,575.2 947.4,558.4 947.9,583.6 948.6,584.3 949.9,570.4 950.6,584.1 951.3,565.7 952,584.1 952.8,583.7 953.6,564.2 954.4,580.2 955.2,563.1 955.8,578.8 956.7,572.3 957.6,551.2 958.3,578.8 959.5,539.8 960.1,577.1 960.8,556 961.5,581.7 962.5,572.6 963,527.6 963.6,572.7 964.4,558.3 965,583.6 966,582 966.9,582.3 967.9,535.8 968.6,583.1 969.8,544.3 970.6,574.9 971.4,568 972.7,583.1 973.6,534.1 974.4,574.9 975,549.6 975.9,570.5 977.1,559.4 977.5,580.8 978,513.8 978.6,573.4 979.4,559.6 980.5,540.8 981.2,580.9 982.2,569.4 983.1,582.4 984,548.9 984.7,582.1 985.6,559.3 986.3,577.6 987.3,565.4 988.4,543.8 989,572.8 989.9,563.2 991,575.5 991.7,512.1 992.3,573.4 992.5,576.3 993,491.3 993.6,579.4 994.4,555.9 995.6,572 996.7,554.2 997.2,575.3 998.2,569.7 999.2,564 1000.2,556.1 1001.2,554.2 1002.1,575.1 1002.5,569.2 1003,458 1003.6,580 1004.4,562.7 1005.4,563.9 1006.1,583.7 1006.7,561.3 1007.6,534.9 1008.2,570.6 1008.7,549.3 1009.5,569.9 1010.2,574.5 1010.5,581.8 1011,480.5 1011.6,572 1012.4,563.3 1013.6,553.8 1014.8,553.1 1015.3,583.7 1016.2,582.6 1017.3,584.2 1018.4,571 1019.1,578.1 1020.4,579.3 1021.1,582.7 1021.6,582.6 1022.7,576.4 1023.4,582 1023.9,579.3 1024.6,582.3 1025.9,575.2 1027.2,568.9 1027.9,582.3 1028.5,582.8 1029,559.9 1029.6,582.4 1030.4,562 1031.1,579.5 1031.6,580.8 1033,578 1033.8,565.4 1034.4,579.8 1035,582.9 1036,573.6 1036.6,583.1 1037.4,583.3 1038.2,577.9 1039.4,573.7 1040,581.9 1041.1,580.4 1042.2,573.5 1042.9,581.2 1044,574.7 1044.6,583.3 1045.9,578 1046.6,584 1047.8,575 1048.7,583.5 1049.9,573.6 1050.6,584.3 1051.8,583.6 1052.5,579.9 1053.1,583.1 1053.7,583.7 1055,575.3 1055.7,583.6 1056.2,581.3 1057.1,578.7 1057.9,582.8 1058.9,575.4 1059.6,582.5 1060.4,583.7 1061.4,577.4 1062.3,580.9 1063.1,583 1064,577.8 1064.8,576.3 1065.3,582.4 1065.9,578 1066.8,579.2 1067.6,581.2 1068.1,576.3 1068.9,582.5 1069.9,578.6 1070.9,581.8 1071.8,581.6 1073.1,579.3 1073.9,584.1 1074.5,581.6 1075,571.7 1075.6,584 1076.4,580.6 1077.4,584 1078.6,580.2 1079.5,583.5 1080.5,579.9 1081.3,581.3 1082.3,581.6 1083.1,579.4 1083.6,582.2 1084.6,580.1 1085.3,583.4 1086.1,582.4 1086.9,579.7 1087.5,584.4 1088.4,580.6 1089.6,580.5" fill="none" stroke="#9a9a9a" stroke-width="1.1" stroke-opacity="0.34" stroke-linejoin="round"/>
<polyline points="903.5,575.9 904.3,580.5 905.3,582.1 906.6,572.8 907.6,583.5 908.3,579.8 909.6,570 910.3,578.2 911.6,582.4 912.8,576.2 914.1,574.4 914.9,582.1 915.7,580.6 916.7,575.6 917.4,581.1 918.4,572.1 919.6,568.5 920.3,579.2 921.5,573.9 922.9,569.9 923.6,578.2 924.7,580.5 925.5,572.7 926.5,577.1 927.4,576.7 928.8,581.8 930.2,575.4 931.2,570.5 932,577.2 932.7,582.4 934,570.6 934.8,579.8 935.9,577 936.8,577.6 938,574.6 939.1,576.4 940.1,574.5 941.5,573 942.2,581.8 943.4,554.4 944.3,580.4 944.8,566.9 945.5,582.6 946.7,566.9 947.2,576 948,560.9 948.7,578.8 949.9,570.6 951.1,569.1 951.8,574 953.1,583.9 953.8,576 955,553.6 955.8,576.4 956.7,569.2 957.2,581.7 958.2,560.1 958.7,576 959.7,568.5 960.3,574.4 961.5,570 962.4,563.7 963,573.1 963.9,580.3 964.8,537.1 965.6,580.4 966.4,563.6 967.4,571.4 968.8,561.4 969.9,575.4 970.9,578.5 971.9,562 973.1,543.1 973.9,578.9 975.2,569.1 976.4,551.6 977,581.8 977.9,550.8 978.6,575.6 979.6,573.2 980.8,555.6 981.7,581.4 982.7,527.6 983.3,574.5 984.5,558.2 985.5,520.3 986.2,582.3 987.5,557.9 988,583.3 988.9,582.2 990,556.6 990.8,573.1 991.3,555.3 992,570 992.8,583.9 994.1,583.4 995,580.1 996,546.6 996.6,573.7 997.8,571.6 998.9,556.4 999.5,570.5 1000.3,559.2 1001.5,534.7 1002.2,572.7 1003,527.9 1003.6,579.2 1004.9,557.5 1005.8,573.4 1006.7,576.8 1007.9,567.4 1008.6,572.8 1009.5,578.8 1010.3,531.9 1010.9,577.4 1011.8,554 1012.7,559.3 1013.2,571.5 1013.8,558.8 1014.9,567.7 1015.9,559.1 1016.5,578.9 1017.6,572.5 1018.2,581.9 1019.5,577.6 1020.6,580 1021.4,583.3 1021.9,579.1 1022.7,581.2 1023.7,578.9 1024.7,572.7 1025.5,582.3 1026.1,571 1026.7,580.4 1027.8,579 1028.7,580 1029.7,569.8 1030.6,583.6 1031.1,576.1 1031.9,571 1032.6,582.9 1033.4,580 1034.6,583.7 1035.4,582.1 1036.5,578 1037.8,578.1 1039,577.9 1039.7,579.7 1040.5,575.6 1041.1,583.4 1041.9,575.1 1043.1,576.5 1044.2,573.7 1044.8,583.9 1045.4,578.9 1046.8,578.5 1048,579.6 1048.8,581.9 1050.1,576.2 1050.7,583 1051.8,581 1053.2,579 1054.4,575.2 1055.1,580.9 1056.2,579.4 1057,584.2 1058.1,581.1 1059.5,583.2 1060.8,583 1061.8,581.9 1063.1,578.8 1064.5,577.7 1065.2,584.4 1066,583.2 1067.3,579.6 1068,581.3 1069.2,584.3 1070.1,577 1070.7,583.6 1071.9,579.7 1073.3,577.2 1074,583 1074.7,572.4 1075.3,582.6 1076.3,581.3 1077.1,580.8 1077.7,582.5 1078.6,575.2 1079.5,583.1 1080.3,582.2 1081.7,583.5 1082.9,580 1083.9,581.5 1085,581.3 1085.8,580.9 1087.1,580.8 1087.9,579.9 1088.7,582.6 1089.4,582.1 1090.5,581.6" fill="none" stroke="#9a9a9a" stroke-width="1.0" stroke-opacity="0.27999999999999997" stroke-linejoin="round"/>
<polyline points="903.5,573.2 904.5,584 905.7,576.1 906.6,582.8 907.7,584.1 908.8,575.8 910.1,579.8 911.2,579.2 912.6,574.3 913.5,570.6 914.1,582 914.7,577.6 915.9,573.8 917.3,583.2 918.1,574.3 918.6,580 919.3,575.8 920.6,575.6 921.2,580 921.9,573.4 923.2,568.1 923.9,579.1 924.8,569.1 925.5,583.2 926,581.9 927,568.7 927.5,584.2 928,574.7 928.8,568.4 929.4,583.5 930.4,573 931.2,583.5 932.1,574.8 932.9,574.2 934.2,579.5 935.6,560.5 936.4,578.4 937.3,572.3 938.5,568.7 939.1,582.4 939.7,572.5 940.8,575.9 941.6,578.3 942.9,569.2 943.6,571.8 944.9,582.5 945.8,572 947,582.3 948.2,579.7 949.3,573 950.5,581 951.5,581.7 952.8,558.2 953.6,582.7 954.7,560.4 955.8,565.8 956.4,575.5 957,553.6 957.6,577.4 958.3,554.6 959,578.4 960.1,576 961.4,567.1 962.3,557.7 963.2,558.9 964.1,570.7 965.3,562.3 966.3,580 967.5,562.5 968.2,584.3 968.8,564.2 969.9,558.5 971,580.7 971.8,557.5 972.3,575.1 972.9,566.8 974,570.9 975.4,575.9 976.4,577.1 977.7,558.8 978.6,574.8 979.6,566.9 980.4,569.7 981.5,517.9 982.1,583.7 983,557.2 983.5,581.8 984.1,557.9 984.7,574.2 985.9,549.7 986.4,583.2 987.4,551.9 988.1,582.2 988.9,555.6 989.7,551.2 990.4,573.8 991.5,565.5 992.5,571.5 993.3,566.9 994.7,556.6 995.5,579.9 996.5,571.2 997.4,547 998.1,573.8 999.2,565.6 1000.4,495.9 1001.3,580.5 1002.4,581.4 1003.7,566.2 1004.6,556.3 1005.4,570.3 1006.2,520.3 1006.8,578.8 1007.4,556.6 1008.2,551.7 1008.8,573.4 1010.1,567.3 1010.8,559.3 1011.5,572.1 1012.2,574.8 1013.2,581.5 1014.5,571.4 1015.3,581.2 1016.3,565.1 1017.3,575.8 1018.2,573.2 1019.5,573.8 1020.2,579.9 1021.2,578 1022,583.8 1023.2,582.1 1024.1,572.1 1024.7,580 1025.4,575.8 1025.9,584.1 1027.2,580.5 1028.4,574.1 1028.9,579.8 1029.6,577.7 1030.8,580.8 1031.5,578.2 1032.5,575.5 1033.3,581.6 1034.3,578.8 1035.5,575.1 1036.3,582 1037.3,572.6 1038.1,580.3 1039.3,576.8 1039.9,582.3 1041.2,573 1041.8,582.6 1042.5,577.8 1043.2,582.1 1044.1,576 1044.7,580.3 1046,574.1 1046.5,582.4 1047.4,580 1048.4,576.9 1049.8,577.8 1051,581.8 1052.3,576.4 1053.1,575.3 1053.7,581.6 1054.5,579.3 1055.2,581.3 1056.4,576.9 1057.2,584.2 1057.9,580.7 1059.3,580.8 1060.5,579.5 1061.5,581.5 1062.6,575.5 1063.4,583.9 1064.3,579.3 1065.3,581.9 1066.7,582.8 1067.9,578.4 1069.1,576.2 1069.8,584.1 1071,580.3 1071.8,581.4 1072.4,580.6 1073.6,582 1075,572.7 1075.8,583.4 1076.9,577.7 1077.5,584 1078.2,578.6 1078.9,582.3 1079.5,581 1080.4,579.3 1081.1,582.8 1082.2,582.2 1083.4,580.9 1084.8,580.9 1085.6,580.1 1086.9,580.2 1088.3,579.5 1089.1,583.2 1089.8,581.7 1090.4,583.7" fill="none" stroke="#3a3a3a" stroke-width="0.9" stroke-opacity="0.30000000000000004" stroke-linejoin="round"/>
<polyline points="903.5,578.2 904.3,574.1 905.4,574.1 906.5,567.1 907.3,580.5 908.2,582.9 909.1,579.3 910.3,576 911.5,572.3 912.1,582.9 912.8,574.1 913.9,573.8 915,579.6 915.7,569.1 916.3,583 917,571.7 917.9,583.5 918.9,584 920.2,575 921.2,572.4 921.7,582.8 922.2,584.3 922.9,579.9 924.3,575.6 925.4,583 926.1,583.5 927,571.4 928.1,576.1 929.2,572.1 930.2,583 931.6,569.9 932.2,581.9 932.9,576.8 934.2,577.4 935.4,571.5 936.2,565.8 936.8,583.5 938,565.6 938.5,582.2 939.4,577.8 940.1,550.1 940.9,583.1 942.1,568.5 943,581.3 943.5,576.6 944.7,582.7 946.1,560.4 946.8,576.5 948,571.6 949.2,581.9 950.2,566.1 950.8,578.1 952,567 952.8,580.6 953.9,561.5 954.6,574.9 955.4,559.3 956.6,568.6 957.1,583.2 958,555.2 958.9,571.9 959.7,566 960.9,560.7 961.7,577.2 962.5,568.3 963.6,576.6 964.5,577.4 965.8,581.7 966.8,561.5 967.9,575.2 968.7,568.2 969.8,550.5 970.6,579.2 971.3,557.6 972.4,561.7 973.7,550.5 974.5,575 975.4,565.9 976.8,550.7 977.4,579 978,580.5 978.8,536.4 979.5,583.3 980.4,580.4 981.5,525 982.2,578.5 983.4,564.4 984.3,569.1 985.2,539 986.1,574.2 986.6,569.9 987.5,570.7 988.6,566.6 989.3,551.9 990,572.4 990.8,580.4 991.5,569.4 992.1,583.1 992.9,574.9 993.7,558.5 994.3,571 995.3,559.7 996.4,554.7 997.4,557.6 998,579.9 998.8,544.4 999.7,574.7 1000.9,554.2 1001.6,572.9 1002.1,559.5 1003.3,577.3 1004.5,498.3 1005,583.6 1006,582.2 1006.8,570.9 1007.9,513.7 1008.7,572.6 1009.3,563.3 1010,579.3 1011.3,561.3 1011.9,573.6 1013,549.2 1013.7,569.4 1014.4,554.5 1015.7,572.7 1016.8,581.3 1017.6,574.7 1018.5,583.6 1019.9,577.3 1021.1,579 1022,579.7 1022.7,581.8 1023.5,578.4 1024.7,578.2 1025.5,579 1026.3,575.9 1027.3,567.6 1027.8,581.4 1028.5,580.4 1029.4,582.1 1030.7,583.4 1032,581.3 1033.2,572.2 1033.7,580.5 1035,578.3 1035.7,583.8 1036.2,572.3 1036.8,583.5 1037.6,572.1 1038.5,583.5 1039.3,578.7 1040.4,574.5 1041,583.7 1041.9,580.2 1043,584.4 1043.8,577.8 1044.6,580 1045.5,574.5 1046.2,580.2 1046.8,580.1 1048,576.6 1048.8,581.3 1049.6,576 1050.5,573.9 1051.1,581.8 1052.3,577 1053.4,577.1 1054.4,579.9 1055.5,575.4 1056.1,581.1 1057.4,579.4 1058.5,578.8 1059.2,584.2 1060.1,580.4 1061.3,578.7 1062.2,584.3 1062.9,583.5 1063.8,582.5 1064.8,578.6 1065.9,577 1066.6,582.2 1067.5,580.9 1068.7,583.8 1069.9,580 1070.8,580.6 1071.5,580.6 1072.5,581.5 1073.8,581.9 1074.9,572.8 1075.4,583.9 1076.6,578.2 1077.5,583.8 1078.2,582.1 1079.1,582.5 1079.8,584.4 1080.9,582.5 1081.7,581.3 1082.9,580.1 1083.7,582.5 1084.7,580.8 1085.5,579.2 1086.3,582.3 1087,580.5 1087.7,583.9 1088.9,579.2 1089.7,583.4 1090.3,579" fill="none" stroke="#3a3a3a" stroke-width="0.9" stroke-opacity="0.27999999999999997" stroke-linejoin="round"/>
<polyline points="903.5,575.5 904.2,577 905.4,564.1 905.9,578.8 905.5,580.1 906,559.9 906.6,582.3 907.4,582.4 908.1,572.3 909,579.8 910.1,576.3 911,579.6 911.5,577.3 912.3,577.2 913.3,569.6 913.8,578.6 914.7,576.5 915.6,575.9 916.6,572 917.2,582.7 918.4,580.5 919.2,575.5 920,580.2 919.5,581 920,565.8 920.6,581.9 921.4,567.1 922,581.6 923,573.9 923.7,584.1 924.7,572.4 925.4,583 925.9,572.7 926.5,582.4 927.4,577.1 928.1,582.2 928.9,573.7 929.7,581.2 930.7,581.4 931.6,584.2 932.5,569.8 933,583.4 933.9,578.9 934.9,570.2 936,573.7 937.2,576.2 938.1,571.2 939.5,578.8 940,548.1 940.6,579 941.4,575.1 942.1,580.8 943.1,566.1 943.7,578.1 944.2,576.9 945.4,555.8 946.2,580.8 946.8,572.2 947.9,561.4 948.7,581.3 949.6,566.9 950.5,566.3 951,583 952.2,559.5 952.8,579.4 953.6,563.3 954.2,577.6 955,558.3 955.7,580.6 956.5,579.2 957.6,569.3 958.5,557 959.9,554.7 960.5,570.8 961.2,580.6 962,559.9 962.5,570.5 963,527.6 963.6,580.9 964.4,577.8 965.6,560.4 966.8,577.4 967.6,566.6 968.8,561.5 969.7,562.8 970.9,566.6 971.4,578.8 972.4,574.3 973.2,567.6 974.5,580.4 975.3,563.4 976.1,581.8 976.8,560.5 977.5,579.1 978,513.8 978.6,581.1 979.4,575.9 980.7,567.1 981.3,584 981.9,581.2 983.1,557.1 983.9,575.9 984.8,539.6 985.5,578.4 986.6,568.7 987.4,569.8 988.8,513.8 989.5,570.8 990.8,574.3 992,561.9 992.5,570 993,491.3 993.6,579.9 994.4,558.9 995.4,527.4 996,574.9 996.6,552.9 997.3,574.7 998.4,567.1 999.5,580.2 1000.8,584.3 1001.9,563.7 1002.5,575.6 1003,458 1003.6,577.2 1004.4,558.4 1005.2,572.9 1006.3,551.7 1006.9,581.4 1007.7,555.8 1009.1,569.6 1010.2,566.7 1010.5,574.6 1011,480.5 1011.6,570.2 1012.4,574 1013.8,560.4 1014.4,575.5 1015.5,569.8 1016.8,579.9 1018.2,566.8 1018.8,584.2 1019.8,581.5 1020.6,576.4 1021.9,578 1022.7,581.2 1023.7,573.2 1024.4,583.7 1025,579.4 1026.4,584.1 1027.4,582.9 1028.5,579.9 1029,559.9 1029.6,582.9 1030.4,580.3 1031.8,572.7 1032.5,584.3 1033.6,579.1 1034.6,584.1 1035.5,575 1036.3,580.5 1037.6,571.7 1038.3,579.4 1039.2,578.9 1040,581.7 1041,580.3 1042.2,575 1043.3,581.7 1044.6,578.1 1045.4,581.9 1045.9,582.1 1047.2,576.7 1048,581.3 1048.6,575.2 1049.4,582 1050.2,575.1 1051.1,582.6 1051.6,578.4 1052.4,582.4 1053.7,574.9 1054.2,580.6 1055.3,577.6 1056.2,580.1 1057,579.2 1057.7,582.8 1058.4,577.8 1059.1,582.4 1060.1,584 1060.9,584.2 1062.1,582.9 1063.2,580.6 1063.9,582.5 1064.8,575.7 1065.5,583.4 1066.3,581.3 1067.1,578.8 1067.8,581.2 1068.5,581.2 1069.6,579.3 1070.9,578.3 1072.2,579.1 1073.6,581.9 1074.5,583.5 1075,571.7 1075.6,581.8 1076.4,584.1 1077.2,577.6 1077.9,583.7 1078.5,581.9 1079.5,583.2 1080.3,578.6 1081.1,583 1082.4,581.3 1083,582.2 1084,577.7 1084.5,583.5 1085.2,580 1086,582.6 1086.5,579.3 1087.3,582.8 1088.5,582.1 1089.4,583.3 1090.5,578.3" fill="none" stroke="#000000" stroke-width="0.9" stroke-opacity="0.32000000000000006" stroke-linejoin="round"/>
<line x1="900.5" y1="587" x2="1093.5" y2="587" stroke="#000" stroke-width="2.0"/>
<line x1="902" y1="460" x2="902" y2="588" stroke="#000" stroke-width="2.7"/>
<line x1="1020.8" y1="460" x2="1020.8" y2="588" stroke="#000" stroke-width="2.7"/>
<line x1="1092" y1="460" x2="1092" y2="588" stroke="#000" stroke-width="2.7"/>
<path d="M903.1,574.9 C904.4,575.5 908.1,577.2 910.9,578.4 C913.6,579.5 916.4,581.1 919.6,581.8 C922.8,582.5 926.8,584.3 930,582.7 C933.2,581.1 936.1,573 938.7,572.3 C941.3,571.6 943.1,578 945.7,578.4 C948.3,578.8 951.7,576.9 954.3,574.9 C956.9,572.9 959.3,566.9 961.3,566.2 C963.3,565.5 964.8,571 966.5,570.6 C968.2,570.2 969.7,566.4 971.7,563.6 C973.7,560.8 976.4,553.9 978.7,554 C981,554.1 983.3,564.6 985.6,564.5 C987.9,564.4 990.3,554.1 992.6,553.2 C994.9,552.3 996.9,559.9 999.5,559.3 C1002.1,558.7 1006,550.3 1008.2,549.7 C1010.4,549.1 1011,551.3 1012.5,555.8 C1014,560.3 1015.3,572.5 1016.9,576.6 C1018.5,580.7 1019.9,580.7 1022.1,580.1 C1024.3,579.5 1027,572.8 1029.9,573.2 C1032.8,573.6 1035.3,580.9 1039.5,582.7 C1043.7,584.5 1049.1,583.7 1055,584 C1060.9,584.3 1069.2,584.6 1075,584.5 C1080.8,584.4 1087.4,583.8 1089.9,583.6" fill="none" stroke="#000000" stroke-width="3.8" stroke-linejoin="round" stroke-linecap="round"/>
<line x1="903.5" y1="580.4" x2="1090.5" y2="580.4" stroke="#ff00ff" stroke-width="5.0"/>
<rect x="887.8" y="568.5" width="221.1" height="33.1" rx="7" fill="none" stroke="#22304f" stroke-width="1.6"/>
<polyline points="1133.3,577.8 1133.9,583.2 1134.5,579.8 1135.3,580.2 1136.2,584.1 1137.4,584.3 1137.5,582.5 1138,551.7 1138.6,585.5 1139.4,569.2 1140.1,585.8 1141,571.8 1141.7,583.9 1142.7,583.2 1143.9,578.7 1145,579.2 1146.1,576.6 1146.9,584.3 1147.4,581.5 1147.9,584.4 1148.8,581.5 1149.6,583.9 1150.8,582.7 1151.6,571.3 1152.3,585.2 1153.2,581.7 1154.2,579.4 1154.9,585.8 1156.2,584.5 1157,581.3 1157.9,573 1158.7,583.2 1159.6,579.4 1160.6,565.2 1161.4,584.6 1162.3,575.2 1163,586.1 1163.8,561.4 1164.4,584.8 1165.5,582.4 1166,548.9 1166.6,583.5 1167.4,575.4 1168.3,584.8 1169.2,581.8 1170.3,578.4 1171.6,576.6 1172.8,573.4 1173.5,585.1 1174.7,577.1 1175.5,583.3 1176.1,577.5 1177,568.3 1177.8,582.8 1178.5,577.8 1179.7,570.5 1180.9,580.3 1181.6,563.7 1182.4,577.8 1183.5,579.6 1184.5,565.3 1185.3,581.8 1186.6,583.3 1187.8,570.5 1188.8,582.5 1189.8,567.9 1190.5,584 1191.7,571.1 1192.3,585 1193.3,573.3 1194.1,568.4 1195.3,582.4 1196.5,584.8 1197.7,567.3 1198.5,569 1198.5,584.9 1199,522.9 1199.6,584.8 1200.4,538.6 1201,586.3 1202,564.1 1202.8,586.1 1203.6,530.9 1204.3,582.3 1205,585.7 1206,571 1207.2,576.4 1208.2,507 1209.1,581.9 1209.6,501.3 1210.4,583.1 1211.2,551.1 1211.9,578.9 1213.1,565.9 1213.9,566.5 1214.5,577.3 1215,460.5 1215.6,584.8 1216.4,585.5 1217.5,568 1218.6,549.6 1219.3,578.9 1220.1,563.7 1221.1,582.3 1221.9,563.9 1222.9,568.1 1223.7,565.1 1224.7,562.7 1225.5,579.5 1226.6,555 1227.2,580.3 1227.9,571.8 1228.6,576.5 1228.5,582.1 1229,499.9 1229.6,578.8 1230.4,574.1 1231.5,565.8 1232.1,580.7 1233.4,579.5 1234.7,580.5 1235.5,570.3 1236.8,567.8 1237.6,565.6 1238.1,581 1239,585 1240.2,578.4 1240.8,586.3 1242.1,580.6 1242.9,580.4 1244,580.7 1244.8,584.1 1246.2,582.6 1247.5,584.6 1248.5,579.7 1249.3,586 1249.5,582.6 1250,562.3 1250.6,585.6 1251.4,581.4 1252.4,581.9 1253.5,585.5 1254.7,579.7 1255.5,573 1256.1,583.1 1257.3,580.7 1258.5,585.8 1259.2,578.8 1260.3,575.3 1261.1,582.9 1262.2,579.6 1262.7,582.6 1263.5,585.2 1264.3,584.6 1265.2,583.7 1266,582.2 1267,582.6 1267.9,581.3 1268.6,583.8 1269.2,581.3 1269.9,581.9 1270.9,585.1 1271.6,578 1272.4,584.1 1273.6,580 1274.3,585.1 1275.2,585.6 1276.1,578.9 1276.8,584.5 1277.6,585.1 1278.9,581.7 1279.9,581.1 1280.7,586.2 1281.3,580.2 1282.5,585.1 1283,571.9 1283.6,585.4 1284.4,580.1 1285.6,577.9 1286.3,584 1287,581.3 1288.2,586.1 1289.5,581.5 1290.4,582.2 1291.3,583.5 1292.4,582.6 1293,585.4 1293.7,576.4 1294.3,584.8 1295.2,581 1295.9,584 1297.2,583.1 1298.5,582.9 1299.3,586.2 1300.1,583.3 1300.6,584.3 1301.7,582 1302.3,584.3 1303,585.1 1303.9,584.8 1304.8,584.7 1305.7,585.9 1306.5,580.4 1307.3,584.5 1308.3,583.1 1309.2,582.9 1310.2,584.1 1311,584.1 1311.6,585.5 1312.6,583.6 1313.5,583.4 1314.9,585.2 1316.3,583 1317.3,584 1318.2,585.8 1318.9,584.6" fill="none" stroke="#f3bd98" stroke-width="1.1" stroke-opacity="0.4675" stroke-linejoin="round"/>
<polyline points="1133.3,577.3 1133.8,583.8 1134.4,580.9 1134.9,586.2 1135.9,582.6 1136.8,575.4 1137.6,585.4 1138.7,579.6 1139.8,582.5 1140.6,585 1141.8,581.2 1142.6,582.7 1143.5,584 1144.5,575.2 1145.1,583 1146.1,585.9 1147,575.8 1147.6,584.6 1148.7,580.9 1149.8,585 1150.9,580.4 1152.2,584.5 1153.4,571.2 1154.3,585.9 1154.9,577.2 1156,581.9 1157,574.1 1157.6,582.1 1158.6,581.3 1159.2,583.2 1160.5,578.6 1161.5,577.2 1162.2,583.1 1163,578.8 1163.7,577.8 1164.6,583.2 1165.8,583 1167.2,576 1167.9,584.1 1168.8,580.3 1169.8,585 1171.1,581.5 1172.3,578.1 1173,585.8 1173.6,580.7 1174.9,581.5 1175.8,583.4 1177.1,570.5 1178.3,578.7 1179.2,570.6 1179.9,549.1 1180.6,577.7 1181.4,559.6 1182.3,578.4 1183.1,549.2 1183.7,581.5 1184.4,560.4 1185.2,584.5 1186.3,570.7 1187.3,578 1188.6,575.2 1189.6,580.5 1190.4,564.5 1191.7,584.7 1192.7,573.7 1194,540.4 1194.7,580.7 1196,572.8 1197,578.6 1198,567 1199.1,548.3 1199.9,581.6 1200.4,578.7 1201.4,552.9 1202,586 1202.7,568.4 1203.4,560.8 1204.2,578.3 1204.7,558.3 1205.4,582.7 1206.4,576.9 1207.6,575.2 1208.3,566.7 1209.7,569.2 1210.6,571.6 1211.7,562.3 1212.4,579.5 1213.2,567.7 1213.9,499.2 1214.8,584.2 1215.6,575.8 1216.6,565.2 1217.2,583.1 1217.7,546.8 1218.3,579.3 1219,577.5 1219.9,584.7 1220.9,580 1222.1,550.9 1222.9,585.4 1223.9,569.6 1224.7,585.8 1225.4,523.9 1226.2,579.2 1226.7,554.5 1227.3,578.1 1228.4,570.2 1229.6,581.8 1230.6,568.6 1231.7,551.7 1232.3,577.1 1233.5,585.7 1234.3,568.3 1235.5,581.2 1236.4,573.4 1237.1,571 1238.2,572.2 1239,577.7 1240.1,575.1 1240.7,582.2 1241.4,583.2 1242.7,579.1 1243.8,579.8 1244.6,585.4 1245.8,582.1 1246.8,574.7 1247.3,583.3 1248,579.7 1248.8,574.8 1249.7,584.9 1251,579.2 1251.9,578.1 1252.7,584.1 1253.4,577.7 1254.5,573.5 1255.2,584.4 1256,575.8 1256.7,583.4 1257.9,579.3 1258.7,583.2 1259.4,581 1260.2,584.9 1261,582.3 1261.9,577.1 1262.7,585.2 1263.9,575.9 1264.6,585.4 1265.5,582 1266,582.6 1267.1,576.7 1267.7,583.1 1268.2,585.4 1269.2,584.6 1270.6,582.9 1271.3,582.3 1272.6,581.7 1273.5,584.4 1274.5,579.3 1275.3,583.9 1276,585.6 1277.3,585 1278.2,578.1 1278.9,583.8 1280.2,582.6 1281.6,576.8 1282.4,584.5 1283.7,583.7 1284.6,582.6 1285.8,582.6 1286.5,580.8 1287.6,580.4 1288.5,584.2 1289.5,583.2 1290.7,583 1291.6,579.1 1292.1,584.3 1292.9,581.4 1293.8,584.4 1295,585.2 1295.9,582.1 1296.7,584.4 1297.8,581.3 1298.6,584.8 1299.6,582.2 1300.7,585.7 1301.5,582.6 1302.5,586.2 1303.4,582.3 1304.3,579.6 1305.1,585.2 1305.8,584.2 1306.7,585.5 1307.9,585.2 1308.9,584.7 1309.6,583.6 1310.3,584.3 1311.5,584.4 1312.6,582.8 1313.2,585.3 1314,584.6 1315.2,584 1316.3,584.5 1317,585.8 1317.8,583.4 1318.3,585.9 1319.3,584.5 1319.8,586.1" fill="none" stroke="#f3bd98" stroke-width="1.0" stroke-opacity="0.385" stroke-linejoin="round"/>
<polyline points="1133.3,585.8 1134.2,583.4 1135.1,581.5 1136.3,573.8 1137.1,584.3 1138.3,581.4 1139.7,584.1 1141,582.4 1142.2,569 1143,582.3 1144,583.6 1145,585.8 1146.1,582.8 1147,582.2 1148.1,578.9 1148.6,582.8 1149.2,576.7 1150.1,585.4 1151.3,579 1152.4,572.5 1153,584.6 1153.9,572.2 1154.5,584.7 1155.4,586 1156.7,573.8 1157.3,585.3 1158.3,575.1 1159.1,584.4 1159.9,585 1161.2,582.4 1162.5,579.1 1163.3,586.1 1164.1,583.1 1164.9,577.4 1165.8,585.9 1166.7,551.2 1167.5,584.4 1168.3,584.3 1169.1,583.8 1169.9,583.3 1170.8,581.7 1171.5,578.4 1172.4,581.5 1173,577.6 1174.3,585.3 1175.2,563.2 1175.8,585.4 1176.9,584.3 1178.1,581.8 1178.9,570.3 1179.5,579 1180.6,550 1181.4,579.8 1182.5,572.6 1183.3,576.9 1184.1,568.3 1185.1,568.5 1186.1,579.4 1187,574 1187.9,564.2 1188.6,566.8 1190,558.5 1190.5,577.9 1191.8,564.4 1192.6,579.4 1193.2,558.3 1193.9,574.9 1194.8,584.3 1195.5,572.9 1196.9,567.6 1198,562.7 1198.6,579.9 1199.7,573.8 1200.8,573.2 1202,579.3 1202.8,572.4 1203.5,576.1 1204.3,542.3 1205.2,578.5 1206,522.5 1206.6,575 1207.6,567 1208.6,582.1 1209.5,584.3 1210.2,585.7 1211.5,506.6 1212.3,575.2 1213.4,577.6 1214.4,571.7 1215.6,581.4 1216.5,567.3 1217.4,564.7 1218.5,569.1 1219.3,570.9 1220.2,560.6 1221,585.4 1222.3,560.9 1223.1,581.6 1223.6,577.3 1224.5,570.9 1225.7,537.3 1226.4,583.6 1227.6,570.2 1228.3,583.8 1228.9,515.7 1229.8,585.6 1230.3,570.5 1231.5,551.1 1232.3,585.1 1233,550.5 1233.7,584.9 1234.8,564 1236.1,579.9 1237.2,563.1 1237.8,585.3 1238.6,571.6 1239.4,572.7 1240.4,579.2 1241,582.5 1241.9,577.7 1243.3,579.7 1244.2,579.1 1244.9,585 1245.9,581.1 1246.9,580.7 1248.2,577.2 1249,584 1249.8,578.8 1251,582 1252.3,573.4 1252.8,582.2 1253.9,584.1 1255.2,581 1256.4,581.2 1257.8,583.4 1258.7,585.8 1259.6,581 1260.8,585.1 1262,577.5 1262.5,583.8 1263.6,579.2 1264.5,583.4 1265.3,584.4 1266,577.3 1266.9,585.3 1267.4,579.6 1268.8,575.5 1269.6,585.4 1270.5,577.5 1271.1,583.9 1272.4,583.3 1273.5,584.1 1274.2,579.1 1275,583.5 1275.6,585 1276.4,578.6 1277.1,583 1278.2,578.1 1278.7,583.8 1279.3,584.4 1280.1,579.7 1280.8,584.3 1282.1,584.8 1282.9,581.6 1283.6,584.3 1284.4,579.7 1285.3,585.1 1286,584.7 1286.8,580.3 1287.4,585.5 1288.6,583.2 1289.5,581.7 1290.2,584.2 1290.7,582.1 1291.5,578 1292.3,584 1293.2,582.5 1293.8,584 1294.8,583.3 1295.5,581.4 1296.5,581.2 1297.1,584.8 1297.6,582.3 1298.9,583.1 1299.8,583.7 1300.7,584 1301.6,581.8 1302.9,581.9 1303.8,585.4 1304.7,585.3 1306.1,582.4 1307.4,585.1 1308.4,582.7 1309.6,584.9 1311,585.5 1311.9,585 1312.8,585.9 1314.2,583.1 1315,585.4 1316.2,582.1 1316.8,585.1 1317.7,583.3 1318.2,585.6 1319.5,584.7" fill="none" stroke="#e68c55" stroke-width="0.9" stroke-opacity="0.41250000000000003" stroke-linejoin="round"/>
<polyline points="1133.3,585.9 1134.5,578.7 1135.5,580.8 1136.3,584.4 1136.9,584.2 1137.6,585.1 1138.6,576.6 1139.2,583.4 1139.7,579.5 1140.8,569.6 1141.5,586.3 1142.3,585.2 1143.1,578.8 1143.9,576.7 1144.6,584.9 1145.3,582.4 1146.2,578 1146.7,583.2 1147.3,580.4 1148.4,574.3 1149.2,583.3 1150.4,584.1 1151.3,576.6 1151.9,586.2 1152.4,586.2 1153.6,579.9 1154.5,578.1 1155.1,585.6 1156,581.3 1157.1,583.9 1158.2,579.6 1159.1,572.5 1159.9,581.7 1160.5,579.5 1161.7,582.7 1162.8,586.2 1163.7,582.6 1164.7,563.8 1165.4,585 1166.3,582.6 1167,579.5 1168.1,580.1 1168.9,569.4 1169.7,584.9 1170.3,574.4 1170.8,585.9 1171.8,578 1172.8,580.5 1174.1,577.9 1175.5,584.4 1176.9,572.2 1177.6,581.3 1178.2,572.7 1178.7,585 1179.2,574.1 1180.3,583.1 1181.3,568.2 1182,583.6 1182.8,584.5 1183.5,580.6 1184.7,577.9 1185.9,564.4 1187.2,566.9 1187.8,584.4 1188.4,580.3 1189.1,558 1189.7,576.4 1190.4,581.7 1191.3,569.9 1191.9,577.9 1192.7,563.5 1193.3,584.8 1194.4,586.1 1195.3,565.6 1196.7,571.7 1197.5,564.7 1198.2,584.2 1199.3,574.5 1200.1,571.4 1201,586.3 1201.9,586.1 1203,564.4 1203.8,563.8 1205.1,572.5 1205.8,578.8 1207,563.9 1207.8,540.1 1208.5,585.9 1209.4,583 1210.5,490.6 1211.2,581.7 1212.3,577 1213.1,565.9 1214.3,569.7 1215.2,580 1216,577.8 1217.1,556.1 1217.6,585.9 1218.2,578.2 1219.2,563.3 1220,553.2 1220.7,577 1221.5,569.5 1222.5,568.7 1223.4,585.5 1224,577.5 1224.8,567.5 1225.7,586.2 1226.6,575.7 1227.7,585.9 1228.5,563.7 1229.4,575.7 1230.4,545 1231.1,576.9 1232.1,565.9 1232.8,584.3 1233.4,567 1234.3,579.1 1235.5,566.6 1236.7,586.2 1237.5,574 1238.1,580.4 1239,573.6 1240,580.4 1241,575.4 1241.7,582.1 1242.9,579.3 1243.7,584.4 1244.7,580.5 1245.5,580 1246.8,585.9 1247.6,581.1 1249,586.1 1250.3,582.9 1251.6,575.8 1252.2,581.9 1253.3,582.6 1254.6,585.8 1255.9,571.2 1256.7,585.2 1257.8,585.4 1259.1,578.1 1260,585.1 1260.5,578 1261.7,585.7 1262.4,572.3 1263.1,586.3 1263.8,580.5 1264.9,574.3 1265.5,583.8 1266.7,581.9 1267.6,584.6 1268.2,582.3 1269,583.9 1269.9,582.8 1271,577 1271.9,582.8 1273.1,580.6 1273.8,585.3 1274.3,579.3 1275.2,578.9 1276.1,584 1277.2,579.1 1277.7,585.8 1279,578.7 1279.8,585.8 1280.5,580.5 1281.4,582.2 1281.9,586 1282.5,580.3 1283.4,580 1284.1,584.8 1285.4,584.8 1286.1,576.6 1286.7,584.8 1287.4,581.8 1288.8,585.8 1289.6,582 1290.6,584.1 1291.5,581.6 1292.1,583.5 1293.4,585.2 1294.8,580.2 1295.6,583.9 1296.4,584.3 1297.5,580.9 1298,585.5 1299,580 1299.7,586 1300.3,581.6 1301.1,582.7 1302.2,585.9 1303.1,584.3 1304.3,584.9 1305.5,584.9 1306.6,582.6 1307.7,583.5 1309,583.6 1309.7,584.5 1310.9,581.6 1311.6,586 1312.6,582.5 1313.4,585.2 1314.4,584.1 1315.2,585.7 1316.3,582.9 1317.6,583.4 1318.1,584.7 1318.7,585.7 1319.6,585.7" fill="none" stroke="#e68c55" stroke-width="0.9" stroke-opacity="0.385" stroke-linejoin="round"/>
<polyline points="1133.3,580.7 1134.7,584.4 1136,584.1 1137,565.2 1137.9,585.3 1137.5,585.2 1138,551.7 1138.6,582.4 1139.4,579.3 1140.3,580.8 1141.3,566.2 1142.1,582.5 1143.1,580.5 1144.4,580.2 1145.2,583.6 1146.1,585.9 1147.1,581.8 1148.5,579.6 1149.6,583.4 1150.5,579.2 1151.3,580 1152.7,576.8 1153.5,585.9 1154.5,586 1155.9,576.9 1156.5,583.9 1157.5,579.4 1158.9,577.4 1159.5,583.6 1160.4,581.1 1161.7,580.8 1162.8,574.2 1163.4,582.6 1164.6,557.1 1165.4,581.5 1165.5,582.7 1166,548.9 1166.6,583.3 1167.4,573.7 1168.1,584.5 1169.1,582.9 1169.9,581.1 1170.6,585.8 1171.6,583.9 1172.6,584.3 1173.8,584 1174.7,560.4 1175.4,583 1176.1,575.9 1177.3,576.4 1177.8,580.5 1178.6,580.4 1179.5,566.7 1180.6,553.6 1181.3,578.7 1181.8,570.9 1183.1,570.9 1183.8,582.3 1184.6,585.7 1185.5,585.9 1186.6,561.8 1187.2,579.8 1188.3,563.5 1189.1,578.3 1189.8,569.7 1190.9,578.2 1192.1,585.4 1193.1,584.9 1193.9,575.5 1194.8,572.9 1195.8,574.2 1197.1,564.7 1197.9,584.4 1198.5,581.1 1199,522.9 1199.6,584.1 1200.4,567.6 1201.2,563.3 1202.3,557.8 1203,586 1204,581.9 1204.9,567.9 1205.6,584.6 1206.8,568 1207.6,506.1 1208.4,578.5 1209.4,573.8 1210.4,581.9 1211.4,573.4 1212.1,482.1 1212.6,581.9 1213.7,476.2 1214.3,579.2 1214.5,576.3 1215,460.5 1215.6,584.2 1216.4,556.7 1217.1,576.1 1218.3,574.4 1219.4,549.1 1220,576.4 1220.5,572.3 1221.5,569.6 1222.5,564.3 1223.7,567.1 1224.6,565.9 1225.7,565.5 1227,517.4 1227.7,579.9 1228.5,576.2 1229,499.9 1229.6,578.7 1230.4,558.8 1231.3,576.2 1231.9,573.5 1233,573.7 1233.9,576.4 1234.9,563.5 1235.6,578.2 1237,569 1237.9,576.9 1238.9,573.3 1239.5,579.2 1240.4,570.6 1241.2,583.8 1242.1,580.8 1243,584.8 1244.3,584 1245.3,580.4 1246,580.2 1246.8,586.2 1247.8,576 1248.6,585.2 1249.4,584.1 1249.5,585.8 1250,562.3 1250.6,585.3 1251.4,575.3 1252,583.4 1253,579.4 1253.6,583 1254.6,584.8 1256,582.2 1257,576.7 1257.7,584.2 1258.6,578.8 1259.6,580.2 1260.8,584.7 1262.1,583.6 1263.4,585.9 1264.5,580.7 1265.2,582.4 1266.1,576.8 1267,582.8 1267.6,575.1 1268.2,584 1268.9,578.9 1270.2,585.6 1270.9,580.7 1271.8,579.5 1272.5,583.7 1273.3,582.5 1274.5,583.7 1275.9,585.2 1277,580.7 1277.7,586 1278.4,581.2 1279.1,574.5 1279.7,585.2 1280.3,581 1281.6,582.2 1282.5,584.9 1283,571.9 1283.6,585.8 1284.4,581.7 1285.2,586.3 1286.4,575.7 1287.2,585.9 1288.1,585.1 1289.3,586.1 1290.3,581.5 1291,583.7 1292,582.5 1293.2,580.9 1294,586.1 1295.2,578.3 1296.1,584.3 1296.7,586 1297.5,585.1 1298.6,582.3 1299.4,584.1 1300.4,579.9 1301.1,585 1301.8,580.5 1302.5,583.9 1303.5,584.4 1304.5,582.9 1305.3,583 1306,582.9 1306.9,584.4 1308.1,583.3 1309.4,585.2 1310.6,581.6 1311.4,585.7 1312.3,584 1313.5,586 1314.5,585.7 1315.8,584.3 1316.9,583.1 1317.5,584.9 1318.4,583.2 1318.9,585.8 1320.2,584.7" fill="none" stroke="#cc5e24" stroke-width="0.9" stroke-opacity="0.44000000000000006" stroke-linejoin="round"/>
<line x1="1130.3" y1="588.9" x2="1323" y2="588.9" stroke="#000" stroke-width="2.0"/>
<line x1="1131.8" y1="460" x2="1131.8" y2="589.9" stroke="#000" stroke-width="2.7"/>
<line x1="1246.2" y1="460" x2="1246.2" y2="589.9" stroke="#000" stroke-width="2.7"/>
<line x1="1321.5" y1="460" x2="1321.5" y2="589.9" stroke="#000" stroke-width="2.7"/>
<path d="M1135.8,573.2 C1137.1,573.9 1141.1,575.6 1143.6,577.5 C1146.1,579.4 1148,583.5 1150.6,584.5 C1153.2,585.5 1157,585.1 1159.3,583.6 C1161.6,582.1 1162.5,577.2 1164.5,575.8 C1166.5,574.3 1169.1,574.6 1171.4,574.9 C1173.7,575.2 1176.1,577.8 1178.4,577.5 C1180.7,577.2 1182.1,575.2 1185.3,573.2 C1188.5,571.2 1194.3,565.4 1197.5,565.3 C1200.7,565.1 1202.5,573.3 1204.5,572.3 C1206.5,571.3 1207.7,562.8 1209.7,559.3 C1211.7,555.8 1214.4,550.7 1216.6,551.4 C1218.8,552.1 1220.7,562.4 1222.7,563.6 C1224.7,564.8 1226.9,558 1228.8,558.4 C1230.7,558.8 1232.3,562.6 1234,566.2 C1235.7,569.8 1237.5,577.1 1239.2,580.1 C1240.9,583.1 1242.4,585.1 1244.4,584.5 C1246.4,583.9 1249.1,577 1251.4,576.6 C1253.7,576.2 1254.9,580.8 1258,582 C1261.1,583.2 1264.7,583.5 1270,584 C1275.3,584.5 1281.8,584.8 1290,585 C1298.2,585.2 1314.2,585.4 1319,585.5" fill="none" stroke="#5e2e0e" stroke-width="3.8" stroke-linejoin="round" stroke-linecap="round"/>
<line x1="1133.3" y1="581.9" x2="1320" y2="581.9" stroke="#ff00ff" stroke-width="3.4"/>
<rect x="1118.1" y="568.5" width="221.1" height="33.1" rx="7" fill="none" stroke="#22304f" stroke-width="1.6"/>
<path d="M462.9,766.4 L462.9,759.7 C463.3,759 464.6,756.1 465.6,755.7 C466.6,755.3 467.5,757 468.9,757.1 C470.3,757.2 472.2,756.7 474,756.5 C475.8,756.3 477.9,755.9 479.5,755.7 C481.1,755.5 482.2,755 483.5,755.1 C484.8,755.2 485.7,756.5 487.5,756.4 C489.3,756.3 492.3,755.2 494.1,754.4 C495.9,753.6 496.8,751.2 498.1,751.5 C499.4,751.8 500.8,756.2 502.1,756.4 C503.4,756.6 504.3,753.5 506.1,752.8 C507.9,752.1 510.7,754.1 512.7,752.4 C514.7,750.7 516.6,745.6 518.1,742.5 C519.6,739.4 520.5,734.5 522,733.8 C523.5,733.1 526.1,739.9 527.4,738.5 C528.7,737.1 529.1,727.8 530,725.2 C530.9,722.6 531.8,722.6 532.7,722.8 C533.6,723 534.4,722.6 535.3,726.5 C536.2,730.4 536.9,744.1 538,746.4 C539.1,748.7 540.8,741.5 542,740.5 C543.2,739.5 544.2,739.5 545.3,740.5 C546.4,741.5 546.9,743.9 548.6,746.4 C550.3,748.9 554.2,754.2 555.3,755.7 L556.6,766.4 Z" fill="#000000" stroke="#000000" stroke-width="1.4" stroke-linejoin="round"/>
<line x1="441.1" y1="766.2" x2="633.7" y2="766.2" stroke="#000" stroke-width="2.2"/>
<line x1="442.3" y1="624.9" x2="442.3" y2="767.2" stroke="#000" stroke-width="2.4"/>
<line x1="567.6" y1="624.9" x2="567.6" y2="767.2" stroke="#000" stroke-width="2.4"/>
<line x1="632.5" y1="624.9" x2="632.5" y2="767.2" stroke="#000" stroke-width="2.4"/>
<line x1="443.6" y1="758.4" x2="631.5" y2="758.4" stroke="#c42dc4" stroke-width="3.4"/>
<path d="M709.5,765 L709.5,743.8 C709.8,742.5 710.7,737.9 711.5,735.8 C712.3,733.7 713.1,730.8 714.2,731.2 C715.3,731.7 716.6,738.6 718.2,738.5 C719.9,738.4 722.3,730.7 724.1,730.5 C725.9,730.3 727.3,738 728.8,737.1 C730.2,736.2 731.6,727.7 732.8,725.2 C734,722.7 735,721.5 736.1,721.9 C737.2,722.3 738.5,725.1 739.4,727.8 C740.3,730.4 740.6,738.4 741.4,737.8 C742.2,737.1 742.8,727.2 744.1,723.9 C745.4,720.6 747.9,720.4 749.4,717.9 C750.9,715.4 752.3,710.5 753.4,708.6 C754.5,706.7 755.1,706.1 756,706.6 C756.9,707.1 757.6,711 758.7,711.9 C759.8,712.8 761.6,711.4 762.7,711.9 C763.8,712.4 764.4,711.7 765.3,714.6 C766.2,717.5 766.9,726.9 768,729.2 C769.1,731.5 770.8,728.2 772,728.5 C773.2,728.8 774.2,728.9 775.3,731.2 C776.4,733.5 778,740.6 778.6,742.5 L780,765 Z" fill="#4472c4" stroke="#14254a" stroke-width="1.4" stroke-linejoin="round"/>
<line x1="671.5" y1="765" x2="864.5" y2="765" stroke="#000" stroke-width="2.2"/>
<line x1="672.7" y1="624.9" x2="672.7" y2="766" stroke="#000" stroke-width="2.4"/>
<line x1="792.9" y1="624.9" x2="792.9" y2="766" stroke="#000" stroke-width="2.4"/>
<line x1="863.3" y1="624.9" x2="863.3" y2="766" stroke="#000" stroke-width="2.4"/>
<line x1="674" y1="747.4" x2="862.3" y2="747.4" stroke="#ff00ff" stroke-width="2.6"/>
<path d="M930.9,759.1 L931.6,750.4 C932.2,749.5 934.2,746.2 935.5,745.1 C936.8,744 938.3,743.2 939.5,743.5 C940.7,743.8 941.7,746.2 942.8,747.1 C943.9,748 944.9,749.1 946.2,749.1 C947.5,749.1 949.5,747.1 950.8,747.1 C952.1,747.1 953,750.1 954.1,749.1 C955.2,748.1 956.3,743 957.5,741.1 C958.7,739.2 960.4,737.6 961.5,737.8 C962.6,738 962.9,742.5 964.1,742.5 C965.3,742.5 967.4,738.9 968.8,737.8 C970.2,736.7 971.6,736.7 972.7,735.8 C973.8,734.9 974.5,734 975.4,732.5 C976.3,731 977.1,727.4 978.1,726.5 C979.1,725.6 980.3,725.7 981.4,727.2 C982.5,728.8 983.5,734.4 984.7,735.8 C985.9,737.2 987.7,737.2 988.7,735.8 C989.7,734.4 989.9,729 990.7,727.2 C991.5,725.4 992.4,724.7 993.3,725.2 C994.2,725.8 995,729.8 996,730.5 C997,731.2 998.1,730.1 999.3,729.2 C1000.5,728.3 1001.8,726.3 1003.3,725.2 C1004.8,724.1 1007.3,722.5 1008.6,722.5 C1009.9,722.5 1010.4,722.8 1011.3,725.2 C1012.2,727.6 1013.5,735.1 1013.9,737.1 L1016.6,759.1 Z" fill="#000000" stroke="#000000" stroke-width="1.4" stroke-linejoin="round"/>
<line x1="903.1" y1="759" x2="1093" y2="759" stroke="#000" stroke-width="2.2"/>
<line x1="904.3" y1="624.9" x2="904.3" y2="760" stroke="#000" stroke-width="2.4"/>
<line x1="1020" y1="624.9" x2="1020" y2="760" stroke="#000" stroke-width="2.4"/>
<line x1="1091.8" y1="624.9" x2="1091.8" y2="760" stroke="#000" stroke-width="2.4"/>
<line x1="905.6" y1="751.8" x2="1090.8" y2="751.8" stroke="#c42dc4" stroke-width="3.4"/>
<path d="M1162.2,764.4 L1162.6,754.4 C1162.9,754 1163.5,752.6 1164.2,751.8 C1164.9,751 1165.9,749.2 1166.9,749.4 C1167.9,749.6 1169.1,752.4 1170.2,752.8 C1171.3,753.2 1172.4,752.1 1173.5,751.8 C1174.6,751.5 1175.8,750.9 1176.8,751.1 C1177.8,751.3 1178.6,752.9 1179.5,753.1 C1180.4,753.3 1181.2,753.6 1182.2,752.4 C1183.2,751.2 1184.5,747.4 1185.5,745.8 C1186.5,744.1 1187.1,742.7 1188.1,742.5 C1189.1,742.3 1190.4,744.7 1191.5,744.5 C1192.6,744.3 1193.7,742.1 1194.8,741.1 C1195.9,740.1 1197.2,738.5 1198.1,738.5 C1199,738.5 1199.3,739.7 1200.1,741.1 C1200.9,742.5 1201.6,748.4 1202.7,747.1 C1203.8,745.8 1205.4,735.9 1206.7,733.2 C1208,730.6 1209.4,732 1210.7,731.2 C1212,730.4 1213.6,729.2 1214.7,728.5 C1215.8,727.8 1216.5,726 1217.4,727.2 C1218.3,728.4 1219.2,733.6 1220,735.8 C1220.8,738 1221.1,740.4 1222,740.5 C1222.9,740.6 1224.2,737.5 1225.3,736.5 C1226.4,735.5 1227.6,734 1228.7,734.5 C1229.8,735 1231.1,737.6 1232,739.8 C1232.9,742 1233.1,745.4 1234,747.8 C1234.9,750.2 1236.8,753.3 1237.3,754.4 L1237.6,764.4 Z" fill="#7f6000" stroke="#000000" stroke-width="1.4" stroke-linejoin="round"/>
<line x1="1131.8" y1="765" x2="1323.5" y2="765" stroke="#000" stroke-width="2.2"/>
<line x1="1133" y1="624.9" x2="1133" y2="766" stroke="#000" stroke-width="2.4"/>
<line x1="1246" y1="624.9" x2="1246" y2="766" stroke="#000" stroke-width="2.4"/>
<line x1="1322.3" y1="624.9" x2="1322.3" y2="766" stroke="#000" stroke-width="2.4"/>
<line x1="1134.3" y1="756.1" x2="1321.3" y2="756.1" stroke="#d43fc8" stroke-width="1.8"/>
<line x1="1304.3" y1="580.7" x2="1363.6" y2="555.4" stroke="#111" stroke-width="1.3"/>
<text x="451.5" y="31.9" font-size="38.8" font-family="'Liberation Sans', Arial, sans-serif" font-weight="bold" textLength="172.1" lengthAdjust="spacingAndGlyphs">CONTROL</text>
<text x="450.7" y="81.7" font-size="38.8" font-family="'Liberation Sans', Arial, sans-serif" font-weight="bold" textLength="174.1" lengthAdjust="spacingAndGlyphs">(baseline)</text>
<text x="720.4" y="28.6" font-size="38.8" font-family="'Liberation Sans', Arial, sans-serif" font-weight="bold" textLength="90.8" lengthAdjust="spacingAndGlyphs">STOP</text>
<text x="913.9" y="31.9" font-size="38.8" font-family="'Liberation Sans', Arial, sans-serif" font-weight="bold" textLength="172.4" lengthAdjust="spacingAndGlyphs">CONTROL</text>
<text x="911.4" y="81.7" font-size="38.8" font-family="'Liberation Sans', Arial, sans-serif" font-weight="bold" textLength="177.5" lengthAdjust="spacingAndGlyphs">(washout)</text>
<text x="1187.5" y="30.3" font-size="38.8" font-family="'Liberation Sans', Arial, sans-serif" font-weight="bold" textLength="84" lengthAdjust="spacingAndGlyphs">FREE</text>
<text x="229.3" y="192.2" font-size="38.8" font-family="'Liberation Sans', Arial, sans-serif" font-weight="bold" textLength="50.3" lengthAdjust="spacingAndGlyphs">(A)</text>
<text x="291.1" y="192.2" font-size="38.8" font-family="'Liberation Sans', Arial, sans-serif" font-weight="bold" textLength="75.4" lengthAdjust="spacingAndGlyphs">Raw</text>
<text x="153.4" y="373.3" font-size="38.8" font-family="'Liberation Sans', Arial, sans-serif" font-weight="bold" textLength="48.9" lengthAdjust="spacingAndGlyphs">(B)</text>
<text x="213.3" y="373.3" font-size="38.8" font-family="'Liberation Sans', Arial, sans-serif" font-weight="bold" textLength="160" lengthAdjust="spacingAndGlyphs">Rectified</text>
<text x="8.8" y="542.3" font-size="38.8" font-family="'Liberation Sans', Arial, sans-serif" font-weight="bold" textLength="47.3" lengthAdjust="spacingAndGlyphs">(C)</text>
<text x="67" y="542.3" font-size="38.8" font-family="'Liberation Sans', Arial, sans-serif" font-weight="bold" textLength="108.8" lengthAdjust="spacingAndGlyphs">Linear</text>
<text x="185.1" y="542.3" font-size="38.8" font-family="'Liberation Sans', Arial, sans-serif" font-weight="bold" textLength="186.9" lengthAdjust="spacingAndGlyphs">Enveloped</text>
<text x="124.2" y="709" font-size="38.8" font-family="'Liberation Sans', Arial, sans-serif" font-weight="bold" textLength="52.2" lengthAdjust="spacingAndGlyphs">(D)</text>
<text x="185.9" y="709" font-size="38.8" font-family="'Liberation Sans', Arial, sans-serif" font-weight="bold" textLength="185.8" lengthAdjust="spacingAndGlyphs">Integrated</text>
<text x="1365.4" y="544.9" font-size="29.5" font-family="'Liberation Sans', Arial, sans-serif" font-weight="bold" textLength="99.2" lengthAdjust="spacingAndGlyphs">Resting</text>
<text x="1365.8" y="583.4" font-size="29.5" font-family="'Liberation Sans', Arial, sans-serif" font-weight="bold" textLength="132.5" lengthAdjust="spacingAndGlyphs">Threshold</text>
<text x="430.9" y="799.6" font-size="29.6" font-family="'Liberation Sans', Arial, sans-serif" font-weight="bold" textLength="25.2" lengthAdjust="spacingAndGlyphs">IC</text>
<text x="548.6" y="799.6" font-size="29.6" font-family="'Liberation Sans', Arial, sans-serif" font-weight="bold" textLength="36.9" lengthAdjust="spacingAndGlyphs">TO</text>
<text x="618.3" y="799.6" font-size="29.6" font-family="'Liberation Sans', Arial, sans-serif" font-weight="bold" textLength="25.1" lengthAdjust="spacingAndGlyphs">IC</text>
<text x="661.2" y="799.6" font-size="29.6" font-family="'Liberation Sans', Arial, sans-serif" font-weight="bold" textLength="25.3" lengthAdjust="spacingAndGlyphs">IC</text>
<text x="771.2" y="799.6" font-size="29.6" font-family="'Liberation Sans', Arial, sans-serif" font-weight="bold" textLength="36.7" lengthAdjust="spacingAndGlyphs">TO</text>
<text x="850.3" y="799.6" font-size="29.6" font-family="'Liberation Sans', Arial, sans-serif" font-weight="bold" textLength="25.2" lengthAdjust="spacingAndGlyphs">IC</text>
<text x="893.3" y="799.6" font-size="29.6" font-family="'Liberation Sans', Arial, sans-serif" font-weight="bold" textLength="25" lengthAdjust="spacingAndGlyphs">IC</text>
<text x="1004.7" y="799.6" font-size="29.6" font-family="'Liberation Sans', Arial, sans-serif" font-weight="bold" textLength="36.6" lengthAdjust="spacingAndGlyphs">TO</text>
<text x="1080.9" y="799.6" font-size="29.6" font-family="'Liberation Sans', Arial, sans-serif" font-weight="bold" textLength="25.2" lengthAdjust="spacingAndGlyphs">IC</text>
<text x="1123.6" y="799.6" font-size="29.6" font-family="'Liberation Sans', Arial, sans-serif" font-weight="bold" textLength="24.9" lengthAdjust="spacingAndGlyphs">IC</text>
<text x="1230.3" y="799.6" font-size="29.6" font-family="'Liberation Sans', Arial, sans-serif" font-weight="bold" textLength="36.8" lengthAdjust="spacingAndGlyphs">TO</text>
<text x="1314.5" y="799.6" font-size="29.6" font-family="'Liberation Sans', Arial, sans-serif" font-weight="bold" textLength="24.8" lengthAdjust="spacingAndGlyphs">IC</text>
<text transform="translate(429.7,187.3) rotate(-90)" x="0" y="0" text-anchor="middle" font-size="29" font-family="'Liberation Sans', Arial, sans-serif" font-weight="bold" textLength="47" lengthAdjust="spacingAndGlyphs">a.u.</text>
<text transform="translate(432,357) rotate(-90)" x="0" y="0" text-anchor="middle" font-size="29" font-family="'Liberation Sans', Arial, sans-serif" font-weight="bold" textLength="47" lengthAdjust="spacingAndGlyphs">a.u.</text>
<text transform="translate(429.8,524) rotate(-90)" x="0" y="0" text-anchor="middle" font-size="29" font-family="'Liberation Sans', Arial, sans-serif" font-weight="bold" textLength="47" lengthAdjust="spacingAndGlyphs">a.u.</text>
<text transform="translate(431.7,692.3) rotate(-90)" x="0" y="0" text-anchor="middle" font-size="29" font-family="'Liberation Sans', Arial, sans-serif" font-weight="bold" textLength="47" lengthAdjust="spacingAndGlyphs">a.u.</text>
</svg>
</body></html>
